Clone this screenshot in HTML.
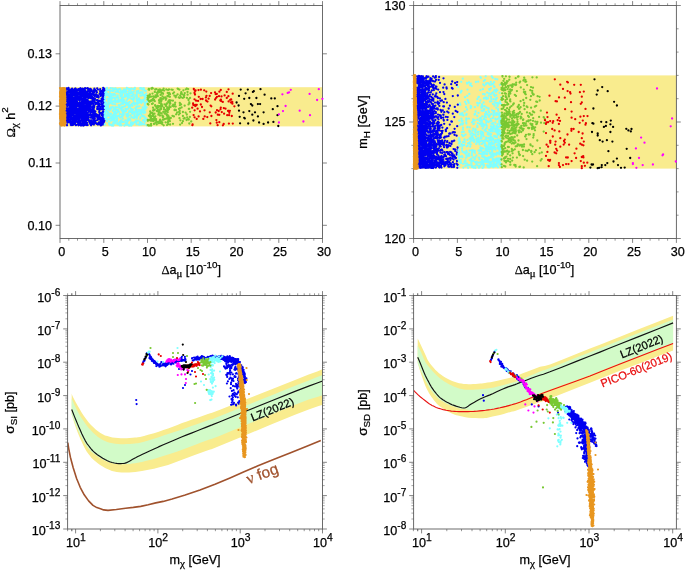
<!DOCTYPE html>
<html><head><meta charset="utf-8"><title>fig</title>
<style>html,body{margin:0;padding:0;background:#fff}svg{display:block;will-change:transform}text{font-family:"Liberation Sans", sans-serif}</style>
</head><body>
<svg width="685" height="570" viewBox="0 0 685 570">
<rect width="685" height="570" fill="#fff"/>
<rect x="60" y="87.2" width="262.5" height="39.2" fill="#F9EC8E"/>
<rect x="60" y="5.5" width="262.5" height="233" fill="none" stroke="#646464" stroke-width="0.95"/>
<path d="M68.8 238.5v2.2M68.8 5.5v-2.2M77.5 238.5v2.2M77.5 5.5v-2.2M86.2 238.5v2.2M86.2 5.5v-2.2M95 238.5v2.2M95 5.5v-2.2M112.5 238.5v2.2M112.5 5.5v-2.2M121.2 238.5v2.2M121.2 5.5v-2.2M130 238.5v2.2M130 5.5v-2.2M138.8 238.5v2.2M138.8 5.5v-2.2M156.2 238.5v2.2M156.2 5.5v-2.2M165 238.5v2.2M165 5.5v-2.2M173.8 238.5v2.2M173.8 5.5v-2.2M182.5 238.5v2.2M182.5 5.5v-2.2M200 238.5v2.2M200 5.5v-2.2M208.8 238.5v2.2M208.8 5.5v-2.2M217.5 238.5v2.2M217.5 5.5v-2.2M226.2 238.5v2.2M226.2 5.5v-2.2M243.8 238.5v2.2M243.8 5.5v-2.2M252.5 238.5v2.2M252.5 5.5v-2.2M261.2 238.5v2.2M261.2 5.5v-2.2M270 238.5v2.2M270 5.5v-2.2M287.5 238.5v2.2M287.5 5.5v-2.2M296.2 238.5v2.2M296.2 5.5v-2.2M305 238.5v2.2M305 5.5v-2.2M313.8 238.5v2.2M313.8 5.5v-2.2" stroke="#505050" stroke-width="0.6" fill="none"/>
<path d="M60 238.5v4.4M60 5.5v-4.4M103.8 238.5v4.4M103.8 5.5v-4.4M147.5 238.5v4.4M147.5 5.5v-4.4M191.2 238.5v4.4M191.2 5.5v-4.4M235 238.5v4.4M235 5.5v-4.4M278.8 238.5v4.4M278.8 5.5v-4.4M322.5 238.5v4.4M322.5 5.5v-4.4" stroke="#505050" stroke-width="0.7" fill="none"/>
<path d="M60 225.3h-4.4M322.5 225.3h4.4M60 163h-4.4M322.5 163h4.4M60 106.1h-4.4M322.5 106.1h4.4M60 53.8h-4.4M322.5 53.8h4.4" stroke="#505050" stroke-width="0.7" fill="none"/>
<text x="61.8" y="255.8" text-anchor="middle" font-size="12.6" fill="#000" stroke="#000" stroke-width="0.25">0</text>
<text x="105.2" y="255.8" text-anchor="middle" font-size="12.6" fill="#000" stroke="#000" stroke-width="0.25">5</text>
<text x="148.9" y="255.8" text-anchor="middle" font-size="12.6" fill="#000" stroke="#000" stroke-width="0.25">10</text>
<text x="192.7" y="255.8" text-anchor="middle" font-size="12.6" fill="#000" stroke="#000" stroke-width="0.25">15</text>
<text x="236.4" y="255.8" text-anchor="middle" font-size="12.6" fill="#000" stroke="#000" stroke-width="0.25">20</text>
<text x="280.1" y="255.8" text-anchor="middle" font-size="12.6" fill="#000" stroke="#000" stroke-width="0.25">25</text>
<text x="323.9" y="255.8" text-anchor="middle" font-size="12.6" fill="#000" stroke="#000" stroke-width="0.25">30</text>
<text x="51.9" y="229.6" text-anchor="end" font-size="12.6" fill="#000" stroke="#000" stroke-width="0.25">0.10</text>
<text x="51.9" y="167.3" text-anchor="end" font-size="12.6" fill="#000" stroke="#000" stroke-width="0.25">0.11</text>
<text x="51.9" y="110.4" text-anchor="end" font-size="12.6" fill="#000" stroke="#000" stroke-width="0.25">0.12</text>
<text x="51.9" y="58" text-anchor="end" font-size="12.6" fill="#000" stroke="#000" stroke-width="0.25">0.13</text>
<text x="191.2" y="274.3" text-anchor="middle" font-size="12.6" fill="#000" stroke="#000" stroke-width="0.25"><tspan font-family='"Liberation Serif", serif'>Δ</tspan>a<tspan font-family='"Liberation Serif", serif' font-size="10.8" dy="3">μ</tspan><tspan dy="-3"> [10</tspan><tspan font-size="9.8" dy="-6.8">-10</tspan><tspan dy="6.8">]</tspan></text>
<text x="0" y="0" text-anchor="middle" font-size="12.6" fill="#000" stroke="#000" stroke-width="0.25" transform="translate(15 122.4) rotate(-90)"><tspan font-family='"Liberation Serif", serif'>Ω</tspan><tspan font-family='"Liberation Serif", serif' font-size="11.3" dy="3">χ</tspan><tspan dy="-3"> h</tspan><tspan font-size="9.8" dy="-7">2</tspan></text>
<path d="M67 112.4h0M84.8 93.3h0M76.7 121.8h0M70.9 95.9h0M79.8 117.9h0M84.2 112.5h0M66.8 118.9h0M71.4 109.2h0M79.9 124.8h0M76.6 93.4h0M75.8 108.9h0M80.5 95.2h0M76.6 89.9h0M85.1 88.9h0M76.4 94.6h0M71.2 103.1h0M70.7 97.8h0M71.8 106.8h0M84.5 95.9h0M69.2 89.6h0M83.7 117.4h0M82.1 93.6h0M74.4 113.2h0M76.2 115.5h0M69.6 121.9h0M77.4 111h0M77.3 104.7h0M66 94.2h0M75.2 91.1h0M77.4 95.1h0M79.2 103.2h0M78.7 97.9h0M68.2 113h0M82 95.9h0M66.5 120.7h0M80.5 116.8h0M81.3 103.7h0M84.4 118.4h0M80.6 123.4h0M83.6 109.2h0M66.9 110.2h0M75.5 88.6h0M71.9 118.8h0M78 123h0M80.6 95h0M79.8 89.8h0M82.8 99.1h0M84.8 89.8h0M80.3 91.8h0M82.7 118.7h0M75.8 109.2h0M70.1 101.7h0M68.7 102.8h0M68.5 111.8h0M75.4 101.4h0M72.6 123.8h0M84.4 124.8h0M72.9 91.1h0M69 120.4h0M72.7 93.5h0M84.5 96.4h0M76.8 103.5h0M68.5 102h0M81.2 108.4h0M82.6 88.6h0M67.9 104.2h0M78.4 103.5h0M71.2 118.6h0M82.5 112.4h0M68.4 115.9h0M77.7 115.6h0M80.2 109.2h0M73.3 119.5h0M83.9 123.8h0M71.7 96h0M69.5 113.6h0M84.7 97h0M74.6 108.5h0M73.9 108.6h0M73 110.1h0M84.9 116.7h0M84.6 103.8h0M68.7 95.6h0M70.3 116.9h0M70.1 109.1h0M83.9 103.8h0M70.4 121.4h0M85 90.6h0M81.9 124.6h0M71.6 101.5h0M69.5 96.2h0M80.9 104.6h0M71.8 101.7h0M83.6 125.5h0M72 98.1h0M71.1 117.5h0M83.6 95.2h0M67.8 100.5h0M82 119.9h0M84.4 103.8h0M66.6 89.7h0M81.6 102.1h0M69.1 98.6h0M67.7 122.5h0M74.2 107h0M69.7 107.7h0M70.7 123.3h0M82.7 115h0M76.8 115.5h0M67.4 101.6h0M83 117.7h0M72 102.4h0M68.5 88h0M84.4 94.9h0M81.5 94.7h0M74.7 108.5h0M69.4 98.6h0M68.5 88.1h0M73 119.6h0M70.1 104.3h0M73.5 107.4h0M70 89.8h0M72.2 124.8h0M77.1 105h0M71.5 115h0M68.7 111.1h0M75.6 90.6h0M75.6 100.7h0M66 104.9h0M69.8 92h0M79.2 108.8h0M73.4 114.5h0M83 101.7h0M76.1 121.5h0M71 105h0M75.3 101.6h0M76.8 117.6h0M82.9 103.5h0M71.3 116.9h0M79.6 98.3h0M74.5 97.3h0M76 95.8h0M67.2 98h0M67.5 99.3h0M72.2 99.7h0M84 116.7h0M70.9 122h0M75.2 88.6h0M75 91.2h0M71.2 124.1h0M76.2 125h0M74.4 100.5h0M70.3 97.3h0M80.9 110.2h0M82.6 106h0M82.8 121.9h0M67.2 113.1h0M67.2 101.3h0M68.3 111.8h0M68.2 91.3h0M80.2 113.5h0M82.4 122.2h0M79.7 119.2h0M71.4 105.2h0M76.5 103h0M74.8 106.1h0M75.9 89.5h0M68.7 117h0M82.7 95.8h0M68 96.8h0M83 104.7h0M85 106.7h0M68.1 116.8h0M68.1 114.2h0M85.3 116h0M81.7 104h0M67 96.5h0M82.6 117.7h0M77 95.6h0M75.1 118.8h0M67.9 122h0M67.3 115.1h0M66.1 120.1h0M71.9 108.7h0M66.6 113.1h0M85.3 99.4h0M82.2 93.7h0M66.5 113.1h0M71.1 114.9h0M67.1 93h0M72 107.5h0M70.5 92.8h0M68 101.8h0M67 108.4h0M66.4 107.6h0M72 89.5h0M66.2 109.9h0M79.7 94.8h0M77 91.2h0M74.9 118.7h0M69.5 105.5h0M83.5 98.1h0M81.1 90.9h0M71.1 117.2h0M82.8 98.9h0M73.8 100.5h0M69.5 100.4h0M82.2 109.6h0M82.3 109.5h0M79 108.9h0M69.9 106.4h0M72.5 96.6h0M72 122.6h0M84.6 124.4h0M76.5 98.4h0M72.9 99.2h0M84.6 120.5h0M81.2 107.6h0M75.3 115.7h0M83.2 114.9h0M84.3 110.7h0M82.2 110.8h0M76.5 118.9h0M74.5 119.7h0M70.8 124.7h0M80.1 95.3h0M79.2 98.9h0M67.7 93h0M74.3 123.7h0M70.4 108.4h0M74.4 94.4h0M79.4 99.4h0M66.7 119.9h0M80.7 89.8h0M74.6 100h0M78.6 99.8h0M79.5 89.7h0M83.6 112.3h0M73.6 118.8h0M80.3 99.8h0M67.5 112h0M74.1 120.6h0M68.7 119.2h0M82.3 95.7h0M70.8 111.1h0M71.4 106.3h0M76.2 102.8h0M68.2 98.7h0M81.7 118.1h0M67.8 114.1h0M83 111h0M84.6 110.2h0M75 103.1h0M77.2 112.9h0M85.2 93.6h0M72.2 121.6h0M79.2 99.6h0M76.8 90.4h0M68.7 89.5h0M82.4 93.1h0M73.1 100.4h0M79.4 90.8h0M66 94.5h0M76.9 101.3h0M67.3 98.8h0M71 115.3h0M79.8 88.8h0M82.1 92h0M73.6 103.9h0M66.4 92.1h0M80.3 113.9h0M81.2 124.4h0M83.2 99.3h0M78.7 112.8h0M70.2 116.6h0M83.6 110.2h0M81.1 98.6h0M82.3 100.4h0M71.7 109.2h0M77.8 105.5h0M82.1 116.4h0M76.1 121.2h0M73.6 102.6h0M85 99.8h0M68.4 120.1h0M79.3 100.1h0M81.6 113.5h0M74.6 107.9h0M84.4 108.3h0M67.8 104.5h0M71.7 124.1h0M74.3 103h0M80.8 116.8h0M67.3 113.6h0M84.1 109.8h0M71.2 123.1h0M67 106.4h0M69.7 108.9h0M73.6 121.1h0M67.2 105.5h0M71.4 92.1h0M82.3 112.4h0M72.7 108h0M74.5 90.2h0M72.2 89.3h0M67.7 119.9h0M81.1 99.1h0M66.1 121.1h0M67.1 97.2h0M82.4 109.6h0M74.4 117.4h0M83.8 109.7h0M83.8 90.6h0M76 113.8h0M82.4 105.9h0M78.1 98.9h0M80.1 109.8h0M85.2 107.9h0M69.5 117.8h0M74.6 92.9h0M84.6 106.6h0M69.1 95.6h0M70.8 122.9h0M81.7 89.3h0M79.5 100.3h0M74.4 115.9h0M71.5 99h0M84 117.6h0M82.1 115.9h0M84.6 116.4h0M80.4 98.9h0M79.6 123.2h0M77 115h0M69.2 105.5h0M76.2 115.4h0M75.9 96.9h0M85.1 106.2h0M68.1 119.6h0M72.9 123.8h0M66.4 116.6h0M79.1 114.9h0M66.5 107h0M75.7 99.3h0M67.5 111.1h0M72.9 125.1h0M70.4 102.7h0M78.7 93h0M68.7 91.3h0M82.4 117.5h0M68.1 98.6h0M78.8 90.2h0M67 95.1h0M81 97.3h0M80.4 94.1h0M78.2 113.4h0M78.3 94.6h0M74.9 97.5h0M72.1 100.5h0M83.6 95h0M73.5 117.4h0M67.3 117.2h0M83.5 111.3h0M83.9 105.1h0M81 125.5h0M75.5 105h0M84.4 114.2h0M75.7 102.9h0M79.8 124.6h0M75.6 105.4h0M75.7 89.5h0M81.9 115.2h0M78.1 114.2h0M81.6 104.3h0M77 97.1h0M76.7 112.5h0M76.8 95.3h0M71.2 89.5h0M74 109.7h0M72.7 113.2h0M73.3 105.7h0M69.7 108h0M70 96.3h0M74.2 112h0M75.9 96.6h0M77 114.4h0M69.9 92.5h0M82.8 100.9h0M76.8 106.4h0M75.8 99.8h0M68.7 114.3h0M79.1 123.2h0M75.5 120h0M75.6 125.1h0M69 99.3h0M80.9 103.9h0M76.8 121.3h0M70 90.5h0M66.1 111.3h0M84.3 97h0M75.7 104.1h0M75.4 119h0M83.1 110h0M75 122.1h0M74.5 99.4h0M75.1 112.9h0M70.4 116h0M73.1 90.3h0M79.5 121.3h0M83.6 124.9h0M66.7 124.6h0M83.4 121.5h0M65.9 113.2h0M69.6 121.9h0M71.2 90.1h0M77.3 114h0M76.2 103.5h0M67.1 115.2h0M65.9 109.8h0M67.7 105.1h0M77.2 97.3h0M80.6 97.6h0M82.7 102.8h0M79.2 105h0M72 91.5h0M77.8 89.9h0M75 103.3h0M71.5 97.5h0M75.3 121.1h0M81.3 99.6h0M77.4 111.7h0M79.9 111.5h0M67 93.4h0M81.2 97.9h0M76.9 90h0M77.2 98.8h0M66.6 88.6h0M70.5 107.4h0M80.5 89.2h0M75.7 100.6h0M77.7 114.4h0M67.4 97.3h0M82.8 113h0M69 108.2h0M72.9 93.8h0M73.7 107.9h0M78.7 121.2h0M71.1 125.2h0M73 112.3h0M73.5 104.9h0M79.2 115.9h0M67.1 88.9h0M72.6 99.9h0M74.5 123.5h0M71.7 96.5h0M74.2 100.5h0M73.8 107.8h0M68 116.4h0M78.2 116.3h0M74.4 94.6h0M80.3 120.8h0M83.3 115.2h0M68.2 99h0M79.3 89.5h0M71.3 102.5h0M81.4 89h0M71.1 112h0M65.9 99.6h0M80.2 105.5h0M80.3 97.2h0M79.8 93.9h0M78.1 117.7h0M67 98.6h0M72.3 121.2h0M67.1 103.5h0M85.3 91.5h0M84.5 90.7h0M76.4 104.9h0M79.2 98.7h0M75 120.6h0M69 121.7h0M67.6 94.6h0M70.2 108.2h0M71.9 105.7h0M66.9 99.3h0M65.9 92.6h0M78.7 109h0M74.8 89h0M80.6 91.7h0M79.5 103.3h0M82.9 91.7h0M72.7 89.6h0M84.1 111.1h0M72.4 94.1h0M83.2 101.4h0M68.2 105.6h0M72.9 118.8h0M67 116.8h0M83.2 90.3h0M79.1 115.3h0M80.6 120.6h0M74.9 112.3h0M77.3 104.6h0M68.4 108.4h0M76.1 101h0M80.1 121.4h0M75.8 102.2h0M75.8 115.7h0M71.7 119h0M78.7 114.4h0M77.4 90.5h0M78.5 120.6h0M78.9 119.7h0M68.6 105.1h0M79.8 123.6h0M67.4 95.7h0M70.5 97.6h0M78.5 103.4h0M83.9 113.4h0M79.4 122.1h0M82.6 89.1h0M74.1 112.4h0M80 122h0M69.8 106.6h0M83.4 95h0M66.6 104h0M69.2 89.3h0M73.5 111.9h0M78.4 120.2h0M71.3 98.4h0M83.5 90.1h0M77.4 93.1h0M80.6 92.4h0M82.2 99h0M84 111.7h0M80.9 95.6h0M78.9 112.7h0M73.6 108.9h0M76.3 119.6h0M85.3 118.8h0M75.5 91.8h0M78.2 124.6h0M70 93.1h0M69.5 91.4h0M75.8 95.6h0M83.1 121.5h0M82.8 108h0M74.6 113.1h0M73.7 109.2h0M67 108.7h0M76.8 96.2h0M69.3 104.4h0M83.4 125.3h0M79.7 100.4h0M72.2 122.8h0M71 110.5h0M79.9 98.6h0M83.9 97.4h0M85.2 114.5h0M76.1 109.7h0M83.3 120.2h0M66.6 100h0M66 103.9h0M79.6 102.6h0M76.8 94.1h0M69.8 100.5h0M70.8 114.8h0M81.1 99.6h0M82.2 101.2h0M82.1 114.4h0M75.6 116.9h0M81.2 96.3h0M83.4 100.9h0M67 125.3h0M85.2 112.9h0M66.6 88.5h0M81.1 114h0M82.3 124.1h0M78.1 118.6h0M72.9 103.3h0M77.9 99.6h0M78.6 121.2h0M74.5 121.5h0M80.7 97.8h0M67.1 99.9h0M77.5 109.9h0M69 113.8h0M72 102.4h0M68 114.7h0M70.7 95.6h0M83.3 100.5h0M81.6 90.2h0M75.7 112.3h0M79.6 105.5h0M69.2 108.4h0M83.1 99.1h0M73.7 113h0M72.7 112.4h0M74 94.2h0M75.1 90.3h0M67.3 104.2h0M72.5 118.2h0M66.8 101h0M77.6 109.4h0M77.9 109.7h0M84.7 96.4h0M75.7 90.8h0M80.7 108.6h0M84.7 92.3h0M76.3 98.1h0M74 122.9h0M70.3 93h0M73.7 98.2h0M80.9 114.8h0M70.9 119.5h0M70.4 90.4h0M69.1 109.7h0M80.9 115h0M68.9 102.8h0M81.8 111.8h0M80.8 93.7h0M81.5 94.4h0M66.4 106h0M78.4 111.8h0M75.3 94.9h0M76.9 105.8h0M65.8 97.9h0M73.3 115.5h0M84.8 124.8h0M76.9 101.3h0M82.6 118.1h0M84.6 97.6h0M85.3 110.3h0M78.4 96.8h0M83.9 93.4h0M79.3 122.8h0M81.5 96h0M85 119.6h0M85.3 118.1h0M84.4 96.2h0M69.9 97h0M75.1 94.8h0M83.5 119.3h0M72.5 97.6h0M68.4 95.8h0M71.1 99.8h0M79.6 90.3h0M76.7 118.4h0M70.5 111.8h0M70.9 121.6h0M75.6 101.8h0M83.9 107.3h0M73.3 95h0M67.9 99.8h0M66.2 120.6h0M83.4 119.6h0M75.2 101.3h0M71.4 93.2h0M71.4 99.6h0M75.6 95.1h0M76.1 106.7h0M68.5 109.7h0M83.5 116.4h0M76.4 97.3h0M79.8 97h0M82.4 98.4h0M69.6 117.3h0M69.9 98.5h0M79.4 102.4h0M73.5 122.4h0M82.8 125.3h0M76.7 102.2h0M77.3 103.4h0M84.7 97.9h0M82 117.6h0M71.2 117.3h0M79.4 118h0M75.9 93.4h0M75.2 123.9h0M83.6 100h0M78.5 89.1h0M79.9 109.9h0M73.4 98.2h0M67.4 97h0M74.2 104h0M68.8 114.1h0M66 94.7h0M71.3 94.6h0M81.7 123.8h0M75 100.6h0M82.3 116.5h0M78.5 122.7h0M67.2 110.3h0M71 124.4h0M67 121.3h0M83.7 90.2h0M83.1 107h0M83.4 105.6h0M85 99.9h0M69.6 111.8h0M84.9 97.6h0M79.2 98h0M73.1 111.1h0M80.9 106.6h0M84 112.6h0M66.5 111.1h0M66.5 97.1h0M76.3 103.4h0M79.2 103.3h0M81.6 108.8h0M77.4 111.1h0M75.6 108h0M65.9 93.6h0M71.9 96.6h0M69.5 114h0M74.4 94.1h0M78.6 94.6h0M71.6 95.5h0M79.1 107h0M66 114.5h0M69.3 97.8h0M67.8 110.4h0M76.7 97.4h0M85.3 103h0M68.4 118.1h0M75.8 105.5h0M77.6 105.8h0M74.3 89.6h0M81.4 108.7h0M79.8 90.2h0M75 100.9h0M76.1 114.1h0M70.8 115.6h0M79.4 90.7h0M82.6 111.5h0M71 121.6h0M66.6 109.6h0M82.5 115.3h0M83.7 106.3h0M83.7 89.7h0M82 95.2h0M78.5 125.3h0M75.6 119.8h0M79.1 119.8h0M65.9 106.3h0M78.5 115.3h0M84.2 94.8h0M76 111.4h0M73.6 122.5h0M75.7 90.8h0M78.3 116h0M79.5 106.4h0M74.9 120.1h0M79.5 114.5h0M81.8 91.9h0M79.5 120.2h0M80.1 123.5h0M73.5 116.4h0M80.8 116.1h0M75.9 106.1h0M83.8 96.2h0M72 94.3h0M82.3 119.4h0M72.8 103h0M81.2 112.1h0M74.2 123.8h0M76.2 91.5h0M73 101.3h0M68.7 111.5h0M76.6 114.4h0M83.6 96h0M71.2 112h0M80.2 113.9h0M66.8 117.7h0M70.5 90.7h0M84.7 92.3h0M84.3 96h0M69.8 122.4h0M80.1 124h0M66.5 113.7h0M74.3 98.4h0M74.1 118.2h0M74.9 123h0M84.1 110.7h0M68.1 93h0M76.3 119.1h0M85.4 115h0M65.8 122.1h0M77.4 92.8h0M79.5 123.3h0M71.1 109.6h0M78.1 110.7h0M72.4 108.7h0M83.8 108.7h0M69.1 109.5h0M80.4 90.9h0M82.7 105.9h0M70 96.4h0M67.3 120h0M81.8 103.6h0M85.1 96.4h0M65.8 119.2h0M80.7 94.8h0M72 91h0M76.7 108h0M78.2 119.7h0M82.4 100.9h0M74 93.7h0M77.2 102.6h0M79.4 99.4h0M72.8 112.5h0M68.7 96.9h0M76.7 113h0M68.2 103.4h0M74.7 103.3h0M67.1 113.8h0M79.5 97.3h0M76.3 119.1h0M80.3 88.4h0M72 96.3h0M82.8 114.3h0M80.5 88.5h0M80.4 93.3h0M69.4 105.5h0M77.7 97.6h0M82.7 115.5h0M84.7 93.4h0M75 101.8h0M73.5 91.8h0M83.5 92.7h0M66.8 88.6h0M81.3 120.7h0M72.1 95.2h0M71.3 104.2h0M77.8 98h0M80.3 115.6h0M84 123.3h0M80.4 123.4h0M81.1 102.5h0M66.3 96.1h0M84.3 112.9h0M81.8 90.1h0M81.2 98.5h0M71.6 104.4h0M82.1 114.6h0M85.1 88.2h0M74.3 111.3h0M74.6 102.6h0M83.4 107.1h0M68.8 102.6h0M73.5 98.7h0M67.7 119.5h0M79.5 124.6h0M79.3 106.8h0M83.8 111.1h0M83.1 121.4h0M75.3 96h0M72.5 121.2h0M74 102.8h0M70.1 117h0M65.8 120.6h0M68.9 96h0M71.2 104h0M77.2 116.2h0M75.2 113.4h0M66.6 111.2h0M77.2 90.8h0M84.8 110.5h0M75.2 95.9h0M76 119.9h0M79.4 91.2h0M71.9 122.6h0M67.9 111.6h0M82.8 113.6h0M78.2 89.4h0M71.3 96.9h0M70.9 112.9h0M72.1 88.6h0M66.8 103.5h0M74.2 108.9h0M72 118.1h0M84 121.8h0M84.2 102.2h0M74.6 120.9h0M69.1 121.8h0M81.8 99.5h0M65.8 107.9h0M69.6 95h0M73.3 103.3h0M80.4 114.2h0M81.6 117.3h0M73.6 101.1h0M73.2 107.7h0M75.2 109.4h0M83.7 101.4h0M76.8 95.2h0M76.9 109.9h0M79 104.9h0M68.5 101.2h0M71.2 95h0M83.9 114.4h0M94.3 123.4h0M86.7 99.4h0M89.3 103.3h0M88.4 91.2h0M94.1 120.3h0M90.3 102.2h0M90.4 108.3h0M87.9 115.4h0M86.5 101.7h0M93.1 115h0M85.9 100.6h0M89.5 94h0M92 111.3h0M87.8 100.4h0M85.8 95.3h0M90.1 108.4h0M93.2 118.1h0M91.9 109.8h0M86.3 104.6h0M93.8 117.4h0M92.1 121.3h0M93.1 97.6h0M93.9 124.6h0M90.3 109.7h0M93.1 118.3h0M93.9 105.6h0M93.5 104.6h0M88.7 106.6h0M90.4 89h0M86.2 119.9h0M84 121.4h0M94.2 105.6h0M93.7 122h0M88 117.2h0M86 102.9h0M85.6 99.6h0M94.7 112h0M87.3 91.6h0M93.3 123.1h0M94.9 89.9h0M92.6 99.5h0M85.9 106.5h0M87.1 123h0M85.4 101.7h0M85.5 115h0M89.2 106.3h0M93.9 110.2h0M89.4 120.4h0M90.3 121.8h0M91 115.2h0M89.6 92.3h0M90.3 121h0M92.2 124h0M86.5 120.4h0M85.5 88.5h0M84.1 95.8h0M86.2 117.5h0M89.4 120.9h0M87.7 93.6h0M86.9 95.2h0M92.4 123.3h0M89.8 108.8h0M90 114.2h0M93.1 119h0M88.7 106.9h0M88.9 94.1h0M84.5 118.9h0M88.6 94.5h0M84.1 88.9h0M88.5 109.5h0M94.1 116.5h0M88.2 110h0M83.9 94.1h0M88.6 110.2h0M91.3 122.6h0M87.7 102.8h0M85.2 98.5h0M85.8 119h0M90.7 117.6h0M84.4 105.9h0M91.1 96.3h0M89.7 89.5h0M91 110.6h0M91 89.5h0M89.8 101.7h0M86.2 125.1h0M89.6 114.6h0M89.2 121.5h0M85.5 106.2h0M91.6 94.5h0M85.3 106.4h0M89.7 120.8h0M90.9 96.8h0M87.4 119.3h0M85.5 99.7h0M87.3 110.6h0M91.8 93.8h0M88.6 120.4h0M91.1 120.4h0M93.3 107.8h0M86.8 99.9h0M89.6 122h0M86.8 117.6h0M86.6 96.9h0M84.2 102.8h0M92.8 103.7h0M90.7 91.3h0M87.2 107.7h0M83.8 98.5h0M92.9 91.8h0M92.6 111.9h0M86.2 94.7h0M91.2 109.3h0M87.5 118.3h0M89.8 122.9h0M87.5 104.7h0M93.1 99.6h0M92.3 117.4h0M91.1 110.6h0M93.5 94.5h0M94.5 120.6h0M87.6 88.1h0M95 121.6h0M90.9 124.6h0M85.4 99.5h0M88.1 94.2h0M85.6 120.4h0M89.4 103.3h0M88.3 114.3h0M91.6 103h0M84.8 100.2h0M87 94.7h0M90.3 123.9h0M90.2 90h0M85.2 123.2h0M94.7 102.2h0M88.8 98.1h0M91.4 122.1h0M90.3 114.6h0M83.8 120.4h0M89.9 89.5h0M87.4 115.7h0M86 118.2h0M90.6 112.2h0M93.8 122.2h0M87.2 93.2h0M91.5 116.1h0M86.7 103.3h0M93.3 94.3h0M84.7 123.3h0M83.7 95.9h0M83.9 105h0M91.5 96.3h0M85.1 106.9h0M86.1 109.4h0M88.5 98h0M92.9 98h0M90 89.5h0M93.5 94.9h0M91.1 125.3h0M86.1 114.1h0M84.4 122.7h0M91.1 114.6h0M84.1 102.4h0M90.4 97.6h0M92.2 109.3h0M86 120.6h0M91 97.4h0M87.6 113.1h0M90.9 104.3h0M91.2 90.3h0M86.2 91.6h0M91.4 115.1h0M91.7 111.7h0M87.4 107h0M88.5 93.4h0M92.9 93h0M86.8 116h0M93.4 91.7h0M92.4 97.1h0M94 91.7h0M94.9 98.5h0M86.5 119.2h0M87.4 94.1h0M87.1 123.1h0M89.9 106.3h0M90 92.1h0M90.1 114.8h0M83.7 95h0M94.2 106.5h0M86.6 111h0M88.1 89.9h0M94.5 101h0M88.9 101.6h0M92.8 101.6h0M87.4 105h0M94.7 121.9h0M84.2 123h0M90.4 93.4h0M87.4 113.3h0M94.3 117.4h0M87.5 106.2h0M92.4 110.2h0M89.7 90.2h0M85.5 93h0M86.2 114.2h0M89.9 106h0M89.9 94.2h0M85.5 111.2h0M94.7 95.1h0M89.7 95.6h0M84.3 124.8h0M92.5 118.4h0M91.1 90.6h0M87.7 125.1h0M89.1 114.7h0M94.5 114.8h0M85.7 122.3h0M92 97h0M84.1 100.2h0M88.5 97.4h0M88 105.2h0M86.1 121.5h0M90.9 123.8h0M90.7 95.1h0M84.4 99h0M89.9 120.7h0M92.9 122.7h0M92.3 107.3h0M87.7 93.8h0M83.7 117.3h0M90.6 98h0M85 88.8h0M88.9 97.1h0M93.4 90.6h0M89.2 105.4h0M91.2 95.5h0M90.3 97.3h0M88.2 96.4h0M93 107.4h0M83.8 106.1h0M93.3 92h0M93.2 113.2h0M92.1 115.8h0M84 103.5h0M93.1 114.3h0M92.2 111.2h0M88 119.4h0M85.2 120.1h0M93.1 106.2h0M90.4 114.9h0M83.9 94h0M92.8 98.8h0M88.3 117h0M91.4 90.1h0M88.1 96.5h0M88.7 102.7h0M87.8 117.3h0M89 111.7h0M86 99.6h0M88.9 110.7h0M88.5 117.3h0M87.8 96.9h0M87.1 105.9h0M93.3 115.9h0M86.1 124.2h0M93.7 112.1h0M89.5 120.7h0M91.3 110.9h0M84.1 107.7h0M93.2 103.8h0M94.3 102h0M88.4 118.1h0M88.6 95.4h0M90.7 91.4h0M84.8 111.4h0M89.7 92.5h0M88.3 88.6h0M93.4 120h0M84.6 101.4h0M86.4 112.5h0M89.5 109h0M93.4 109.6h0M90.1 115.4h0M86.3 115.9h0M94.2 111.1h0M94 99.9h0M87.2 109.4h0M84.3 107.7h0M84.8 110.2h0M94.4 88.7h0M87.5 88.6h0M87.5 100.8h0M83.7 93.4h0M90.7 106.2h0M91.4 101.4h0M91.7 112.1h0M92.4 99.3h0M89.2 90.7h0M87.3 106.9h0M102.4 122.9h0M101.6 98.6h0M98.2 116.3h0M103.1 123.2h0M97.9 100.5h0M101.6 106.8h0M102.6 104.4h0M95.6 102.6h0M99.6 114.9h0M97.9 124.5h0M95.6 102.8h0M96.2 94.2h0M102.8 122.4h0M103.7 109h0M94.6 89.4h0M96.5 123.8h0M97.5 123.6h0M97.9 89.6h0M102 115.4h0M100 108.7h0M101.2 94.5h0M97.6 102.8h0M95.4 111.5h0M99.7 93.7h0M102.8 91.1h0M97.9 95.5h0M101.8 94.9h0M94.8 118.7h0M97.8 116.1h0M101.3 120.7h0M97.6 118.2h0M99.4 118.9h0M96.9 92.2h0M100.6 122.5h0M97.2 109h0M100 91.1h0M100.3 117.5h0M97.2 88.4h0M97.5 103.6h0M100.2 94.7h0M94.6 121.5h0M99.7 104.1h0M102 91.3h0M101 119.5h0M98.1 103.1h0M103.4 93.9h0M100.5 106.7h0M99.2 112h0M100 113.2h0M96.6 116.5h0M98.6 97.5h0M95.7 116.3h0M103.4 120.9h0M102.1 124.2h0M103.9 108.2h0M101.4 91.1h0M94.4 92.1h0M100.4 123.7h0M98.9 122.4h0M96.1 114.2h0M100.6 93.1h0M97.2 115h0M99.4 114.4h0M99.2 119.1h0M100.1 109.6h0M102.5 120.2h0M100.6 125.3h0M100.5 120.8h0M99.5 118.7h0M97.7 103.9h0M101 122.3h0M102.7 121h0M100.6 122.4h0M104.1 93.9h0M97 100.2h0M98.9 119.1h0M103 111.7h0M94.8 102.6h0M101.1 120.6h0M95.6 120.6h0M102.2 118h0M100.7 125.4h0M101.5 104.5h0M104 107.5h0M103.9 109.3h0M101.9 114.4h0M94.4 92.6h0M103 90h0M98.5 108.5h0M102.8 96.2h0M97.5 119.9h0M98.5 115.9h0M95.5 114.7h0M99 124h0M98.4 102.3h0M97.2 95.6h0M100.5 93.9h0M97.3 106.9h0M102.7 96.1h0M95.7 122.7h0M101.3 102.2h0M94.9 99.9h0M96 90.8h0M97.4 102.6h0M101.5 124.4h0M96.8 96.9h0M96.3 94.7h0M101.4 109.2h0M95.8 104h0M98.1 106.2h0M101.7 119.6h0M102.4 106.8h0M101.7 125.1h0M103.7 107.5h0M102.7 93.5h0M99.1 105.9h0M98.8 109.6h0M103.5 100.6h0M98.2 119.2h0M99.3 108.5h0M103.2 88h0M98.6 118.1h0M99.4 100.9h0M95.2 113.6h0M100.3 92.9h0M94.1 107.8h0M99.7 116.9h0M100.2 89.2h0M101.2 100.3h0M101.2 112.9h0M102.2 98.5h0M98.5 103.8h0M98.8 100.9h0M94.8 96h0M98.3 96.7h0M99.8 101.3h0M100.6 95.9h0M99.9 109.8h0M103.6 116.5h0M103 107.9h0M103.6 89.3h0M103.5 104.8h0M102.6 104h0M103.5 105.9h0M104.6 91h0M103.6 99.7h0M103.2 104.4h0M104.4 120.8h0M102.8 99.1h0M103.8 114h0M103.8 97.9h0M103.9 106.1h0M103.5 122.5h0M103 120.1h0M103.9 113.8h0M103.2 99.7h0M103.9 109.3h0M102.6 93.1h0M104 88.9h0M103.5 92.2h0M103.9 99.2h0M103.8 101.7h0M104.2 89.4h0M104.6 114.5h0M102.4 90.9h0M103.5 121.6h0M103.2 88h0M104.2 94.1h0M103 117h0M103.7 121h0M104.2 88.8h0M103.8 117.5h0M103.7 117.3h0M104 107.8h0M104.3 113.9h0M103 109.4h0M104.4 112.3h0M104.4 91.6h0M102.9 101.2h0M103.7 95.7h0M102.6 115h0M103.5 95h0M104.6 88.8h0M103.9 121.9h0M104.1 105.6h0M103 112.7h0M102.8 123.7h0M103.6 102.7h0M103.4 124.3h0M102.7 115.2h0M102.8 97.7h0M103 113.3h0M103.8 98.6h0M103.6 118.8h0M102.6 104h0M103.2 116.7h0M104.3 118.8h0M103.3 121.6h0M104.1 108.2h0M104.4 90.7h0" stroke="#0000F0" stroke-width="2.3" stroke-linecap="round" fill="none"/>
<path d="M119.1 116h0M132.9 124h0M142.1 112.3h0M123 103.9h0M145.1 97.8h0M115.4 88.5h0M108.4 119.4h0M117.9 102.1h0M145.3 97.1h0M142.3 101.1h0M141 123.7h0M127.4 121.8h0M118.3 98.2h0M137.5 115.9h0M144.7 105.5h0M143.9 89.8h0M145.7 96h0M133.9 122.7h0M141.9 109.7h0M137.3 104.2h0M132.7 94.6h0M110.7 117.9h0M127.8 119.1h0M107.5 94.5h0M135.9 107.5h0M110.7 114.3h0M128 97.4h0M115.3 111.8h0M147.1 101.2h0M114.2 112.2h0M134.1 113.3h0M122.8 118.7h0M116.8 119.5h0M144.1 124.3h0M127.4 96.4h0M133.4 89.2h0M136.6 98.9h0M142.2 89.5h0M144.7 104.2h0M118.1 109.9h0M147.2 120.4h0M123.4 106.7h0M109.8 110h0M112.9 91.2h0M124.7 90.3h0M120.1 108.3h0M139.9 99.9h0M133.7 99.4h0M118.7 99.9h0M123 90.9h0M127.6 121.5h0M122.5 110.8h0M128.2 108.7h0M106.8 88.8h0M117.1 120.9h0M106 109.8h0M110.7 88.1h0M111 113.6h0M105.9 105.3h0M136.5 112.5h0M121.8 121.9h0M128.2 96.2h0M113 119.3h0M114.2 101h0M136.6 109.5h0M121.2 95.3h0M106.2 104h0M131.8 117.2h0M108.8 102.9h0M111 120.7h0M121.9 107.2h0M136.7 110.9h0M104.8 117.1h0M106.8 109.9h0M127.5 120.3h0M141.2 112.5h0M124 92.4h0M117.1 119.5h0M120.6 117.4h0M121.9 95.5h0M125.6 122.4h0M142.8 109.8h0M113.2 125.5h0M121.5 101h0M116.4 97.2h0M106.2 102.6h0M121.6 121.3h0M135.3 108.3h0M145.7 95.8h0M127.1 124.6h0M105.5 94.5h0M111 94.4h0M125.5 111.3h0M146.9 101.8h0M145.3 95.4h0M108.4 112.5h0M140.4 111.5h0M118.7 107.3h0M143.6 100h0M143.9 111.2h0M114.9 94.4h0M130.5 111.9h0M129.2 97.5h0M122.6 114.3h0M124 90.7h0M133 95.3h0M143.1 101.5h0M127.3 116.5h0M129.1 93.2h0M126.8 124.7h0M124.8 91.2h0M142.9 112.1h0M118.5 123.3h0M113.8 114.4h0M117.5 96h0M113.8 109.7h0M136.8 100.6h0M144.2 108.7h0M125.1 111.4h0M128 116.5h0M144 120.3h0M106.1 117.8h0M112.6 115.5h0M106.8 94.9h0M120.3 95.1h0M132.6 110.6h0M131 123.7h0M107.4 108.5h0M110 99h0M122.1 116.7h0M135.9 107.7h0M137.8 103.1h0M118.7 105h0M142.6 116.3h0M125.2 102.4h0M122.8 99.2h0M126.9 88.5h0M144.8 96.4h0M115.4 120.9h0M108.2 106.3h0M114.3 94.7h0M113.1 95.1h0M121.2 120.4h0M144.9 112.7h0M117.6 100.7h0M115.5 101.2h0M139.4 100.5h0M137.7 106.7h0M105.2 104.2h0M123.7 114h0M115.2 99.4h0M112.8 117.1h0M106.4 118.7h0M128.2 113.3h0M121.5 114.6h0M133.7 113h0M138.7 124.6h0M127.3 88.5h0M114.3 93.9h0M126.4 95.4h0M132.4 117.6h0M134.4 97.2h0M127.3 123.9h0M132.9 103.5h0M105.8 119.2h0M132.3 105.9h0M139.5 123.1h0M112.2 103.9h0M131.4 88.7h0M125.4 120.3h0M116.2 110h0M133.9 117.9h0M140.2 112.9h0M136.7 91.4h0M115 121.3h0M129.8 97.6h0M120.8 104.7h0M120.7 90.9h0M126.6 102.4h0M107.1 119.2h0M112.2 90.8h0M146.6 119.1h0M114.4 121h0M141.7 95.4h0M137.7 91.6h0M139.4 102h0M115.2 122.9h0M122.3 111.3h0M121.4 120.8h0M140.1 122h0M128.9 119.4h0M124.4 125.5h0M130.1 93.4h0M127.9 115.2h0M115.8 117.1h0M134.3 115.7h0M129.6 105.8h0M129.5 105.5h0M128.2 105h0M114.9 100.9h0M128 96.1h0M129.1 89.5h0M113.5 97.7h0M106.4 89.1h0M125.3 110.8h0M132.3 122.6h0M121.6 110.2h0M110 97.9h0M107.1 121.4h0M137.2 114.7h0M143.6 116h0M145.7 118.2h0M110.9 102.2h0M121.5 108.3h0M137.6 112.9h0M122.9 113.8h0M145.2 90.9h0M110.3 99.8h0M112.1 118.3h0M140.3 95.6h0M107.3 104.8h0M112.8 110.8h0M145.3 105.5h0M129.1 111.8h0M109.4 124.7h0M110.4 100.2h0M130 107h0M105.3 99.1h0M133.3 100.5h0M106.9 115.7h0M108.5 95.7h0M112 125.5h0M129.4 105.5h0M135.9 110.4h0M144.2 95.9h0M116.8 107.4h0M115.7 112.9h0M120.4 89.6h0M125.7 92.6h0M136.5 115.1h0M135.8 95.3h0M124.8 94.9h0M134.9 88h0M139.2 124.8h0M139.8 114.2h0M130.7 105.1h0M128.8 107h0M120.3 108.4h0M110.2 90.7h0M117.4 124.2h0M131 122.6h0M135.4 117h0M126.2 111h0M105.9 91.7h0M105.3 104.4h0M106.3 94.1h0M109 123.3h0M117.4 96.7h0M139.4 110.7h0M118.5 97.9h0M143 94.4h0M106.5 103.5h0M134.5 113.9h0M108.6 104.3h0M128.6 115.2h0M134.6 104.7h0M136.9 106.7h0M109.7 93.4h0M110 113.8h0M105.3 96.5h0M147.1 119.8h0M126.2 91.3h0M120.7 96h0M115.6 107.1h0M142.3 92.7h0M131.9 93h0M111 107.4h0M139.1 98.3h0M131.4 122.3h0M129.4 101.9h0M117.6 116.1h0M133.5 112.8h0M132.9 111.9h0M125.8 124.5h0M109.2 90h0M125.8 122.5h0M123.2 122.1h0M122.8 107.6h0M136.3 123h0M126.2 104h0M145.2 103.2h0M131.1 108.9h0M130.1 90.2h0M132.4 111.5h0M143 120.5h0M132.8 109.4h0M136.5 95.8h0M105.4 113.8h0M121.5 103.3h0M111.2 95.4h0M128.6 103.4h0M145.5 108.9h0M117.8 100.7h0M105.5 118.1h0M104.7 116.1h0M107.4 93.3h0M115.5 98.8h0M110 103.2h0M107.3 90.4h0M108.5 99.2h0M107.7 112h0M128 119.7h0M106.2 111.8h0M110.4 124.8h0M111.6 96.9h0M145.1 121.3h0M140.2 88.5h0M106.3 88.8h0M127 123.1h0M111 99.9h0M125.5 109h0M144.8 98.7h0M119.7 114h0M120.7 99.9h0M128.2 95.5h0M119.4 125h0M108.7 95.7h0M131.4 98.8h0M126.3 114.1h0M111.3 94.4h0M114.2 115h0M130.8 125.4h0M119.3 106.7h0M112.4 124.3h0M134.6 112.4h0M112.7 118.4h0M140.5 93h0M110.4 120.6h0M127.6 116.5h0M144.8 117.2h0M111.4 94.5h0M135 111.7h0M141.9 115.3h0M118 111h0M130.9 124h0M146.6 107.3h0M124 112.7h0M126.5 104.7h0M112.7 94.4h0M127.8 103.5h0M126.7 115.7h0M111.8 98h0M138.3 99.5h0M119.8 121.9h0M105.3 101.8h0M112.1 124.9h0M144.7 122h0M126.5 109.4h0M130.6 115.4h0M138.5 120.6h0M130.6 90.6h0M135.2 103.7h0M126.7 116.4h0M143.9 113.1h0M131.4 125.5h0M105.3 115h0M108.9 108.9h0M115.6 101.7h0M140.4 100.2h0M143.3 111.6h0M143.3 111.7h0M130.8 108.8h0M143.9 88.4h0M109.4 96.2h0M142.9 124.2h0M112 98.8h0M124.8 96.6h0M113.7 94.9h0M139.2 93.2h0M130.3 120.2h0M114 104.1h0M105.3 92.4h0M123.2 111.2h0M113.4 122.5h0M129.2 125.5h0M125.7 110.1h0M133.5 112.1h0M129.5 111.1h0M115.7 115.4h0M136.7 110.7h0M119.5 101.5h0M116.5 89.5h0M128.1 120.8h0M128 124.9h0M129.4 89.3h0M130.6 88.9h0M119.7 125.3h0M141.4 102.7h0M112.8 90.6h0M110.6 96.4h0M141 100.9h0M141.8 123.1h0M147.2 99.9h0M137.4 113.4h0M111.2 117.4h0M131.4 92h0M122.6 99.1h0M125.3 96.6h0M112.7 88.4h0M132.7 99.1h0M117.8 111.9h0M135.6 103.5h0M146.2 93.7h0M114.6 117.6h0M122.3 93.6h0M138.4 91h0M142.1 100.3h0M137.2 102.5h0M127.7 99h0M140.8 101.7h0M109.4 123.1h0M138.5 99.9h0M123.1 103.6h0M112.2 117.8h0M137 117.9h0M112.3 101.8h0M133.7 91.7h0M137.1 100.8h0M104.7 100.9h0M143.7 101.6h0M118.3 92.2h0M121 91.6h0M105.1 112.2h0M138.8 102.9h0M144.9 106.8h0M125.2 106.2h0M142.7 107.3h0M122.1 99.1h0M126.2 110.4h0M123.5 121.9h0M105.9 104.6h0M108.5 101.8h0M141.1 124.5h0M119 111.7h0M114.4 89.7h0M105.7 110.8h0M129.2 118.9h0M136.7 95.4h0M107.6 116h0M114.9 118.1h0M128.3 118.9h0M112.1 101.4h0M142.8 92.3h0M126.3 104h0M144.8 95.1h0M132.6 94.1h0M124 101.5h0M112.4 115.9h0M123.4 115.3h0M142.2 92.5h0M144.4 124.2h0M124.1 89.3h0M115.7 91.9h0M111.9 98.4h0M128.5 91.6h0M145 105.6h0M115.5 88.8h0M129.8 118.3h0M141.3 111.3h0M128 88.7h0M121.5 125.2h0M112.2 119.1h0M132.1 113.4h0M125.1 103.1h0M138 115.2h0M126.8 88h0M123.4 97.5h0M108.1 107.4h0M121.3 125.3h0M117.2 120.5h0M111.1 108.5h0M119.9 89.1h0M108.8 109.4h0M141.8 89.1h0M112.9 118.7h0M132.2 113.8h0M127.7 97.2h0M125.9 89.7h0M141.4 88.3h0M106.4 108.2h0M108.2 100.4h0M137.1 103.8h0M133.6 97.7h0M145.8 90.9h0M131.2 95.8h0M122.2 99.2h0M104.8 124.4h0M134.3 118.1h0M104.6 113.8h0M132.9 95.1h0M107.9 114h0M122.3 101.4h0M144 120.3h0M113.2 116.2h0M105.5 98.9h0M104.8 113.2h0M112.8 106.8h0M117.7 96.5h0M136.9 97h0M131.5 110.2h0M143.8 94.9h0M109.6 115.9h0M120.1 117.6h0M117.4 91.4h0M143.7 116.5h0M146.6 125.3h0M112.6 90.4h0M114.8 98h0M138.3 114.1h0M114.2 113.7h0M120.6 123.6h0M140.8 92.2h0M128.3 94.2h0M141.9 124.3h0M136.1 116.8h0M112.3 101.9h0M147.3 101.6h0M139.5 106.3h0M141.5 123.9h0M140.9 122.4h0M120.2 93h0M137.4 120.9h0M122.7 102.1h0M132.5 124.1h0M110 118.5h0M138.7 114.4h0M138.8 109.8h0M140.1 110.1h0M142.1 123.4h0M106.8 111.2h0M146.5 101.8h0M105.6 102.8h0M129.7 97.6h0M143.4 88.3h0M117.3 118.5h0M115.3 94.8h0M117.7 95.3h0M136.1 120.5h0M114.4 120.2h0M141.3 103h0M121.7 121.1h0M116.5 113.7h0M145.3 109.4h0M115.3 108.5h0M129.1 106.1h0M113.6 88.8h0M140.4 88.1h0M134 98.8h0M117.7 89.9h0M128.9 95.4h0M110.8 108.1h0M120.9 100.1h0M115.3 104.3h0M136.5 124.3h0M126.6 100.3h0M112.6 115.8h0M113.2 94.1h0M129.9 106.5h0M107 88h0M104.8 98.1h0M140.2 118.4h0M117.3 123.2h0M123.1 110.1h0M136.7 92.3h0M112.5 120h0M115.8 116h0M124 100.1h0M145.2 112.2h0M108.1 98.7h0M114.7 123.5h0M132 96.1h0M122.3 92.7h0M104.9 108h0M122 101.1h0M140.4 117.2h0M141.3 113.3h0M144.3 119.6h0M122.3 115.3h0M113.4 90.8h0M104.7 104.5h0M116.1 101.9h0M134.7 89.3h0M133.9 102.5h0M106.3 106.5h0M136.8 93.9h0M135.1 121.9h0M114.2 122.7h0M115.4 102.1h0M133.7 94.4h0M122.9 112.6h0M117.9 91.1h0M137.4 114.9h0M114 101.4h0M113.6 107.9h0M141.3 113h0M137.8 112h0M121.7 97.8h0M108.6 114.1h0M119.2 89.2h0M120 121.6h0M131.9 104h0M107 116.1h0M128.7 94h0M132.7 117.6h0M113.3 123.3h0M128.8 125.4h0M115.3 111.8h0M127 94h0M110.1 91.3h0M142.7 124.2h0" stroke="#80FFFF" stroke-width="2.3" stroke-linecap="round" fill="none"/>
<path d="M148.4 104.6h0M161.1 109h0M160.9 113.1h0M152.3 88.4h0M163.7 125.3h0M168 124.3h0M154 116.6h0M162.7 89.9h0M157.8 96.2h0M164.1 97.7h0M160.1 109.3h0M160.6 122.1h0M149.9 114.4h0M158.5 92.3h0M168.7 101.1h0M161.6 98.3h0M150.2 119.3h0M149.7 115.1h0M169.6 96.7h0M148.9 100.9h0M149.9 125.5h0M149.9 94.3h0M148.4 125.6h0M161.2 91h0M147.8 104h0M153.6 119.4h0M165.4 97.3h0M147.6 97.8h0M151 96.7h0M152.5 113.1h0M157.4 122h0M166 106h0M158.3 107h0M169.6 103.8h0M157.3 94h0M168 117.8h0M162.9 117.4h0M156.1 119.1h0M152.2 88h0M162.8 116.2h0M160.5 108.2h0M159.9 89.4h0M160.3 120.5h0M148 97.7h0M159.3 102.9h0M163.1 93.8h0M161.4 106.8h0M165.3 111.9h0M163.1 98.8h0M168.3 101.5h0M161.5 100.5h0M166.9 115.5h0M160.6 123h0M168.3 101.8h0M153.5 100.2h0M153.1 98.8h0M149.9 116.7h0M156 120.2h0M147.7 99.5h0M169.3 120.7h0M170.1 124.5h0M167.7 112.2h0M169.5 93.5h0M157.9 109.5h0M165.3 110h0M152 120.7h0M159 112.2h0M147.7 125.1h0M148.1 125.1h0M161.7 105.6h0M162.2 105.9h0M168.8 118.6h0M147.8 104.1h0M154.8 117.3h0M154.8 101.2h0M169 109h0M155.1 97h0M147.7 95.8h0M152.1 116h0M169.3 102.5h0M148.9 88.8h0M169.9 121.2h0M167.5 114.9h0M159 100.2h0M155.5 106.3h0M152 103.9h0M169 107.6h0M159.3 106.2h0M159 121.6h0M162.3 115.7h0M168.6 116.5h0M163.6 119.5h0M156.9 111h0M153.5 120.8h0M166.1 105.9h0M162.2 124h0M154.7 109.7h0M167.4 107.3h0M149.3 95.5h0M149.5 101.8h0M148.9 115.8h0M151.4 88.5h0M148.6 89.4h0M166.3 89.4h0M156 119.7h0M166.3 98.5h0M147.8 120h0M162.3 122.4h0M163.2 116.5h0M161.6 113.4h0M161.6 92.5h0M153.1 115.3h0M168.8 94h0M151.8 99.8h0M160.3 121.2h0M151.1 123.8h0M158.5 90h0M159.3 101.3h0M156.6 121.8h0M148.2 99.1h0M159.9 101.3h0M158.7 113.8h0M158 91.4h0M160.1 90.2h0M155.4 116.3h0M153.2 96.6h0M151.8 88.8h0M160.6 94.9h0M164.1 90.6h0M150.2 111.5h0M161.5 98.7h0M150.9 119.8h0M161.6 105.9h0M150.6 100.6h0M161.5 93.5h0M160.2 120.5h0M156.7 108.2h0M156.9 92.6h0M159.9 91.1h0M167.8 122.9h0M168.4 120.8h0M153.1 110.7h0M164.5 104.3h0M163.3 111.8h0M149.1 89.8h0M168 122h0M163.9 107.7h0M165.6 122.3h0M164.6 113.6h0M148.6 97.5h0M155.1 105.2h0M154.1 118.1h0M170.1 102.8h0M165.8 99.8h0M165.3 97.8h0M155.5 95.3h0M159.6 99.6h0M167.7 92.9h0M167.9 96.2h0M152.5 113.9h0M163 93.5h0M161.1 101.8h0M161.3 103.9h0M158.6 91.8h0M149.5 120h0M150.7 119.4h0M154.5 113.7h0M156.9 106.4h0M153.3 98.9h0M151 117.7h0M147.9 120.8h0M165.4 97.4h0M152.1 118.9h0M157.3 96.2h0M159.8 122.9h0M167.2 108.4h0M160 115.5h0M155.2 89.5h0M159.3 92.2h0M154 99.7h0M159.7 89.7h0M152.8 88.4h0M167 125.1h0M163.6 88.7h0M150.3 116.5h0M158.3 114.7h0M155.5 122.7h0M154.3 110.2h0M160.4 98.1h0M154 124h0M168.5 120.1h0M164 109.4h0M154.8 91.9h0M168.8 117.2h0M153.4 121.2h0M160.7 91.5h0M154.8 96.9h0M164.9 119h0M161.8 104.4h0M166.9 103.3h0M150.8 112.5h0M168.1 121.5h0M166.3 104.4h0M158.5 112h0M159.7 122.6h0M162.9 119.8h0M161.4 90.4h0M149.3 97.2h0M161 121.3h0M167.8 110.4h0M153.6 110.2h0M153 107.6h0M158.7 123.2h0M168.1 89.9h0M166.1 110.6h0M161.1 104.8h0M167.7 117.2h0M150.8 101h0M153.2 96.3h0M152.2 113.2h0M155.9 97.3h0M155 119.8h0M150.8 120.7h0M161.2 106h0M151.2 125.5h0M166.3 111.3h0M159.6 111h0M156.4 89.1h0M151.8 100.7h0M149.8 116.5h0M160.1 119.6h0M167.6 110h0M162.5 96.3h0M149.9 115.6h0M167.4 96.1h0M166.8 103.8h0M160.8 121.2h0M168 118.6h0M166.3 114.2h0M166.4 118.6h0M153.5 109.7h0M148.7 95.6h0M168.8 94.7h0M156.7 95.7h0M152.8 103.5h0M149.6 115.9h0M152.5 93.6h0M157.9 105.8h0M156.7 124.4h0M169 120h0M181.5 92.9h0M184.1 97.2h0M181 93.6h0M184 96.1h0M189.9 116.9h0M181.3 92.2h0M173.2 104.6h0M184.7 105.7h0M188.8 108.9h0M174.4 95.7h0M170 118.6h0M188.7 119.5h0M188.8 119.5h0M179.8 102.9h0M182 123.1h0M173 123.8h0M184.8 93.1h0M169.2 93.6h0M188.6 99.3h0M186.8 114.5h0M172.9 100.7h0M174.1 92.3h0M176.1 114.3h0M180 108.4h0M179.1 111.9h0M181.3 93.6h0M170.8 100.5h0M184.6 118h0M180.4 120.3h0M183.6 118.6h0M182.9 121.2h0M175.7 97.3h0M182.9 112h0M181 97.2h0M185.6 112.6h0M179 108.9h0M175.2 102.6h0M190.5 93.3h0M179.7 110.9h0M179.9 105.2h0M170.8 118h0M170 101.6h0M177.6 94.4h0M188.7 119.1h0M169 89.4h0M169.9 96.8h0M172.5 105.8h0M171.4 89.6h0M191.2 121.4h0M170.2 100.9h0M173.1 93.4h0M181.1 104.4h0M175.7 106.6h0M179.4 89.6h0M170.3 103.7h0M184.6 118.4h0M177.6 88.6h0M188.2 89.1h0M174.6 110.2h0M179.5 97.9h0M182.4 94.3h0M185.8 89.3h0M169.3 100.1h0M186.6 120h0M189.4 103.4h0M189.3 102.3h0M180.2 95.4h0M182.8 97.9h0M188.5 100.1h0M189.3 108.8h0M177.1 112.5h0M173.8 106.4h0M178.7 97.3h0M169.2 93h0M186.7 88.7h0M176.1 95.8h0M170.6 107.1h0M188.5 104.4h0M190.1 97.9h0M186.8 88.7h0M172.5 115.8h0M169.5 106.1h0M179.5 118.2h0M182.9 116h0M170 94.2h0M181.6 107.4h0M189.3 123.5h0M187.2 117.5h0M174.6 109.8h0M180 113.3h0M174.9 104.4h0M173.9 116.4h0M169 119h0M187.5 92h0M187.6 94.7h0M183.4 90.3h0M174.9 109.6h0M190.1 111.8h0M172.7 89.8h0M186.9 97.8h0M178.8 114.6h0M184.3 95.2h0M180.1 124.6h0M176 110.1h0M178.1 89h0" stroke="#78C832" stroke-width="2.3" stroke-linecap="round" fill="none"/>
<path d="M232.3 102h0M234.4 106.3h0M215.1 99.5h0M194.6 117.3h0M203.3 118.9h0M219.3 122.2h0M206.7 101.1h0M220.8 107.6h0M232.4 103.7h0M226.8 97.9h0M204.5 110.3h0M216.2 97.8h0M194.7 90.8h0M207.5 101.6h0M210.6 105.6h0M206.5 95.8h0M202 107h0M232.8 123.6h0M231.2 99.5h0M205.9 97.4h0M229.1 115.2h0M232.7 93.7h0M193.1 103.3h0M195.5 106.1h0M217.6 125.2h0M211.4 116h0M224.1 113.7h0M215.7 112.5h0M228.4 96.2h0M193.6 115.1h0M198.6 116.4h0M210.3 123.4h0M220.3 100.4h0M198.5 90.1h0M195.6 104.8h0M222.9 125.3h0M223.8 108.1h0M217 110.2h0M194.6 110.3h0M195 94.5h0M230.2 99.8h0M220.7 100.4h0M200.8 104.5h0M216.8 122.7h0M216.8 93.9h0M192.2 107.7h0M196.1 100.7h0M195.6 90.5h0M225.5 108.7h0M209.8 112.3h0M228.5 89.3h0M231.8 116h0M218.7 111h0M228 110.9h0M228.6 101.4h0M200 111.4h0M223.7 124h0M228.7 111h0M227.2 115.2h0M217.8 114.7h0M198.1 100.9h0M217 96.8h0M204.2 90.3h0M192.4 125.2h0M194.5 93h0M220.5 109.3h0M197.6 108.7h0M219.4 91.7h0M224.6 95.4h0M196.7 118.9h0M211.1 93.1h0M221.5 96.4h0M215 92.3h0M221.8 112.1h0M206.3 91.6h0M220.9 99.6h0M228.9 123.6h0M195.2 90.9h0M193.8 89h0M192.6 124.4h0M204.7 116.4h0M219.3 114.8h0M206 100.4h0M200.9 89.7h0M215.6 94h0M219 96.2h0M200.6 99h0M196.8 104.8h0M226.8 91.9h0M220.8 89.9h0M202.6 99h0M207.3 117.1h0M193.2 104.8h0M208.6 98.7h0M198.8 96.8h0M216.4 120.1h0M230.9 102.4h0M194.5 99.3h0M222.8 101.9h0M209.7 95.9h0M229.3 112.8h0M211.3 106.3h0M194.6 105.5h0M229.9 110.8h0M221.1 101.1h0" stroke="#E60000" stroke-width="2.3" stroke-linecap="round" fill="none"/>
<path d="M240.7 89.6h0M247.8 89.6h0M252.9 91.9h0M260.5 89.2h0M245.6 93.3h0M264.6 94.7h0M239 95.9h0M244.2 98.8h0M249.3 98h0M256.4 98h0M271.3 98.4h0M274.8 98.4h0M236.6 102.5h0M238.6 105.5h0M250.9 104.1h0M252.3 105.5h0M257.9 104.1h0M260.1 104.1h0M277.5 106.2h0M239 110.7h0M243.5 112.3h0M249.3 111.1h0M255 112.3h0M263.6 112.3h0M272.8 109.2h0M252.3 114.7h0M257.9 116.4h0M277.5 115.2h0M239.7 116.8h0M244.2 117.8h0M253.4 120.5h0M259.1 122.5h0M240.1 123.3h0M248.2 123.5h0M263.6 123.9h0M268.1 122.5h0M273.4 121.9h0M278.3 126h0M253.8 91.2h0M244.8 118.4h0" stroke="#000000" stroke-width="2.3" stroke-linecap="round" fill="none"/>
<path d="M282.4 94.3h0M287.7 92.9h0M289.1 92.3h0M290.8 89.8h0M309.6 93.9h0M318.8 89.2h0M322.4 98.8h0M317.1 100h0M285.6 106h0M283 111.1h0M278.9 114.3h0M299.7 110.7h0M310 115.2h0M303.4 121.5h0M278.9 122.5h0" stroke="#FF00FF" stroke-width="2.3" stroke-linecap="round" fill="none"/>
<path d="M62.3 88.4h0M64.5 99.2h0M62 95.3h0M63.1 94.1h0M60.7 104.3h0M63 94.6h0M63 101.3h0M65.2 91.4h0M65.3 103.5h0M62.7 93.6h0M63.9 95.1h0M61.9 88.9h0M61.8 124.4h0M65.3 116h0M60 123.4h0M64.7 117h0M61 91.7h0M62.2 121.3h0M63.1 115.7h0M61.3 107.7h0M63.8 119h0M64.4 96.7h0M64.7 96.1h0M64.4 108.9h0M61 110.1h0M62.8 124h0M60.2 94.2h0M65.3 119.3h0M60.8 96.6h0M62.9 93.9h0M61.8 89.9h0M63.9 91h0M65.4 122.6h0M64.3 117h0M62 113.5h0M64.1 106.1h0M60.3 111.5h0M61.8 110.9h0M62.3 123.8h0M61.1 116.9h0M63.8 108.9h0M60.4 94.2h0M65.2 96.7h0M60.9 98.8h0M62.9 107.5h0M60 88.1h0M62.7 95h0M63.3 118h0M60.5 107h0M62.2 117.7h0M65.2 103.7h0M61.3 121h0M60.1 100.4h0M62.1 94.7h0M63.7 107.5h0M61.4 103.5h0M63.8 100.2h0M60.4 105.3h0M61.1 111.4h0M61.1 93.1h0M64.8 100.4h0M61.6 108.2h0M63.8 113.2h0M64.3 97.8h0M62.3 101.7h0M62.8 109.6h0M63.4 90.6h0M62 114.6h0M60.2 116.1h0M63.7 103.1h0M62.4 97.9h0M64 106.1h0M61.4 89.1h0M61.9 122.6h0M63.7 111.5h0M65.1 89.2h0M63.3 95.1h0M62.2 94.8h0M61.9 121.9h0M63.9 119.8h0M60.4 99.3h0M64.3 89.5h0M61 91.1h0M64.4 96.7h0M62.3 88.5h0M60.6 107.3h0M64.3 100.8h0M61.7 89.5h0M60.5 93.6h0M61.1 109.4h0M61.9 124.8h0M61.5 120.2h0M60.5 107.8h0M63 112.7h0M62.2 107.7h0M64.2 93.7h0M62.9 110.1h0M64.2 94.2h0M62.2 88.9h0M63.6 120.6h0M61.9 118.7h0M63.6 88.6h0M62.6 89.7h0M61.7 118.1h0M60.7 109.3h0M60.3 92.1h0M65.2 91.6h0M60.9 123.3h0M61.7 96.1h0M60.5 106.8h0M60.3 96.3h0M61.2 116h0M60.9 110.1h0M61.3 125.4h0M65.4 122.7h0M64.9 108.8h0M65 112.1h0M60.9 115.5h0M64.6 88.5h0M61.1 117.5h0M64.2 109.1h0M60.7 98h0M61.3 124.9h0M61.2 101.9h0M63.7 112.9h0M63 112.5h0M64.7 122.4h0M60.6 89.1h0M65 122.2h0M62 103h0M63.7 103.8h0M60.6 97.4h0M61.6 109.3h0M60.9 115.4h0M65.3 102.5h0M63.1 111.9h0M64.3 111.7h0M62.8 115.1h0M60.1 123.3h0M64.9 114.1h0M61.1 111.5h0M60.2 103h0M61.2 109.1h0M61.4 91.5h0M64.3 97.4h0M63 88.6h0M63.1 117.7h0M64.3 100.3h0M60.7 110.9h0M61.7 98.7h0M61.1 102.8h0M63.7 103.1h0M63.5 115.4h0M64.4 109.5h0M65.4 106.9h0M62.9 112.8h0M65.3 114.4h0M65 94h0M62.3 114.5h0M64 119.2h0M61.4 99.8h0M62.2 102.8h0M60.5 102.7h0M63.5 115.8h0M61.2 111.3h0M64.1 93.8h0M60.1 94h0M63.7 122.3h0M62.1 99.7h0M63.4 99.9h0M60.2 97.2h0M63.3 105.2h0M61.9 102.7h0M60.7 116.9h0M62 113.9h0M63.1 121.8h0M64.3 93h0M62.4 88.4h0M64.1 96.7h0M65.3 96.5h0M62.8 106.5h0M64.5 110.4h0M64.8 100h0M60.5 95h0M60.3 114.6h0M63.7 116.4h0M64.2 92.7h0M60.3 112.8h0M60 100.7h0M63.2 112.5h0M63.3 123.7h0M65.3 99.7h0M61.7 88.8h0M60.7 104.5h0M63.5 96.9h0M60.5 113.8h0M63.6 106.8h0M60.8 95.4h0M61.5 120.1h0M65 89.8h0M65.1 122.3h0M64.3 96.8h0M65.2 118.4h0M60.8 89.3h0M62.1 109.8h0M60.1 123.9h0M63.6 107.4h0M62.7 91.9h0M64.1 115.9h0M60.1 118.3h0M61.9 123.1h0M61.9 96h0M61.1 100.5h0M60.4 94.1h0M62.6 108.8h0M63 93h0M60.1 93.5h0M64.9 93.1h0M63.7 108.9h0M63.3 123.2h0M61.4 114.4h0M62.8 101.9h0M62.2 95.6h0M60.5 122.6h0M63.5 94.4h0M64.4 94.9h0M63.6 110.1h0M64.3 103.5h0M65.2 115h0M62.4 92.6h0M61.4 93h0M62.8 118.3h0M64 112h0M62.3 98.5h0M64.4 113.2h0M63.6 109h0M64.3 110.1h0M61.4 102h0M61.7 99h0M64.9 114.8h0M63.3 105h0M62.6 92h0M62.6 110.1h0M61.9 107.1h0M65.4 122.3h0M60.4 123.6h0M64.3 118.5h0M64.4 95.8h0M60.7 112.1h0M64.5 91.8h0M60.1 123.6h0M64.9 97.8h0M64.5 99.2h0M64.6 88.5h0M63.3 96.5h0M63.4 88.9h0M63.5 91.8h0M62.4 90.6h0M62.1 93.9h0M61.8 105.7h0M63.6 111.8h0M62.8 120.1h0M62.2 93.4h0M63.7 101.4h0M65.1 102.7h0M60.1 100.9h0M65.2 106h0M64.5 101.8h0M63.3 90.9h0M61.1 91.9h0M62.2 100.2h0M63 112.4h0M61.3 98.1h0M60.1 92.6h0M62.1 121.8h0M61 103.3h0M60.1 110.1h0M62.3 100.5h0M62.1 98.3h0M62.2 94.9h0M63.9 123.1h0M64.9 101.8h0M60.1 116.9h0M62.5 108.5h0M63.6 118.5h0M62.8 104.3h0M60.7 89.6h0M60.9 93.8h0M65.1 109.3h0M60.1 100h0M62.2 119.4h0M62.2 108.6h0M61.4 100.2h0M60.4 117.4h0M62.7 115.5h0M63.1 91.3h0M61.5 100h0M64.2 101h0M65.2 118h0M63.7 108h0M63.8 100.7h0M60.6 120.3h0M62.5 124h0M64 109.6h0M62.3 113.8h0M61.3 101.3h0M61.7 118.8h0M65.2 91.7h0M60.1 101.3h0M63.7 104.5h0M64.1 124.4h0M63.6 113h0M60.8 110h0M63.4 95.3h0M60.1 113.5h0M65.4 112.3h0M61.1 120.7h0M61.7 100.8h0M64.4 117.9h0M65.1 121.3h0M60 96.6h0M63.2 96.7h0M64.6 115.7h0M64.1 123.5h0M63.8 124.2h0M62.5 93.1h0M62.8 123.7h0M63.3 100.1h0M60.5 93h0M60.7 114.7h0M61.8 104.3h0M65.3 100.5h0M63.5 101.1h0M62.1 104h0M62.4 92.4h0M63.5 108.9h0M60.6 124.6h0M65.4 98.3h0M61.8 117.4h0M62.7 109.3h0M64.1 116.3h0M61.4 106.3h0M64.4 121.2h0M64.7 118.1h0M63.6 89h0M62 114.7h0M61.3 90.4h0M63.2 116.9h0M65.4 115.4h0M62.4 89.2h0M63.7 121.6h0M62.8 109.2h0M60.5 100.1h0M63.2 118.2h0M61.8 119.3h0M63.2 108.9h0M61.1 114.1h0M60.7 103.8h0M64.8 120.6h0M65.1 95.3h0M64.9 105.6h0M60.9 121.7h0M65.2 124.6h0M61.9 96.5h0M65 114.8h0M65 115.4h0M65.3 115.4h0M64.4 122.7h0M62.3 122.6h0M62.2 124.1h0M62.9 112.1h0M60.1 100.8h0M61.5 88.5h0M61.7 97.7h0M60.6 97.6h0M64.7 96.1h0M63.8 125.3h0M60 114.7h0M60.7 94.9h0M61.7 122.5h0M64.8 91.5h0M64.3 91.2h0M61.9 125.6h0M64.8 92.1h0M63.1 103.8h0M63.7 120.3h0M63 123h0M64.9 94.1h0M60.3 95.4h0M62.8 114.1h0M64.6 115.5h0M63.5 110.6h0M63.5 103h0M63.6 119.4h0M64.6 115h0M63.7 90.7h0M61.8 105.1h0M61.7 95.5h0M62 119.3h0M61.4 123.2h0M60 103.9h0M63.9 116.4h0M60.1 92.3h0M60.4 109.2h0M60.5 102.9h0M61.5 91.9h0M62 104.4h0M63.1 101h0M60.4 100.4h0M63.8 88.1h0M62.8 88.7h0M64.7 95.4h0M62.9 91.4h0M63 117.8h0M65 117.7h0M64.8 88.3h0M64.4 89.8h0M64.7 125.5h0M63.9 110.8h0M64 91.3h0M64.7 91.3h0M61.3 98.2h0M63.7 102.8h0M62.1 106.9h0M64.1 119.6h0M64.6 98.7h0M60.3 91.5h0M60.6 116h0M60.5 116.4h0M60 113.8h0M61.3 112.2h0M64.1 112.6h0M60.4 88.8h0M62.1 122.1h0M62.5 97.9h0M62.6 118.8h0M61.1 92.6h0M65 103.9h0M62.4 99.7h0M61.3 120.4h0M64.4 97.6h0M63.9 122.6h0M62.3 124.9h0M60.5 119.5h0M64.6 97.5h0M61.5 98.2h0M60.7 118.5h0M63.8 117.6h0M63.5 97.8h0M60.5 97.7h0M64.3 88.7h0M62.9 100.1h0M61.6 100.6h0M63.2 94.4h0M60.9 119.9h0M64.1 101.5h0M61.3 110h0M65.1 117.6h0M62.4 111.9h0M61.9 114.7h0M62.8 89h0M63.7 120.8h0M62.6 94h0M61.6 95.2h0M64.6 115.7h0M61.6 99.4h0M60.7 104.6h0M65.3 116.5h0M65.1 90.8h0M65 122.3h0M64.4 92.8h0M64.7 124.8h0M64 107.3h0M61.9 121h0M63.2 100.1h0M60.4 88.7h0M63.8 99.1h0M60.7 99.5h0M62.5 119.8h0M62.6 92.8h0M64.5 113.4h0M63 121.8h0M62.2 102.6h0M60.3 114.2h0M63.4 123.6h0M60 103.5h0M62.4 103.6h0M60.2 118.6h0M60.2 112.1h0M61.7 104h0M64.5 95.7h0M62.8 98h0M63.3 108.5h0M63.6 91.6h0M63.4 112.9h0M60.4 124.4h0M64.6 117.8h0M64.3 106.8h0M65 93.8h0M64 124.7h0" stroke="#E8961F" stroke-width="2.3" stroke-linecap="round" fill="none"/>
<rect x="413.6" y="75.4" width="262.8" height="93.2" fill="#F9EC8E"/>
<rect x="413.6" y="5.5" width="262.8" height="233" fill="none" stroke="#646464" stroke-width="0.95"/>
<path d="M422.4 238.5v2.2M422.4 5.5v-2.2M431.1 238.5v2.2M431.1 5.5v-2.2M439.9 238.5v2.2M439.9 5.5v-2.2M448.6 238.5v2.2M448.6 5.5v-2.2M466.2 238.5v2.2M466.2 5.5v-2.2M474.9 238.5v2.2M474.9 5.5v-2.2M483.7 238.5v2.2M483.7 5.5v-2.2M492.4 238.5v2.2M492.4 5.5v-2.2M510 238.5v2.2M510 5.5v-2.2M518.7 238.5v2.2M518.7 5.5v-2.2M527.5 238.5v2.2M527.5 5.5v-2.2M536.2 238.5v2.2M536.2 5.5v-2.2M553.8 238.5v2.2M553.8 5.5v-2.2M562.5 238.5v2.2M562.5 5.5v-2.2M571.3 238.5v2.2M571.3 5.5v-2.2M580 238.5v2.2M580 5.5v-2.2M597.6 238.5v2.2M597.6 5.5v-2.2M606.3 238.5v2.2M606.3 5.5v-2.2M615.1 238.5v2.2M615.1 5.5v-2.2M623.8 238.5v2.2M623.8 5.5v-2.2M641.4 238.5v2.2M641.4 5.5v-2.2M650.1 238.5v2.2M650.1 5.5v-2.2M658.9 238.5v2.2M658.9 5.5v-2.2M667.6 238.5v2.2M667.6 5.5v-2.2" stroke="#505050" stroke-width="0.6" fill="none"/>
<path d="M413.6 238.5v4.4M413.6 5.5v-4.4M457.4 238.5v4.4M457.4 5.5v-4.4M501.2 238.5v4.4M501.2 5.5v-4.4M545 238.5v4.4M545 5.5v-4.4M588.8 238.5v4.4M588.8 5.5v-4.4M632.6 238.5v4.4M632.6 5.5v-4.4M676.4 238.5v4.4M676.4 5.5v-4.4" stroke="#505050" stroke-width="0.7" fill="none"/>
<path d="M413.6 215.2h-2.2M676.4 215.2h2.2M413.6 191.9h-2.2M676.4 191.9h2.2M413.6 168.6h-2.2M676.4 168.6h2.2M413.6 145.3h-2.2M676.4 145.3h2.2M413.6 98.7h-2.2M676.4 98.7h2.2M413.6 75.4h-2.2M676.4 75.4h2.2M413.6 52.1h-2.2M676.4 52.1h2.2M413.6 28.8h-2.2M676.4 28.8h2.2" stroke="#505050" stroke-width="0.6" fill="none"/>
<path d="M413.6 238.5h-4.4M676.4 238.5h4.4M413.6 122h-4.4M676.4 122h4.4M413.6 5.5h-4.4M676.4 5.5h4.4" stroke="#505050" stroke-width="0.7" fill="none"/>
<text x="415.4" y="255.8" text-anchor="middle" font-size="12.6" fill="#000" stroke="#000" stroke-width="0.25">0</text>
<text x="458.8" y="255.8" text-anchor="middle" font-size="12.6" fill="#000" stroke="#000" stroke-width="0.25">5</text>
<text x="502.6" y="255.8" text-anchor="middle" font-size="12.6" fill="#000" stroke="#000" stroke-width="0.25">10</text>
<text x="546.4" y="255.8" text-anchor="middle" font-size="12.6" fill="#000" stroke="#000" stroke-width="0.25">15</text>
<text x="590.2" y="255.8" text-anchor="middle" font-size="12.6" fill="#000" stroke="#000" stroke-width="0.25">20</text>
<text x="634" y="255.8" text-anchor="middle" font-size="12.6" fill="#000" stroke="#000" stroke-width="0.25">25</text>
<text x="677.8" y="255.8" text-anchor="middle" font-size="12.6" fill="#000" stroke="#000" stroke-width="0.25">30</text>
<text x="405.6" y="242.7" text-anchor="end" font-size="12.6" fill="#000" stroke="#000" stroke-width="0.25">120</text>
<text x="405.6" y="126.2" text-anchor="end" font-size="12.6" fill="#000" stroke="#000" stroke-width="0.25">125</text>
<text x="405.6" y="9.7" text-anchor="end" font-size="12.6" fill="#000" stroke="#000" stroke-width="0.25">130</text>
<text x="544.5" y="274.3" text-anchor="middle" font-size="12.6" fill="#000" stroke="#000" stroke-width="0.25"><tspan font-family='"Liberation Serif", serif'>Δ</tspan>a<tspan font-family='"Liberation Serif", serif' font-size="10.8" dy="3">μ</tspan><tspan dy="-3"> [10</tspan><tspan font-size="9.8" dy="-6.8">-10</tspan><tspan dy="6.8">]</tspan></text>
<text x="0" y="0" text-anchor="middle" font-size="12.6" fill="#000" stroke="#000" stroke-width="0.25" transform="translate(366.8 122) rotate(-90)">m<tspan font-size="9.8" dy="3">H</tspan><tspan dy="-3"> [GeV]</tspan></text>
<path d="M428.6 126.1h0M417.9 116.1h0M443.6 119.8h0M438.3 127.6h0M427.4 164.9h0M430 151.5h0M422.9 122.1h0M420.8 113.2h0M418.7 96.7h0M426.2 153h0M416.9 102.9h0M428.6 146.9h0M418.7 82.9h0M437.1 162.3h0M427.8 150.1h0M447.1 152.3h0M443.5 78.3h0M443.5 114.8h0M421.8 145.1h0M426.3 164.3h0M417 132.2h0M423 89.9h0M420.6 141h0M443.3 114.7h0M419.8 120.4h0M436.4 86.7h0M450.3 145.9h0M437.9 98h0M426.3 108.2h0M423.6 105.2h0M421 133.3h0M430.2 115.7h0M420 90h0M418.1 141h0M420.1 167.5h0M436.9 132h0M418.3 81.5h0M424.2 129.6h0M434.5 117.4h0M425.1 93.1h0M426.2 146.1h0M425.3 147.2h0M433.5 99.1h0M436 157.5h0M431.3 144.7h0M432.8 94.4h0M426.9 105.1h0M454.2 140.7h0M426.2 78.1h0M420.6 164.8h0M424.7 115.5h0M422.6 108.8h0M425.4 95.7h0M427.8 127.8h0M431.6 159.6h0M418.9 161.5h0M419.7 87.1h0M424.7 132.6h0M422.9 99h0M420.6 152.2h0M437.4 159.2h0M431 167.2h0M418.4 164.9h0M422 149.6h0M427 161.5h0M452 167.1h0M423.4 137.9h0M417 166.9h0M421.3 131.1h0M424.6 127h0M422.2 86.8h0M443.5 145.4h0M449.4 143h0M426.7 157.9h0M457.2 82.1h0M450.4 160h0M420.3 153.3h0M417.8 153.6h0M419.3 98.5h0M427.7 159.5h0M421.9 145.8h0M418.3 107.8h0M428.6 86h0M439 142.9h0M446.1 161.8h0M417.1 82.6h0M427.8 101.2h0M417.3 138.2h0M418 135.7h0M441.5 140.9h0M433.7 138.1h0M417.2 161.5h0M419.8 121.5h0M423.6 104.4h0M432.2 116.8h0M433.8 113.4h0M427.5 96.5h0M441.1 133.9h0M419.5 82.1h0M429 105.8h0M420.1 81.5h0M428.5 135.7h0M419.9 111.8h0M418.5 104.3h0M417.2 144.6h0M435.3 131.2h0M433 142.2h0M419 147.7h0M419.4 141.6h0M436.5 144.4h0M425.9 119.3h0M429 88.3h0M421.3 76.2h0M433.3 146h0M439 157.7h0M433 130.8h0M426 145.9h0M441.5 161.1h0M420.5 112.2h0M429.6 132.3h0M429.5 123.7h0M426.6 117.8h0M437.3 96.9h0M438 114.6h0M434 116.3h0M417.6 147.1h0M445.8 130.9h0M424.1 147.5h0M419.1 77.8h0M417.3 144.3h0M428.8 159.2h0M454.3 117.1h0M420.1 134.6h0M448.2 165h0M425.6 138.6h0M417.5 162.9h0M427.8 117.1h0M443.5 92.1h0M429.3 160.7h0M428.6 146.6h0M426.8 110.2h0M421.8 160.3h0M429.5 95.9h0M457 161h0M431.2 108h0M433.2 156.9h0M435.4 128.1h0M431.8 136.8h0M426 87.9h0M440.7 143.5h0M426 112.5h0M437.1 165.9h0M446.2 145.6h0M443.2 106.3h0M420.3 154.1h0M454 166.1h0M419.8 76.4h0M429.5 101.3h0M421.8 145.6h0M418.3 95.6h0M429.4 157h0M444.3 165.3h0M417.2 82.2h0M418.9 148h0M424.1 127.9h0M417.4 158.8h0M430.9 111.9h0M452.1 158.3h0M429.7 86.7h0M427.7 156.7h0M444.1 147.2h0M427.3 95.7h0M423.7 81.8h0M436.2 156.6h0M422.4 81.4h0M418.3 99.3h0M417.1 143.5h0M419.3 137.7h0M434.9 96.4h0M426.5 152h0M417.4 132.8h0M424.8 130.2h0M417.7 166.7h0M428.2 152.4h0M419.6 139h0M439.3 141.8h0M416.9 107.7h0M454 164.6h0M446.5 158.9h0M420.3 164h0M440.1 158.5h0M433.3 88.3h0M437.8 140.8h0M439.6 164.3h0M420.7 92.3h0M422.4 140.5h0M446.4 145.2h0M427.4 166.6h0M429.4 104.6h0M451.9 121.7h0M418.2 150.6h0M429.1 146.8h0M419.7 109.5h0M419.7 118.8h0M429.9 154.2h0M451.9 153.5h0M420.8 133.4h0M435.6 167.5h0M428 166.6h0M427.2 88.8h0M425.6 153.9h0M421.5 98.8h0M421.6 167.5h0M420.2 165h0M424.2 123.2h0M456.6 135.7h0M420.4 118.9h0M420.8 143.2h0M437.7 108.3h0M418.3 91.8h0M420.7 142.2h0M422.4 102.4h0M434.4 108.5h0M444 106.4h0M429.4 101h0M429.6 106.4h0M454.1 156.6h0M417.7 101.8h0M425.1 112.7h0M416.8 157h0M433.1 122.5h0M439.5 141h0M438.5 155.7h0M428.2 119.9h0M433.5 130h0M435.9 76.1h0M420.6 138.4h0M447.1 142h0M423.9 81.1h0M436.2 161.7h0M422.5 152.8h0M417.3 90.7h0M431.4 138.7h0M443.8 120.6h0M427.6 166.3h0M428.4 139.5h0M419.2 102.2h0M431 155.7h0M431.1 144.8h0M425.7 104.9h0M432.4 120h0M422.2 92.4h0M421.8 121.7h0M422.2 118.2h0M431.8 157.1h0M430.9 167.5h0M434.2 163.3h0M420.6 84.7h0M424.2 94.3h0M418.6 105.8h0M420.5 138.2h0M430.5 135.1h0M420.9 113.5h0M427 104.5h0M423.4 115.7h0M421.1 115.7h0M434.3 129.5h0M427.9 162.1h0M420.7 115h0M421.3 130.8h0M436.2 156.8h0M422.6 95.8h0M418.5 154.1h0M417 100.2h0M417.9 97.4h0M422.5 110.2h0M419.8 76.8h0M418.7 91.2h0M430.5 81.5h0M417.7 151h0M432.8 164.6h0M454 166.6h0M421.9 162.7h0M424.6 121h0M418.6 138.9h0M441.5 157.8h0M448.4 158.7h0M419.8 106h0M429.9 131.5h0M437.2 138.4h0M422.7 90.4h0M424.6 123.5h0M426.7 162.9h0M428.7 166.5h0M432.8 136h0M417.8 152.3h0M420.7 151.1h0M434.9 77.7h0M431.2 142.8h0M457.6 147.5h0M434.2 165.6h0M423.9 86.1h0M423.5 122.3h0M422.9 136.4h0M438.4 163.6h0M425.7 161h0M445.6 165h0M417.5 146.9h0M431 131.2h0M417.3 121.5h0M422.9 131.8h0M423.4 127.2h0M427.1 138.1h0M423.8 119.9h0M445.1 136.6h0M436 164.9h0M416.8 139.7h0M430 140.5h0M417.1 141.8h0M418 147.3h0M426.8 135.4h0M420.3 100.9h0M424.9 164.1h0M425.1 161h0M418.3 96.4h0M424.1 117.9h0M418.2 109.2h0M432 115.4h0M423.2 83.4h0M433.5 152.5h0M443.3 117.6h0M432.6 141.1h0M420.9 81.1h0M456.8 153.9h0M421.5 141.7h0M419.1 135.3h0M419.1 111.4h0M433.3 100.8h0M426.7 124h0M448.3 166.6h0M419.2 83.8h0M421.4 108.3h0M434.2 156h0M433.3 84.9h0M432.5 159.2h0M425.1 154.4h0M422.5 87.8h0M427.1 111.8h0M417.5 88.2h0M419.2 149.9h0M429.3 148.8h0M431.1 167.2h0M424 105.2h0M418.8 112.9h0M436.7 138.2h0M423.9 152.5h0M426.6 124h0M417 164.5h0M421.8 127h0M422.8 90.7h0M424.5 134h0M418.8 164.1h0M437.1 152.1h0M436 87.1h0M422.4 77.1h0M436.1 138.2h0M431.8 135.6h0M433.3 117.8h0M422.7 124.5h0M423.6 105h0M435.1 157.5h0M451.8 141.3h0M417.1 110.1h0M436.2 150.7h0M422.4 77.9h0M431.8 140.3h0M425.6 109.2h0M418.5 165.3h0M422.9 76.3h0M422.6 150.5h0M423.2 155.8h0M431.4 144.4h0M430.8 116.8h0M449.9 154.9h0M427.9 145.5h0M423.5 131.3h0M425.5 147.9h0M417.7 143.8h0M419.9 146.9h0M430.2 157.9h0M419.5 158.4h0M430.6 147.3h0M425.3 114.6h0M452.5 156h0M424.9 134.8h0M420 98.9h0M428 116.5h0M425.1 132.5h0M451.2 84.2h0M428.9 164.8h0M425 144.6h0M425.6 133.9h0M431.6 148.3h0M433.1 106h0M425.8 99.1h0M419.5 132.5h0M416.9 105.8h0M422.2 118.5h0M448.6 136.1h0M420.9 144.7h0M425.8 97.3h0M427.7 97.7h0M447.9 158.7h0M421.6 136.6h0M419.8 153.8h0M453.6 159.5h0M417.4 116.2h0M421.1 77.5h0M426 110.7h0M429.9 94.8h0M423.5 130.2h0M428.2 121.4h0M432.3 156.5h0M428.9 82.2h0M437.9 162.8h0M429.7 163.2h0M417.9 131.7h0M428 119.2h0M425.1 163.5h0M446.7 152.1h0M419.1 126h0M428.1 137.7h0M421.3 129.7h0M425.1 111.3h0M419.4 102.2h0M424.8 140.9h0M419.9 84.1h0M431.7 80.4h0M453.2 156.5h0M425.1 94.7h0M449.8 166.7h0M438.3 126.2h0M426.9 99.1h0M433.7 143.3h0M426.7 89.6h0M446.5 87.5h0M430.7 160.8h0M421.2 99.1h0M430 157.3h0M424.1 153.9h0M420.8 105.9h0M424.6 141.1h0M423.3 159.1h0M419 111.1h0M416.8 155.2h0M421.5 143.6h0M440.8 115.9h0M431 117.7h0M422.3 105.1h0M455 149.4h0M428.7 92.4h0M419.4 86.3h0M421 121.5h0M428.1 92.5h0M421.3 123.2h0M437.8 148.8h0M417.8 92.2h0M424.6 142h0M431.5 156.3h0M419.7 108.3h0M422.1 134.2h0M420.2 82.7h0M425.4 127.6h0M417.3 166h0M444.4 155.7h0M423.9 134.5h0M449.1 166.6h0M428 112.5h0M425.1 114.8h0M423.1 133.3h0M436.6 138.3h0M430.4 133h0M429.5 141.7h0M423.1 122.2h0M425.8 96.4h0M421.7 159.1h0M424.9 86.7h0M432.8 159.5h0M420.3 78h0M418.6 105h0M420.1 160.8h0M424.1 112h0M431.8 100h0M424.2 108.1h0M417.8 129.3h0M430.3 135h0M422.7 134.2h0M420.6 135.2h0M433.5 151.5h0M418.6 157.6h0M420.8 132h0M429 139.4h0M437.9 158.3h0M423.9 83.3h0M424.6 151.5h0M435.4 120h0M442.2 140.3h0M418.7 150.2h0M419.1 106h0M436.4 131.9h0M425.6 143.9h0M444.6 84.4h0M419.6 102.9h0M417.5 110h0M423.2 90.5h0M425.6 126.8h0M423 105.9h0M422.5 121.6h0M417.4 134.7h0M423.5 104h0M431.1 114.6h0M450.1 158.1h0M424.4 107.8h0M423.5 80.6h0M432.1 113.9h0M443.8 137.6h0M422 86h0M423.8 150.4h0M423 94.5h0M424.3 107.6h0M442 163.6h0M433.6 153.6h0M423.1 97.4h0M436.9 159.3h0M433 126.2h0M441.2 134.5h0M420.2 127.4h0M425.9 121.1h0M421.1 138.8h0M423.8 98.6h0M456 158h0M428.8 126.4h0M418.9 82.9h0M420 154.9h0M418.1 77.9h0M451.4 121.5h0M432.5 165.4h0M434 147.6h0M423.7 159.9h0M435.7 132.6h0M429 150.7h0M430.4 78.2h0M423.4 97.9h0M419.1 130.7h0M434.7 161h0M420.1 149.2h0M423.8 122.7h0M454.5 134.8h0M427.1 146.7h0M417.2 87.6h0M425.2 108.2h0M419.5 85.7h0M420.5 156.5h0M447.8 160.3h0M421.8 136.3h0M424.2 120h0M424.5 159.2h0M421.8 99h0M425.1 100.4h0M428.4 101.4h0M422.7 155.5h0M423 85h0M440 157.6h0M424.7 128.5h0M420.9 79.3h0M453.7 132.1h0M420.2 106.1h0M424.3 159.4h0M429.6 148.1h0M417.5 158.3h0M428.3 155.6h0M425.3 89.2h0M424.4 141.3h0M423.7 153.1h0M425.6 116.6h0M422.5 86.5h0M433.8 85h0M419 95.4h0M426.8 152.4h0M429.5 146.7h0M429.8 118.6h0M430.9 83.8h0M438 144.4h0M422.2 166.6h0M425.4 140.8h0M425.5 129.8h0M438.2 104.1h0M426 125h0M447.9 146.8h0M420.6 133.7h0M438.4 130.6h0M421.2 126h0M425.6 158.1h0M441.4 149.7h0M420 78.7h0M421.4 95.6h0M442.7 162h0M418.5 167.2h0M417.9 81.5h0M417.1 92.4h0M426 104.7h0M417.1 76.4h0M449.2 133.8h0M429.7 163.3h0M421.9 97.4h0M420.4 143.5h0M417.1 90.1h0M421.3 119.6h0M431.3 152h0M425.9 111h0M425.4 167.9h0M427.3 130.7h0M433.6 167h0M422.7 143h0M418.1 79h0M419.4 111.5h0M436.3 150.6h0M439.4 159.6h0M424.7 130.8h0M423.9 96h0M417.8 90.7h0M429.2 117.4h0M419 79.6h0M421.7 154.7h0M416.9 126.9h0M419.7 138.6h0M418.7 154.7h0M426 149.1h0M419.6 122h0M437 153h0M450.1 151.9h0M427.4 127.7h0M424.4 96.6h0M428.2 167.7h0M416.9 113.1h0M422.3 133.3h0M420.5 102.9h0M441.5 155.9h0M439.4 130.3h0M426.6 110.7h0M434.3 142.3h0M431.7 132.2h0M425.7 92.7h0M418.4 117.4h0M432.7 124.6h0M421.8 111.5h0M428.6 155.1h0M446.8 136.5h0M427.5 110.5h0M419 131.7h0M420.5 85.9h0M426.3 116.4h0M421.1 131.5h0M419.5 129.1h0M423 162.5h0M419.3 125.7h0M419.3 77.1h0M427.2 149.2h0M431.6 78.8h0M430.5 83.4h0M433.7 135.6h0M423 136.6h0M427.2 118.1h0M428.4 125h0M428.4 135.7h0M426.4 167.1h0M446.4 163.5h0M433.3 121.5h0M425.8 121.7h0M450 164.2h0M436.6 123.3h0M427.4 119.6h0M422.7 132.5h0M419.8 122.4h0M445.9 116.8h0M454.9 156.7h0M419.7 122.1h0M429.4 128.8h0M425.1 134.6h0M420.6 154.7h0M435.4 105.7h0M432.4 119.2h0M434.4 147.7h0M419.1 115.5h0M426.5 151h0M429.2 165.8h0M420.6 165.7h0M417.9 156.1h0M440.1 144.1h0M433.4 107h0M457.4 112h0M428 115.1h0M431.3 156.5h0M427.4 114.5h0M417 83.1h0M431.1 146h0M435.1 162.5h0M423.1 101.3h0M421.9 111.6h0M424.5 123.6h0M424.3 95.5h0M420.9 136h0M423.1 95.2h0M417.1 165.4h0M430.7 152.2h0M417.9 139.7h0M419.3 108.9h0M422.8 110.2h0M418.1 122h0M454.8 106.9h0M419.8 114.4h0M426.1 152.3h0M416.9 154.9h0M430 123h0M426.7 141h0M433.9 126.8h0M424.4 98.9h0M417.3 109h0M421.3 132.1h0M436 167.4h0M430.7 136.3h0M418.6 81.3h0M417.3 147.4h0M422.8 163.2h0M444.5 142.1h0M418.6 77.1h0M432.8 109h0M441.3 111.8h0M423.8 158h0M422.7 83.8h0M422.5 86.5h0M417.2 168h0M439.7 138.3h0M441.8 143.9h0M442.2 153.1h0M418 161.7h0M435 158.7h0M418.9 133.2h0M422 104.8h0M427.7 154.8h0M422.3 109.2h0M435.9 161h0M437.6 125.5h0M439.4 144.4h0M418.2 163.2h0M425.5 107.5h0M423.4 138.8h0M440.4 100.8h0M417.2 112.3h0M423.4 113.3h0M420.6 136.8h0M433.9 148.4h0M429.9 145.3h0M424.2 135h0M435.8 113.2h0M420 130.8h0M422.2 145.8h0M425.6 131.7h0M420.4 107.9h0M424.9 155.7h0M444.3 94.1h0M447.2 158.8h0M457.3 164.6h0M438.9 148.3h0M435.4 160.8h0M418.3 155.1h0M417 114.3h0M421.8 141.7h0M425.1 149.8h0M424.4 105.1h0M428.4 144.8h0M421.8 125.2h0M417.5 156.8h0M426.6 158.7h0M418 128.3h0M418.7 118.4h0M425.5 153.6h0M446.5 152.2h0M419.6 104.8h0M416.9 101.5h0M437.4 151h0M417.3 165.7h0M417.1 161.3h0M422.9 138.6h0M425.5 159.6h0M429.2 145h0M426.4 138.4h0M429.1 117.4h0M430.5 155.2h0M441.3 124.9h0M427.1 102.5h0M418.1 158.2h0M431.9 148.1h0M427.1 145.2h0M422.7 118.8h0M417.7 79h0M420.1 136.9h0M417.1 116.9h0M430.2 127.6h0M419.5 165.3h0M424.4 139h0M422.1 131.7h0M429.4 143.3h0M417 125.4h0M437.5 149.2h0M457.6 149.7h0M417 96.8h0M421.8 135.5h0M420.4 102.6h0M440.6 115.3h0M454.9 132.3h0M428.2 116.5h0M452.5 141.5h0M427.7 126.6h0M438.3 140.3h0M428.4 152.3h0M437.1 154.2h0M420.9 79.3h0M425.6 161.4h0M438.9 122.7h0M433 158.6h0M428.1 97.9h0M424.2 96.7h0M421 118h0M425 107.4h0M417.2 124h0M424 106.8h0M416.8 164.9h0M431.8 153.6h0M430.8 92.4h0M434.9 128.6h0M427.8 155.6h0M429.4 99.4h0M437.1 159.1h0M421.3 164.6h0M446.9 145.2h0M417.4 154.9h0M453.9 167.1h0M423.1 121.6h0M420 148.8h0M422.5 141.5h0M419 136h0M437.2 102.8h0M418.1 101.5h0M434.9 81.6h0M444.9 140.6h0M419.9 86.3h0M444.7 163.7h0M422.2 139.2h0M421.6 121.2h0M425.5 153.1h0M434.8 88.1h0M436.2 88.8h0M438.2 142.2h0M423.5 153.1h0M423.4 165h0M421.8 91.3h0M423 142.1h0M426.7 140.9h0M426.7 164.6h0M438.1 166h0M438.2 89.6h0M416.9 93.9h0M440.9 137.5h0M423.2 128.9h0M419.1 145.8h0M429.7 157.1h0M428 106.9h0M424.2 146.3h0M417.3 130h0M424.1 78.2h0M443.3 164.1h0M420.9 144.4h0M422.7 116h0M435.9 148.1h0M427.7 154.9h0M417.3 83.3h0M420 101.4h0M427.3 116.3h0M422.4 163.5h0M423.9 106.1h0M439.7 146.3h0M430.2 112.9h0M417.3 78.7h0M428.5 84.2h0M424.5 142.8h0M454.3 164.1h0M428.5 85.2h0M417 147.4h0M418.7 123.6h0M422.2 117h0M421.7 80.3h0M435.1 142.5h0M425.7 129.5h0M423.3 92.4h0M433.2 114.5h0M455.7 110.9h0M429.2 143h0M425.6 148.9h0M422.9 140.8h0M432 136h0M434.9 146.2h0M430 124.6h0M432.2 159.4h0M423.7 96h0M431.4 118.5h0M452.7 132.5h0M439.8 136h0M416.9 158.5h0M425.7 114.3h0M430.5 106.4h0M418.6 157h0M421.8 150.9h0M437 138.1h0M428 110.6h0M416.8 126.6h0M430 164.9h0M425.2 150h0M434.2 122h0M429.6 160.2h0M423.2 162.3h0M433.1 87.8h0M420.8 131.4h0M424.8 148.8h0M420.1 78.2h0M428.7 115.6h0M431.2 139.4h0M428.1 160.5h0M437.5 157.6h0M418.9 85.4h0M427.6 114.5h0M423 96.9h0M416.9 147.6h0M418.3 160.7h0M423 159.5h0M422.8 86.7h0M440.1 142.9h0M437.8 121.9h0M457.8 104.7h0M429.9 166.1h0M424.1 98.8h0M435.3 147.3h0M418 92.3h0M441.1 166h0M426.7 95.3h0M430.8 129h0M425 159.4h0M419.6 124.5h0M439.5 167.5h0M439.3 103.1h0M417.7 165.8h0M446.7 88.5h0M447 147.5h0M441.3 125.1h0M435.7 133.2h0M423.5 94.6h0M423.9 135.9h0M419.4 167.4h0M423.5 160.2h0M422.4 97.5h0M417.3 150.4h0M455.1 82.9h0M438.9 144.1h0M439.9 136.7h0M417.6 89.3h0M430.9 122.7h0M436.3 93.3h0M420.3 159.6h0M422.9 154.3h0M421.9 76.3h0M420 159.9h0M425.3 110.2h0M417.5 166.9h0M429.5 164.6h0M425.3 136.8h0M426 151h0M433.3 131.6h0M417.3 81.6h0M419.1 106h0M422.7 153.8h0M425.6 124.4h0M423.1 101.7h0M433.3 130.3h0M427.1 83.5h0M451.1 165.8h0M417.9 126.4h0M421.7 122h0M426.1 116h0M418.2 115.4h0M421.5 87.1h0M422.2 79.1h0M424.7 86h0M440.4 152.6h0M421.4 85.9h0M434.4 137.3h0M427.1 163.7h0M444.3 165.1h0M416.9 87.8h0M427.6 122.9h0M417.9 113.1h0M423.1 147h0M419.2 166.3h0M428.2 107h0M425.9 85.1h0M425.5 108.3h0M416.9 132.7h0M430.3 151.6h0M422 141.8h0M436.6 143.9h0M457.8 165.1h0M428.9 159.2h0M423.9 113h0M445.9 131.2h0M429.9 154.6h0M441.3 159.2h0M419.4 123.8h0M427.5 127.5h0M445.4 164.4h0M426.7 150.2h0M442.1 163.6h0M435.1 81.4h0M419.3 96.5h0M437.9 117.5h0M420 130.9h0M428.2 153.2h0M436.9 132.2h0M454.1 155.3h0M417.7 164.5h0M438.3 117.2h0M420 152.7h0M421.1 164.7h0M419.3 77.5h0M430.5 134.3h0M418.7 93h0M421.9 157h0M431.9 103.8h0M430.9 150.8h0M421.6 131.8h0M439.4 105.9h0M456.8 84.9h0M430.1 126.4h0M453.5 165.1h0M427.6 167.2h0M419.2 128.9h0M429.5 96.3h0M423.9 144.4h0M452 155.7h0M436.9 164h0M422.6 91.1h0M422.3 151.5h0M432.5 131.5h0M417.8 98.8h0M420.3 140.8h0M421.2 135.9h0M424 148.3h0M422.8 106.1h0M433 86.9h0M422.7 121.4h0M444.3 112.2h0M422.2 166.8h0M423.4 151.2h0M435.6 95.1h0M446.9 102.6h0M426.4 107.1h0M421.7 97.5h0M416.9 126.8h0M419 95.5h0M430.7 131h0M441.2 118.2h0M438.2 144.3h0M440 92.2h0M448.5 112.6h0M424.4 82.1h0M425.1 91h0M427.4 114.7h0M419.7 136.8h0M441.4 131.2h0M431.9 110h0M433.1 111.7h0M428.4 111.5h0M436.7 108.5h0M452.9 162.2h0M428.7 120h0M451.3 152.3h0M421.9 134.2h0M426.1 80.5h0M451.5 144h0M430.7 142.8h0M423.1 136.9h0M427.7 89.1h0M425.5 142.1h0M431.4 151.9h0M420.9 111.1h0M432.3 107.1h0M447.1 128.2h0M420.7 92.6h0M426.3 166.8h0M419 97.7h0M423.3 127.2h0M436.1 79.8h0M423.6 158.2h0M429.1 154.3h0M426.8 76.4h0M437.4 130.3h0M420.6 79.6h0M417.3 119.5h0M428.5 159.8h0M423.2 79.7h0M435.8 77.3h0M433.9 162.7h0M428.8 167.6h0M417.4 118.5h0M449.9 105.7h0M428.2 114.1h0M421.7 106.3h0M423.7 165.5h0M421.9 163.9h0M422.6 98.7h0M447.8 152.2h0M423.3 106.1h0M429.3 152.2h0M419.6 105.3h0M419 165.4h0M425.3 110.9h0M421.6 136.3h0M421.4 114.8h0M424.5 128.4h0M422 159h0M429.8 145.6h0M453.6 149.1h0M423.9 133.8h0M417.3 101.7h0M420.1 102.9h0M426.6 131.1h0M421.2 147.6h0M418.4 157.3h0M432.1 126.4h0M422.3 111.1h0M434 123.4h0M420.3 133.2h0M417.9 141.3h0M425.4 111.1h0M420.1 87.7h0M433.7 129.1h0M417.5 88.2h0M448.8 145.5h0M417.4 81h0M424.2 142.9h0M444.5 162.4h0M433.3 133.9h0M428.6 140.8h0M417.6 167.1h0M417.7 114.6h0M416.9 92.2h0M440.6 116.6h0M421.9 137.1h0M452.2 155.4h0M429.9 83.6h0M430.7 147.8h0M425.2 151.1h0M444.2 123.8h0M419.3 127.5h0M422.4 115.1h0M421.2 163.5h0M428.8 153.4h0M416.8 133.2h0M421.8 93.5h0M438 127.2h0M419.5 92.1h0M419.4 85.9h0M443.5 161.2h0M432 131.6h0M427.4 114.9h0M423.2 156.1h0M436.5 159.4h0M444.5 137.7h0M424.6 148.8h0M418.5 98.1h0M451.3 143.7h0M425.1 166.4h0M437.3 117.8h0M418.9 132.9h0M425.5 107.3h0M435 162.6h0M420.5 105.4h0M429.4 111h0M427.1 85.3h0M431.4 112.8h0M420 126.1h0M429.8 80.2h0M446 156.2h0M428.7 136.8h0M431.1 123.2h0M429.5 147.2h0M438.8 164.4h0M447.8 162.6h0M423.6 148.2h0M421.4 119.8h0M417.5 117.7h0M426.1 96.2h0M447.3 141.1h0M440.3 150.4h0M423 120.8h0M437.5 134.8h0M420.2 76.6h0M421.4 108.6h0M422.2 99.1h0M434.5 150h0M420.9 97.6h0M419.2 76.6h0M420.3 87.5h0M424.6 122.7h0M450.5 133.6h0M441.5 167.6h0M450.2 163.9h0M420 141.6h0M427.5 126.1h0M440 82.9h0M440.5 136.1h0M421.1 103.5h0M418.8 88.7h0M417.6 102.2h0M429.4 117h0M434.4 111.1h0M424.5 83.6h0M422.7 106.3h0M428.5 144.2h0M441.3 141h0M431.4 165.1h0M437.8 162.4h0M421.8 116.2h0M420.6 136.1h0M425.1 125.6h0M423.4 113.4h0M425.3 113.5h0M431.9 167.9h0M425.6 104.5h0M430.5 149.4h0M431.6 166.4h0M420.1 133.9h0M422.5 89.6h0M430.4 108.7h0M416.9 105.4h0M455.7 158.3h0M417.2 83.2h0M456.6 163.6h0M418.2 79.4h0M433.1 168h0M425.7 163.3h0M425.5 112.9h0M431.6 136.2h0M448.1 154h0M444.4 155.7h0M425.3 166.5h0M420.6 77.6h0M424 144.2h0M424.7 164.6h0M425.5 110.3h0M419.6 157.5h0M433.1 98.4h0M425.1 149.4h0M419.3 94.2h0M425.9 138h0M420.5 127.4h0M420.6 136.4h0M423 163.8h0M427.2 82.6h0M427.9 86.7h0M431.4 161.6h0M419.8 90.2h0M433.2 122.5h0M429.9 154.1h0M440.1 160.2h0M422.9 167.5h0M421.6 81.7h0M421.8 167.2h0M427.2 98.5h0M419.2 166.1h0M417.3 158.9h0M438.3 155.6h0M431.6 153.2h0M423.5 120h0M418.8 121.8h0M424.7 150.2h0M421.8 91.2h0M420 107.1h0M430.5 110.1h0M425.2 148.8h0M430.7 136.5h0M424.2 116.8h0M417.2 115.8h0M422.3 105.8h0M443.7 102.2h0M426.2 81.8h0M445.1 154.3h0M427.5 131.6h0M435 102.6h0M420.8 165.1h0M422.3 120.6h0M426.1 154.6h0M417.9 109.7h0M437.3 125.8h0M441.9 149.7h0M422.2 101.1h0M420.7 161.1h0M432.8 166.2h0M426.7 148.5h0M420.9 113.4h0M423.3 98.1h0M421.3 154.1h0M418.5 102.4h0M439.5 128.3h0M417.5 98.1h0M420 147.3h0M431.1 137.6h0M430.4 143.9h0M430.7 114.5h0M431.2 167.9h0M432.2 165.9h0M417.3 102.7h0M446.2 159h0M426.1 101.6h0M424.7 144.9h0M426.6 119.4h0M432.4 98.1h0M434.1 150.4h0M432.9 124.4h0M447.6 147.3h0M428.4 98h0M454.6 128.8h0M452.8 96.1h0M431.1 86.7h0M425.7 87.8h0M422 136.2h0M417 158.2h0M428.6 124.6h0M427 123.8h0M428.2 162.4h0M419.6 131.5h0M417.6 115.7h0M433.1 81.2h0M446.4 145h0M431.1 154h0M444.6 164.2h0M422.9 131.6h0M418.3 122.3h0M431.2 164h0M430.6 136.6h0M428.2 160.3h0M420.9 101.2h0M452.5 153.7h0M423.1 163.7h0M419.3 140.7h0M426.7 113.5h0M432.6 151.6h0M428.5 151.6h0M417.7 161.4h0M447.6 161.6h0M446.8 162.3h0M437.7 101.7h0M419.3 86.7h0M418.6 142.1h0M417.5 110.5h0M438.9 134.7h0M420.6 161.5h0M441.4 161.2h0M420.9 135.2h0M417.4 100.2h0M426.9 153.7h0M417.7 148.9h0M428.8 90.4h0M436.3 149.7h0M428.5 159.9h0M435 156.7h0M424 83.8h0M437.6 133h0M429 90.2h0M432.2 155.5h0M419.4 113.6h0M418 166.5h0M441 134.5h0M423.2 107.8h0M423.1 86.7h0M434.3 128.9h0M426.6 96h0M422.1 136.1h0M429 116.4h0M420.7 97h0M431.8 161.2h0M424.6 78.6h0M439.8 162.7h0M422.4 146h0M426.5 157.8h0M457.8 95.5h0M423.1 96.8h0M457.2 126.2h0M429.4 139.7h0M430.1 167.4h0M420.7 127.4h0M426.9 89.5h0M416.9 111.1h0M419.9 166.4h0M424 111.9h0M416.9 132.8h0M423.3 132h0M431.8 145.5h0M423.1 155h0M426.2 123.4h0M419.9 152.8h0M418.9 149.2h0M419.8 115.6h0M435.2 125.9h0M449.8 124.6h0M417 80.3h0M421.8 90.9h0M420.5 134h0M421.2 141.3h0M419.5 151.1h0M446.5 163.2h0M420.6 99.6h0M418.1 122.7h0M422.2 99.6h0M418.6 143h0M437.8 134.9h0M423.4 162.6h0M427.6 116h0M429.7 99.5h0M423.6 126.2h0M435.7 86.4h0M424.2 82.2h0M447.7 163.7h0M431.8 158.8h0M434.6 141.1h0M417 112.5h0M437.8 128.9h0M420.9 119.2h0M436.3 146.4h0M424.7 83.4h0M420.4 157.3h0M424.7 164h0M420.5 150.4h0M431.9 85.4h0M442.8 143.6h0M428.6 116.1h0M418.8 144.2h0M423.4 167.2h0M423 127.6h0M424.7 127.8h0M417.5 80.5h0M419 151.8h0M429.4 164.7h0M432.9 139.9h0M427.9 155.5h0M422.9 155.9h0M433 104.1h0M419.2 99.2h0M422.1 85.7h0M429 149.4h0M429 143.8h0M434 150.7h0M422.3 127.8h0M424.4 140.4h0M422.2 95.2h0M437.5 159.3h0M429.5 131.5h0M417.6 116.8h0M443.2 87.7h0M423.2 113.1h0M435.8 116.4h0M430.9 148.6h0M426.8 167.8h0M418.2 165.2h0M455.2 150.9h0M454.3 157h0M430.4 163.3h0M435.6 146.8h0M437 136.1h0M425 152.5h0M422 148.1h0M418.8 96.1h0M430.6 123.6h0M420.4 87h0M432.3 110h0M426.1 111.1h0M433.6 166.3h0M429.3 147.8h0M421.3 129.5h0M421.3 120.1h0M424.3 118.8h0M418.4 127.2h0M434.7 134.5h0M438.1 123.6h0M448.2 145.5h0M430 101.6h0M440 145.3h0M417.7 95.9h0M434 107.3h0M438 140.6h0M423.6 99.9h0M432.1 140.4h0M428 120.7h0M421.1 81.5h0M417.8 123.6h0M430.8 107.4h0M420.3 167.9h0M448.8 153.9h0M435.9 96.6h0M444.3 152.2h0M423.6 105.2h0M428 138.3h0M437.4 162.9h0M418.8 76h0M421.1 156.3h0M439.8 115.2h0M428.6 145.8h0M424 144.4h0M417.1 131.5h0M431.3 96.8h0M424.4 122.3h0M428.7 148.4h0M423.9 144.2h0M423.2 104.2h0M435.1 145.2h0M424.8 113.6h0M426.6 147h0M427 157.8h0M423.5 131.6h0M417.6 128.9h0M418.3 112.9h0M425.7 143.2h0M419.2 84.9h0M418.7 112.6h0M420.6 158.9h0M442.4 127.6h0M422.7 128.4h0M423.2 111.7h0M417.5 130.6h0M442.4 142.2h0M447.2 111.6h0M430 164.5h0M418.5 139.9h0M424.2 144.2h0M439.6 160.5h0M420 81.7h0M417.3 135.4h0M417.1 161.8h0M426.3 142.7h0M438.2 137.6h0M439.1 77h0M422.7 99.1h0M423.7 114.6h0M422.2 142.5h0M436.5 123.6h0M428.4 76.7h0M427.4 157.9h0M417 94.8h0M423 104.2h0M420.2 163.3h0M449.3 162h0M423.8 113.2h0M425.6 144.3h0M418.8 78.2h0M438 149.1h0M431 141.9h0M428 113.2h0M442.8 160.4h0M418.2 161h0M433.3 120.5h0M432.3 162.7h0M431.2 102.4h0M429.2 116h0M426.6 111h0M452.8 113.7h0M422.5 124.8h0M427.7 111.5h0M436.7 165.2h0M425.8 83.7h0M435.2 147.1h0M421.8 108.5h0M417.2 123.8h0M421.2 125h0M432.6 160.8h0M427.3 93.9h0M449.5 133.5h0M432.5 112.9h0M418 132.8h0M422.3 94.9h0M417.2 91.1h0M451.5 164.4h0M419.3 156.5h0M438.7 79.9h0M443.5 161.1h0M423.8 159h0M433.4 155.5h0M430.8 130.9h0M437.3 134.6h0M425.4 118.7h0M419.8 149.1h0M420.2 82.5h0M420.9 112h0M433.8 113.7h0M420.9 113h0M426.9 135.4h0M439.8 126.7h0M418.4 157h0M425.1 136.9h0M418.7 126.5h0M427.9 120.6h0M421.9 130.4h0M419.7 155.3h0M443.8 156.8h0M419.3 136.4h0M428.1 97.4h0M439.9 98.4h0M417.6 102.9h0M421.3 102.2h0M423.4 161.4h0M423.6 162.3h0M421.1 162.9h0M422.6 77.6h0M452.6 88.7h0M419.8 163.4h0M435.7 164.4h0M423.8 154.9h0M421.4 94.9h0M440.2 162.5h0M419.1 112.9h0M417.8 115.1h0M424.5 116h0M418.1 154.7h0M421.3 138.4h0M418.1 147.2h0M447.4 119.9h0M443.6 142.6h0M421.4 133.5h0M425.1 143.9h0M429.1 116.3h0M421.3 96.6h0M419.7 158.2h0M426 77.7h0M442.8 110.3h0M420.9 153.1h0M445.8 129.7h0M426.5 76.3h0M422.1 93.2h0M417 146.9h0M422.7 109.3h0M428.4 166.1h0M423.4 167.4h0M417.4 105.3h0M434.1 138.7h0M421.5 89.9h0M421.9 167.4h0M418.6 79.9h0M433.9 129.3h0M432.4 109.4h0M443.6 143h0M434.9 152.1h0M424.2 108.3h0M429.3 154.9h0M420.8 98.6h0M420.9 121h0M416.9 102.6h0M416.8 81.5h0M430.4 147.4h0M421.7 90.3h0M430 121.7h0M433.9 90.1h0M416.9 100.6h0M418.3 154h0M456.8 154.6h0M416.9 120h0M426.7 118.2h0M443.9 145.1h0M441.2 117.6h0M428.5 139.4h0M432.3 160.7h0M420.7 99.1h0M425.9 164.2h0M450.7 163.5h0M428.7 118.4h0M435.9 136.8h0M425.4 148.4h0M431.3 135h0M426.2 111.9h0M420.6 135.4h0M427.9 166.9h0M418.9 87.1h0M422.7 114h0M421.3 95.9h0M434.6 162.2h0M418 106.8h0M426.4 165h0M424.4 125.8h0M419.7 145.2h0M441.9 100.5h0M422.6 113.3h0M429.7 146.3h0M418.5 145.2h0M429.5 161.8h0M431.8 90.4h0M427 158.1h0M417.4 130.3h0M420.1 139.7h0M423.1 156.9h0M417.6 114.8h0M430.1 136.7h0M440.2 157.1h0M434.3 144h0M420 100.2h0M425.6 115h0M424.2 89.4h0M426.9 130.1h0M444.8 165.8h0M421.8 136.3h0M420.5 95.2h0M427.7 89.4h0M421.5 86.5h0M432.7 145.8h0M426.1 102.7h0M457.3 167.8h0M425.6 107.2h0M451.9 88h0M424.8 165h0M456.8 152.3h0M432.1 156h0M429.4 146.3h0M422.1 108.2h0M424.6 111.5h0M428.1 113.8h0M428.2 139.8h0M451.9 167.1h0M419.3 76.3h0M440.7 146.4h0M433.1 150.8h0M434.8 147.4h0M442.1 132.9h0M428.4 113.3h0M433.9 134.6h0M427.6 115.4h0M435.3 144.6h0M431.1 137.9h0M429.9 123.3h0M432.7 152.5h0M424.5 117.7h0M424.6 103.8h0M421.2 84.3h0M432.7 144.4h0M425.2 157.8h0M421.8 121h0M435.4 145.3h0M426.1 165.7h0M428.5 144.3h0M423.6 138.3h0M421.4 116h0M433.3 167.1h0M419.3 97h0M429.9 110.8h0M430.4 109.2h0M416.8 122.4h0M428.6 137.9h0M418.1 110.1h0M432.8 141.6h0M417.8 152.2h0M438.6 150.7h0M418 95.3h0M428.4 102.2h0M424.9 155.7h0M418.7 112.4h0M447.7 117.1h0M433.6 108.6h0M418.6 106.4h0M444.3 154.9h0M442.7 160.6h0M420.5 84.8h0M422.4 82.6h0M426.3 159h0M439.9 125.3h0M421.8 156.2h0M436.2 116.3h0M427.6 119.2h0M437.8 109.5h0M441.2 162.8h0M418.4 117h0M418.6 152h0M422.5 129.8h0M435.9 112.1h0M430.6 139h0M422.6 135.1h0M420.1 108.8h0M431.1 80h0M435.3 158.1h0M418.7 140.6h0M426.4 144.2h0M428.2 92.5h0M448.1 145.8h0M420.1 107.8h0M435 146.7h0M427 149.6h0M441.1 110.5h0M420.5 141h0M434 134h0M450.3 157.7h0M429.4 106.1h0M418.5 142.7h0M416.8 113.9h0M433.7 165.3h0M420.1 110.7h0M417.2 113.6h0M431.9 166.6h0M425.7 127h0M431 117.8h0M420.1 107h0M423.3 141.5h0M427.1 140.9h0M426.9 128.5h0M422.2 164.3h0M424.6 91.9h0M432.4 98.2h0M418.6 143.3h0M421.4 144.6h0M420.8 111.7h0M441.8 164h0M432 158.4h0M423.3 86h0M421.6 156.5h0M430.4 145.5h0M440.1 166.5h0M417.4 166.3h0M433.1 76.4h0M428.8 150.7h0M440.5 109.9h0M425.5 167h0M429 143.8h0M420.2 111.5h0M445.4 98.9h0M437.4 164.6h0M444.4 166.3h0M417.6 131.2h0M427.6 77.1h0M426.1 115h0M427.2 165.1h0M429.5 141h0M426.1 108h0M426.9 166.8h0M420.3 114.8h0M420.5 143h0M419.6 160.5h0M442.6 130.8h0M431.8 166.2h0M419.6 125.9h0M436.1 108.8h0M418.1 82.2h0M419.1 94h0M420.9 111.9h0M429.6 158.2h0M422.5 155.7h0M442.6 157.2h0M417.5 160.7h0M431.6 161.1h0M428.2 132.7h0M432.3 158.2h0M422.5 104.6h0M421.9 139.6h0M417.1 90.7h0M427.9 81.1h0M419.2 152.4h0M419.3 140.4h0M434 156.3h0M422.8 86.2h0M419 147.8h0M418.1 111.9h0M452.2 81.5h0M429.8 151.9h0M418.9 160.7h0M419 110.6h0M427.4 126.3h0M448.7 108.5h0M423.1 85h0M423.3 145.1h0M444 144h0M431.6 139.2h0M442.4 150.7h0M430.2 132.4h0M418.7 114.2h0M434.6 106h0M443.4 159.1h0M421.5 95.4h0M421.2 163.5h0M436.6 153.1h0M428.3 145.2h0M417.5 136.3h0M436.5 135.5h0M431 154.5h0M425.7 154.9h0M438.5 119.3h0M423.1 104.4h0M430.6 109.6h0M429.7 129.4h0M429.8 151.1h0M430.3 152.1h0M439 167h0M437.9 125.1h0M422.1 89.3h0M434.6 129.4h0M434.8 152.4h0M421.6 160.1h0M420.8 99.3h0M418 99.8h0M434.1 106.1h0M428.1 118.1h0M420.5 98.6h0M425.4 123.2h0M422.4 143.9h0M430.1 135.9h0M431.9 114.5h0M417.8 113.1h0M435.8 133.6h0M425.1 134.8h0" stroke="#0000F0" stroke-width="2.3" stroke-linecap="round" fill="none"/>
<path d="M483.7 162.2h0M483.4 142h0M487.2 147.8h0M497.2 131.7h0M483.2 132.9h0M475.2 165.8h0M500.4 151.2h0M493.7 94.5h0M480.7 131.3h0M460.7 91.7h0M467.1 109.5h0M485.4 139.6h0M483.5 152.9h0M486.1 161.6h0M482.7 154h0M479.2 153.4h0M478.2 134.4h0M491.5 148.4h0M500.7 154h0M461.9 132.2h0M475.9 82h0M492.6 166.7h0M468.8 102.8h0M487.7 134.2h0M493.4 91.9h0M490.1 152.6h0M500.3 140.6h0M492 110.3h0M472.9 166.5h0M501.1 148.9h0M480.8 117.9h0M475.2 162.3h0M499.9 154.2h0M488.4 138h0M495.2 131.3h0M486.1 146.6h0M483.5 162.6h0M477.5 165.6h0M486.7 113.4h0M493.3 83.7h0M488 146.5h0M485.6 150.7h0M466.2 122.4h0M461.4 114.5h0M481.2 137.2h0M471.8 86.1h0M487.5 159.4h0M460.8 160.1h0M462.9 129.5h0M492.8 126.6h0M490.6 133.7h0M492.9 138.4h0M499.7 113.9h0M480.7 133.7h0M495.1 159.4h0M469.3 155.8h0M497 163.2h0M496.3 128.2h0M471.9 155.4h0M495.1 147.7h0M494.1 82.1h0M497.9 113.7h0M475.4 167.9h0M464.2 145.2h0M476.4 155.5h0M496.8 152.7h0M486.1 97.5h0M486.4 148.5h0M481.2 124.1h0M497.3 79.3h0M465.1 163.4h0M479.7 162.5h0M492.8 158.4h0M487.4 114.5h0M489.4 121.3h0M481.3 136.3h0M491.3 162.1h0M499 141.2h0M464.7 142.4h0M498 167.2h0M488.7 144.6h0M480.3 100.4h0M493.1 154.6h0M499.4 115.5h0M499.9 84.8h0M500.5 126.4h0M490.9 126.4h0M486.4 159.4h0M492.8 159.6h0M498.8 145.8h0M492.9 131.4h0M488.7 122h0M496.4 140.9h0M482.7 152.7h0M491 96.9h0M471.8 166.9h0M497.9 130.7h0M472.6 140.5h0M491.3 140.3h0M466.6 118.7h0M478.9 142.6h0M482 107.5h0M487.1 141h0M487.1 92.7h0M490.1 162h0M499.5 146.2h0M477.2 116h0M499.8 126.2h0M495.1 136.8h0M491.1 142.7h0M458.9 143.4h0M459.3 152.3h0M500.9 146.3h0M477.3 142h0M462.4 113.2h0M496.8 158.3h0M460.3 104.7h0M496.2 155.1h0M488.5 110.9h0M480.4 162.1h0M462.8 145h0M478.7 157.6h0M478.1 103.3h0M472.6 135.7h0M491.7 155.5h0M491.8 93.1h0M463.1 142.1h0M491.4 99h0M477.5 141.5h0M490.9 129h0M490.4 166.2h0M500.4 130.7h0M495.4 164.4h0M481.4 150.8h0M494.6 148.7h0M497.7 106.1h0M486.2 124.3h0M467.3 95.8h0M494.4 111.1h0M466.2 114.9h0M466.9 83h0M498.3 158.5h0M460.1 104.8h0M473.7 150.6h0M491.2 134.2h0M475.5 156.8h0M483.7 141h0M466.4 150.9h0M484.6 143h0M480.5 118.1h0M465 97.2h0M492.3 128.2h0M487.7 83.1h0M498.2 142.5h0M497.1 161.5h0M482 161.2h0M485.2 113.8h0M489.1 151.4h0M499.5 149.6h0M472.6 130.7h0M470.2 146.6h0M498.1 132.1h0M469.2 130.6h0M478.8 141.3h0M481.8 122.4h0M496.3 132h0M460 114h0M494 161.2h0M462 156.1h0M470.9 83.7h0M466.8 163.4h0M462.6 151.8h0M499.5 148.2h0M479.6 144.4h0M464.1 135.6h0M498.6 129.8h0M494.3 125.7h0M500.1 134h0M459.5 139.5h0M491.6 128.5h0M475.1 114h0M490.1 115h0M486 131.3h0M496.3 160.9h0M489.7 84.7h0M484.5 94.2h0M493.7 111.2h0M471.9 133.2h0M488.6 108.5h0M495.3 79h0M488 148.1h0M461.3 113.7h0M480.4 77.1h0M481.4 107.7h0M475.6 111.4h0M501.2 145.6h0M461.9 114.6h0M500.5 152.6h0M470.7 107.9h0M491.6 131.2h0M459.1 156.7h0M493.1 159.9h0M479.6 120.9h0M479.9 118.4h0M476.7 161.7h0M486.2 117.4h0M489.9 137.9h0M484.6 130.3h0M461.2 81.8h0M492.7 155.1h0M486.7 161h0M477.3 119.6h0M468.1 167.8h0M465.6 134.6h0M496.1 161.6h0M486.2 149.8h0M473.3 128.6h0M483 134.7h0M498.1 139.6h0M493.3 124.3h0M495.8 119.4h0M482.6 156.3h0M471.4 163.2h0M493.5 115.5h0M493.9 166.4h0M474.6 114.3h0M475.3 162.1h0M485.2 158h0M463.1 123.4h0M494.6 141h0M458.3 155.3h0M481.5 137.9h0M498.1 109.2h0M470.6 105.9h0M498.2 140.1h0M497.6 148h0M481.2 150.4h0M494.2 147.4h0M489.8 167.2h0M496.3 95.2h0M479.3 157.9h0M490.9 88.2h0M483.4 163h0M470.5 141.5h0M459 155.8h0M488.9 157.3h0M484.2 141.6h0M466.9 152.5h0M496.1 164.9h0M489.6 164.1h0M480.4 147.3h0M484.9 160.1h0M468.9 165.2h0M500.7 134.3h0M486.7 128.2h0M484.5 116.9h0M493.2 139.7h0M492.1 142.4h0M478.8 97h0M475.3 129.7h0M488.5 134.7h0M494.1 161.6h0M471.7 165.1h0M485 79.9h0M496.1 119.6h0M489.5 142.9h0M462.2 146.1h0M466.2 155.1h0M484.8 141.9h0M481.5 106.1h0M498.2 147.2h0M474.7 114.7h0M475.8 130.5h0M494.5 86.9h0M463.4 115.2h0M489.1 167.3h0M500.1 144.8h0M486.8 140.7h0M484.9 115.5h0M500 101.3h0M496 140.1h0M497.7 161.8h0M496.3 154.4h0M486 84.2h0M479.3 165.8h0M499.6 116h0M482.5 164.3h0M499.3 122.6h0M489.3 140.4h0M469.7 150.6h0M464.6 140.2h0M488 98.4h0M496.8 113.1h0M483.8 81.1h0M486.2 139.8h0M490.9 165.9h0M492.1 129.2h0M460 156.6h0M500.2 159.1h0M493.5 127.1h0M478.1 142h0M473.3 157.3h0M493.4 153.9h0M498.3 110.8h0M461.5 91h0M500.2 120.1h0M476.6 141h0M461 156.7h0M483.7 110.8h0M496.4 131.5h0M494.2 143.7h0M467.3 127.3h0M482.7 153.6h0M458.6 153.9h0M462 150.3h0M496.4 126.8h0M482.2 125h0M482.3 116.3h0M492.4 127.6h0M463 136.2h0M484.1 109.2h0M480.5 141.4h0M468 143.5h0M458.8 160.4h0M486.1 137.4h0M491.4 84.5h0M459.2 120.6h0M481.6 135h0M481.9 131.8h0M494.3 146.2h0M460.1 161.9h0M492.2 149.1h0M484.3 124.6h0M483 141.5h0M490.2 165.2h0M479.3 150.9h0M498.7 127.2h0M485.7 76.3h0M472.5 151.5h0M497.9 118.8h0M492.2 152.1h0M459.1 152.3h0M459.8 146.2h0M464.7 111.3h0M488.8 162.1h0M481.8 160.3h0M489.2 134.4h0M496 99.9h0M471.4 137.5h0M486.3 114.1h0M478.2 81.7h0M484.5 152.3h0M470.7 137.3h0M487.8 162.3h0M488.8 142.8h0M493.7 115.8h0M481.5 148h0M494.6 165.3h0M489.4 149.2h0M482.9 164.8h0M492.4 149.8h0M489.3 158.2h0M496.7 166.1h0M483 156.3h0M458.6 140.5h0M466.3 120h0M486.4 99h0M482.9 89.2h0M495.8 119.5h0M481.1 148.4h0M481.4 119.9h0M482.8 106.1h0M496.4 137h0M476.5 163.9h0M464.4 139.3h0M495.4 141.3h0M488.6 115.6h0M466.1 103.9h0M494.3 104.3h0M482.2 123.8h0M481.2 153.9h0M494 128.2h0M484 119h0M500.1 102.9h0M490.3 138.8h0M498.6 113.9h0M498.2 145.8h0M477.6 138.6h0M464.5 161.6h0M472.3 150.2h0M500.4 158.6h0M497.9 102.9h0M497.3 160.9h0M482.6 167.9h0M467.5 127h0M494.9 129h0M477.8 105.4h0M469.3 93.9h0M471.2 106.7h0M496.8 159.2h0M499.3 164.2h0M489.7 89.9h0M489.1 93.3h0M493.1 167.2h0M489.2 89.1h0M471.8 136.2h0M486.4 159.4h0M501 103.8h0M496.3 107.8h0M489.1 116.8h0M491.4 113.9h0M478.4 131.9h0M467.5 99.8h0M486.4 145.8h0M481.9 120.5h0M489 111.9h0M478 134.4h0M498.9 134.1h0M496.5 90.7h0M494.5 154h0M486 140.3h0M487.2 121.4h0M500.8 132.7h0M490.4 130.9h0M488 132.4h0M461.7 121.6h0M484.3 85.6h0M471.7 150.4h0M496.1 91.8h0M469.7 160h0M487 165.5h0M475.1 131.4h0M494.6 153.7h0M460.9 162.1h0M491.4 164.5h0M462.4 124.6h0M483.7 151.9h0M483.7 102.5h0M493.2 164.5h0M494.6 90.2h0M491.7 76.5h0M482.6 110.8h0M465.3 160.3h0M491.2 156.3h0M481.9 140.6h0M472 122.3h0M489.3 147.6h0M487.4 149.6h0M468.5 102.3h0M498.7 149.4h0M492.8 77.8h0M490.8 81.8h0M487.9 167.1h0M483.9 98.5h0M484.4 153.9h0M497 126.1h0M493.3 164.3h0M479.6 150.2h0M481.6 133.3h0M496.2 98.4h0M464.1 152.1h0M496.3 159.5h0M493.7 156h0M461.3 144.2h0M497.2 131.9h0M497.7 135.1h0M458.1 87h0M473.3 138.3h0M492.9 103.8h0M465.1 101.9h0M467.5 89.6h0M467.6 145.8h0M469 82.5h0M498 132h0M468.9 118.6h0M493.4 159.3h0M478.4 137.7h0M462 134.9h0M495.1 166.3h0M488.7 132.8h0M490.3 144.3h0M462.1 148.3h0M490.6 118.8h0M494 163.4h0M474.8 120.4h0M481.2 151.1h0M496 160.3h0M484.6 125.2h0M494.1 94.2h0M500.7 125.2h0M477.3 125.9h0M492.4 144.1h0M460.1 141.8h0M485.3 129.7h0M461.4 118.6h0M474.1 140h0M475.5 129.4h0M496.2 154.5h0M501.1 159.5h0M466.7 146.3h0M491.4 101.2h0M500.4 165.8h0M480.7 138.4h0M487.4 165.3h0M495.5 149.7h0M493.6 126.4h0M499.5 148h0M463.2 163.8h0M488.9 158.1h0M496.2 142.1h0M490.4 162.8h0M484.7 94.5h0M496.9 144.9h0M476.4 139.1h0M487 147.9h0M478.5 150.7h0M465.4 161.2h0M501.1 97.3h0M500.5 118.6h0M499.5 124.2h0M473.5 161h0M494.8 142.8h0M495.4 166.2h0M496.2 102.9h0M465.7 152.6h0M500.4 163.8h0M491.6 130.6h0M481.4 154.1h0M476 136.4h0M460 125.1h0M492.3 130.4h0M483 148.6h0M499.2 121.2h0M491.5 83.9h0M482 159.8h0M477.4 127.2h0M492.9 123.1h0M484.6 106.1h0M471.8 154.2h0M468.7 155.8h0M470.8 139.3h0M489 143.5h0M494.5 105.7h0M497.4 124.1h0M459.2 166.2h0M470.1 144.2h0M470 85.1h0M483.5 126.7h0M500.8 165.1h0M463.3 167.6h0M485.8 120.1h0M495.3 122.5h0M492 155.4h0M498.3 132h0M482.6 128.6h0M493.7 114.9h0M465.3 166.1h0M466.3 118.3h0M487 154.3h0M499.1 160.9h0M478.7 139.7h0M485.8 153.7h0M459.8 103.5h0M491.2 143.2h0M500.5 139h0M485.2 158.4h0M462.6 120.8h0M490 101.6h0M494.6 101.8h0M494.5 143.1h0M463.9 131.8h0M466.6 114.1h0M477.6 119.6h0M483.1 157h0M493.3 148.3h0M499.7 131.2h0M487.5 161.5h0M498.3 147.6h0M492.6 130.3h0M490.9 148.9h0M476.3 143.9h0M479.5 159.3h0M480.9 77.8h0M496.8 125.8h0M485.6 144.7h0M468.1 100.7h0M485.4 148.9h0M475.7 132.8h0M459 138.1h0M467.1 83.5h0M461.6 124.1h0M481.5 126.1h0M491.5 155.6h0M474.9 107.1h0M458.5 149.9h0M477.8 123.1h0M482.5 160.9h0M496.6 164.8h0M477.4 138.7h0M486.8 125.9h0M486 111.8h0M497.1 166h0M483.3 84.4h0M460.8 92.6h0M499.2 130.5h0M499.3 145.5h0M466.4 123.6h0M489.1 147.1h0M491.1 147.9h0M482.1 163.3h0M466.4 157.4h0M480.4 90.2h0M492.2 151.3h0M473.3 124.1h0M478.4 97.2h0M497.1 159.2h0M481.6 110.6h0M499.5 154.3h0M499.8 158.3h0M474.8 151h0M464.5 153.1h0M465.9 157.8h0M492.4 128.8h0M484.4 98h0M497.4 133.3h0M477.9 131.9h0M479.4 167.4h0M485.9 161.9h0M463.3 115.6h0M469.5 150.6h0M497.3 127.6h0M478.9 167.7h0M491 146.5h0M469 153.7h0M494.1 135.9h0M466 107.2h0M483.9 118.9h0M472.9 121.3h0M495.8 130.3h0M465.5 153.3h0M498 153.6h0M499.3 117.4h0M461.8 120.3h0M473.3 134.2h0M493.6 162.3h0M486.3 122.2h0M492.7 154h0M485 157.3h0M492.6 144.2h0M501.1 146.9h0M479.7 103h0M499.7 112.9h0M492.4 161.1h0M480.3 165.9h0M491.1 126.5h0M493.5 164.5h0M470.4 134.3h0M491.2 144.2h0M499.5 144.5h0M488.8 95.7h0M482.1 156.5h0M486.3 138.2h0M500.6 143h0M486.4 107.5h0M491.3 120.9h0M481.4 164.2h0M486.1 158.2h0M472.3 160.9h0M460.5 124.3h0M496.5 89.5h0M489.2 129.8h0M497.5 129.3h0M492.4 150.2h0M478.5 162.6h0M483.8 136.3h0M478.5 112.8h0M486.1 158.4h0M474.7 152.2h0M469.7 165.1h0M482.8 148.3h0M469.6 138.5h0M488.2 160.1h0M489 112.4h0M472.9 138h0M472 152.7h0M496.7 126.2h0M492.6 147.1h0M494 86.1h0M471.4 158.7h0M477.2 102.9h0M486.3 128.4h0M483.6 166.7h0M460.9 163.1h0M494.8 96.1h0M496.2 115h0M479.8 124h0M469.2 142.9h0M500.4 121.8h0M492.8 118h0M491.4 154.4h0M499.6 92.8h0M488.8 83.6h0M494.4 136.1h0M498 147.3h0M493.4 139.3h0M470.7 144.4h0M499.3 152h0M484.3 161.3h0M475.3 134.9h0M494.6 128.8h0M481.3 162.7h0M490 161.6h0M497.4 148.2h0M490.8 94.3h0M484.2 165h0M498.4 143.3h0M495.3 118.7h0M496.7 162.1h0M487.1 151.2h0M469.8 127.3h0M480.5 148h0M493.8 99.2h0M483.8 157.3h0M471.4 160.9h0M469.5 131.9h0M467.5 155.5h0M461.5 113.8h0M467.3 163.9h0M498.6 103.7h0M470.1 131.5h0M460 141.4h0M483.1 124h0M490.6 136.3h0M497.1 137.3h0M467.5 139.8h0M489.4 158.2h0M490.4 144.8h0M500.3 136.2h0M462.8 78.7h0M489.1 166.7h0M484.2 156.6h0M474.2 141.9h0M471.4 162h0M481.3 122.3h0M473.5 167.6h0M487.2 153.4h0M483.9 142.8h0M459 158h0M488.1 108.3h0M488.6 141.2h0M497.4 90.3h0M482.1 104.4h0M473.2 119.5h0M491.8 157.3h0M498.3 162.1h0M493.9 143.7h0M477.4 99.1h0M491.6 129.4h0M487.9 98.4h0M487.3 157.9h0M497.4 105.1h0M494.2 160h0M486.2 83.4h0M482 143.9h0M463 127.6h0M485.3 144.2h0M494.7 113.2h0M495 135.8h0M493.5 112.5h0M490 157.1h0M489.9 153.5h0M500.3 162.6h0M496.9 98h0M499.8 159.6h0M490.2 166.1h0M491.8 137.3h0M499.1 130.2h0M491.9 151.1h0M488.9 166.2h0M474.9 152.9h0M474.8 158.9h0M474.2 123.6h0M483 94.1h0M490.6 134.6h0M498.1 114.7h0M484.8 145.5h0M500.3 143.8h0M491.6 140h0M467.3 165.6h0M500.2 153.6h0M462.5 157.3h0M459.9 114.4h0M491.4 123.7h0" stroke="#80FFFF" stroke-width="2.3" stroke-linecap="round" fill="none"/>
<path d="M526.2 98h0M502.3 149.1h0M525.2 92h0M528.4 120.5h0M537.1 166.2h0M518.3 116.6h0M521.2 132h0M513.6 117h0M504.1 127.3h0M515.7 78.2h0M537.3 140.5h0M505.9 76.3h0M504 131.3h0M513.3 120.7h0M502.5 121.8h0M527.1 160.7h0M516.8 117.5h0M511.1 139.3h0M519.4 108.7h0M502.9 124.5h0M505.5 124.4h0M501.5 159.5h0M526 134.8h0M509.3 79.7h0M514.8 94.8h0M520 166.7h0M512 85.2h0M518.6 124.2h0M519.6 155.2h0M511.8 149h0M509.6 76.8h0M503.9 158.4h0M535.2 127.3h0M530.3 90.2h0M514.8 149.3h0M536.3 124.2h0M515.9 131.8h0M518.1 106.5h0M507.1 99.1h0M506.2 121.1h0M532.6 146.3h0M514.4 122h0M520.8 87.4h0M523.9 92.1h0M517.4 119.7h0M544.7 118.8h0M511.4 129.2h0M501.5 116.5h0M506.8 113.7h0M517.2 146h0M534.2 112.3h0M509.3 132.3h0M540.7 160.5h0M511.8 128.1h0M502.9 125.3h0M519.9 154.9h0M507.7 89.1h0M506.5 118.5h0M515.5 142.5h0M508.1 136.2h0M501.5 84h0M516.9 157.6h0M511.8 143.6h0M533 120.8h0M516.2 124.3h0M508.7 122.4h0M513.8 103.5h0M515.4 133.4h0M501.6 122.7h0M505 125.4h0M503.8 88.5h0M504.2 78.8h0M507.1 108.2h0M514.8 140.7h0M505 161.2h0M530.3 99.8h0M518.4 130.7h0M512.6 153.3h0M511.4 137.2h0M518.5 140.5h0M503 138.1h0M511.8 133.6h0M527 112.4h0M503.4 105.2h0M506.7 123.3h0M503.9 120.2h0M504.7 125.1h0M518.3 114.1h0M505.2 85h0M511.8 151.2h0M536.2 105.8h0M506.3 161h0M502.2 129.6h0M501.9 112.7h0M508.4 87.1h0M504.6 144.5h0M507 126.3h0M514.5 125.8h0M514.4 132.4h0M506.5 97.5h0M506.3 137.7h0M509.6 125.7h0M510.2 85.4h0M505.5 100.1h0M505.9 121.8h0M513.5 122.4h0M514.4 126.4h0M533.6 135.5h0M511.4 125.3h0M509 109.6h0M507.7 81.3h0M501.8 83h0M513.7 126.5h0M529.7 113.2h0M509.9 113.7h0M512.1 124.1h0M510.3 122.4h0M501.6 123.8h0M505 151.5h0M502.4 119h0M533.7 134.1h0M514.8 115.1h0M524.1 79.8h0M511.2 90.7h0M515.9 85.1h0M504 146.1h0M514.9 130.5h0M510.5 116.6h0M515.9 130.1h0M507.8 123h0M539.7 100.5h0M501.5 89.3h0M519 113.2h0M520.2 81.6h0M541.7 159.1h0M505.4 87.4h0M513.1 84.5h0M511 141.1h0M509.9 92.5h0M509.5 111.6h0M509.6 122.3h0M511.5 106.1h0M506.2 110.7h0M501.7 126.9h0M502.2 90.1h0M510.2 134.1h0M510.2 159h0M530.6 145.2h0M514 110.8h0M523.7 167.4h0M510 107.5h0M522.2 144.8h0M503.9 145.8h0M505.3 136.6h0M539.5 153.3h0M502.7 131h0M526.7 121.3h0M512 128h0M517.2 124.7h0M521.4 117.6h0M532.9 111.5h0M512 118.4h0M519.6 145.7h0M525.1 136.3h0M531.8 127.6h0M519.4 166.9h0M502.1 132.3h0M531.2 152h0M510.4 140.2h0M507 115.2h0M501.7 120.5h0M510.5 138.1h0M507.3 133.3h0M514.6 117.7h0M543.7 131.6h0M505.8 126.7h0M508 86h0M508 147h0M528.2 128h0M508.4 124.9h0M512.6 137.5h0M507.7 154h0M508 158.8h0M514.2 112.8h0M533.1 126.7h0M533.2 118.2h0M501.4 121h0M506.9 81.1h0M540 148.1h0M509.1 139.9h0M513.4 122.9h0M504 133.4h0M504.8 93.4h0M519.1 154h0M504.4 104.8h0M501.6 87.8h0M523.4 80.5h0M523.3 100h0M512.9 157.6h0M525.4 136.5h0M513.4 124.9h0M521.7 128.2h0M502.2 132.7h0M522.9 130.4h0M506 113.6h0M508.2 125.8h0M519.6 82.5h0M503.8 127.6h0M504.6 125h0M518.5 76.5h0M510.4 101.4h0M505.3 157.9h0M502 147.9h0M504.5 144.7h0M504.1 128.4h0M502.4 76.1h0M505.4 90h0M541.8 152.4h0M505.8 162h0M503.1 135.7h0M508 124.6h0M505.9 93.8h0M524.7 159.7h0M513.8 130.9h0M524.2 77.7h0M534.1 128.3h0M517.7 107h0M502.1 155.5h0M517.9 113.7h0M517.2 135.5h0M501.8 167.2h0M502.7 127.3h0M508.4 126.2h0M501.7 116.2h0M506 162.4h0M503 108.6h0M516.4 115.8h0M503.1 124.1h0M512.7 115.2h0M529.1 128.2h0M536.2 101.6h0M539.1 116.9h0M503 88.1h0M534.6 152.2h0M520.3 128h0M527.3 151h0M508.2 113.1h0M501.7 145.1h0M505.8 84.1h0M508.4 114.6h0M501.6 140.9h0M533 94.6h0M509 96.5h0M533 87.7h0M507 124.5h0M510.4 164.7h0M531 96.2h0M515.5 165.2h0M506.3 137.6h0M522.9 150h0M513.4 116.3h0M503 124.2h0M505.1 122.3h0M512.9 133h0M502.2 153.5h0M504.6 124.2h0M502.2 93.3h0M527.1 85.1h0M514.7 136.9h0M523.9 105.5h0M519.6 130.3h0M501.9 152.7h0M524.1 144.3h0M503.7 130.6h0M519 108.8h0M525.4 79.9h0M502.4 137.9h0M514.8 130.9h0M510 142.2h0M503.4 117.4h0M502 105.2h0M503.5 127.4h0M507.2 150.6h0M512.7 142.5h0M511 115.2h0M510.2 162h0M510.1 89.5h0M522.2 129.2h0M510.2 99.3h0M512.6 122.3h0M512.7 111.8h0M531 87.1h0M501.7 108.9h0M509.2 119.7h0M520.9 145h0M506.5 111.6h0M510.2 155.4h0M521.7 113.9h0M526.4 125.4h0M526.7 106.4h0M533.7 94.5h0M537.4 122h0M501.8 97.8h0M512.1 87.1h0M502.1 135h0M505.2 148.2h0M540.8 110.7h0M503 99.2h0M504.2 118.2h0M523.3 119.4h0M518.7 144.6h0M505.9 97.1h0M539.6 96.8h0M517.5 121.9h0M532.3 154.2h0M541 122.7h0M523.6 125.5h0M520.6 107.2h0M523.8 89.6h0M513.7 125.6h0M502.5 76.1h0M510 130.8h0M518 124.6h0M532.2 90.9h0M502.8 146.2h0M513.1 139.9h0M504.5 123.2h0M508.9 147.1h0M503.2 133.8h0M523.6 128.8h0M506.1 151.5h0M504.7 143.2h0M508.2 161h0M508.5 133.3h0M503.5 138.7h0M514 143.5h0M501.6 164.4h0M508.7 127.5h0M505.2 105.2h0M502.8 85.6h0M510.3 115.8h0M514.8 133h0M536.9 123.7h0M533.5 128.5h0M513.1 150.3h0M526.2 81.6h0M520.8 116.6h0M504.6 129.5h0M525.3 125.3h0M530.9 114.7h0M515.6 130.2h0M510.2 164.8h0M506 87.2h0M501.4 122.3h0M530.5 123.7h0M528.5 134.3h0M507.5 119.4h0M503.7 106.9h0M518.7 152h0M525.7 123.4h0M518 76.7h0M503 105.1h0M519.7 127.6h0M515.7 146.4h0M512 130.6h0M512.5 125.5h0M516.5 114.1h0M501.4 99.6h0M512.9 129.9h0M502.6 150.8h0M508.2 138.6h0M531.2 150.9h0M520.6 101.2h0M512.3 120.7h0M504.7 133h0M532.4 77.3h0M504.5 133h0M528.1 116h0M507.4 127.2h0M502 88h0M523 120h0M523.9 146.5h0M515.1 124.8h0M516.3 127.6h0M508.2 104.2h0M501.4 135.7h0M510.2 116.8h0M503.5 149.1h0M528.9 150h0M516.9 91.1h0M508.4 152h0M513.3 122.2h0M544.3 123.1h0M514.3 165h0M513.8 128.7h0M515.7 166.6h0M503.1 146.1h0M504.6 115.6h0M513.5 122.9h0M513.1 104.5h0M531.1 107.7h0M502.2 87.6h0M509.3 151.7h0M503.4 80.8h0M509.6 138.2h0M528.7 134.5h0M520 112h0M519 132.4h0M513.3 139.1h0M503.5 152.3h0M512.9 112.8h0M515 132.3h0M505.3 166.5h0M503.1 96.2h0M502 99.9h0M502.6 121.7h0M512.6 84.4h0M525.3 81.8h0M537.6 96.2h0M505.3 93.3h0M505.1 128.4h0M532.1 125.6h0M510 100.9h0M508.1 111.9h0M532 129h0M507.2 104.7h0M524.9 93.5h0M506.7 83h0M514.6 130.9h0M503.8 90.5h0M504.5 151.3h0M513.3 129.1h0M505.5 101.8h0M516.9 125.7h0M511.9 89.9h0M511.7 122.4h0M503.1 149.3h0M509.6 111.7h0M505.4 142.5h0M530.4 144.3h0M506.5 141.8h0M508.7 95.1h0M512.2 160.6h0M534.9 106.7h0M505 109.8h0M507.4 124.5h0M527.4 107.2h0M523.1 156.1h0M518.9 105h0M502.9 88.7h0M503.3 133.4h0M504.4 121.9h0M504.4 160.7h0M508.9 93.8h0M509.4 76.7h0M533.2 137.6h0M505.7 116.7h0M520.7 118.4h0M504.9 82.6h0M504.6 123.5h0M504.7 132.9h0M503.5 120.9h0M503.6 115.5h0M502.8 116h0M510.3 93.5h0M525.8 94.3h0M543.7 117.2h0M502.5 76.6h0M502.9 154.1h0M516 95.9h0M526.5 139.1h0M502.2 121.5h0M521.3 125.9h0M524.1 123.2h0M517.4 123.6h0M512.6 86.3h0M515.4 128h0M535 130.3h0M505.1 83.5h0M507.7 130.3h0M524.2 102.9h0M506.2 121.3h0M501.9 141.6h0M536.7 77.4h0M503.3 84.1h0M514.7 84.5h0M535.9 150.2h0M532.3 92.9h0M517.7 144.5h0M532.4 124.1h0M501.5 146.7h0M503.9 165.8h0M524.2 125.8h0M516.2 82.6h0M531.3 124.8h0M532.2 161.6h0M505 157.4h0M504.4 113.5h0M504.2 118.6h0M535.3 121.7h0M505.7 96.2h0M514.5 115.4h0M503.2 133.5h0M510.8 90.8h0M524.6 109.2h0M537.2 101.9h0M508.5 132.8h0M508.8 91.7h0M530.5 120.2h0M522 146.7h0M525.7 150.6h0M528.5 121.3h0M501.7 151.9h0M506.4 156.6h0M502.4 138.6h0M502.3 115h0M506.1 135.6h0M532.1 114.7h0M504.8 124.1h0M516.1 84.7h0M529.9 134.3h0M528.9 116.9h0M507 102.6h0M505.1 83.7h0M531.5 151.3h0M508 141.4h0M512.7 114h0M523 123.2h0" stroke="#78C832" stroke-width="2.3" stroke-linecap="round" fill="none"/>
<path d="M554.8 79.3h0M567.9 82.4h0M574.2 84.8h0M580.8 84.8h0M563 88.9h0M570.1 92.2h0M583.8 91.6h0M549.5 95.7h0M564.8 97.7h0M581.8 96.7h0M555.6 101.2h0M571 102.2h0M581.8 102.4h0M580.8 103.8h0M585.5 108.9h0M571.6 111.6h0M547 112.6h0M556.6 114.7h0M583.8 116.1h0M587.5 116.1h0M547.5 117.1h0M571.6 117.7h0M575.2 119.2h0M557.7 120.2h0M545 120.2h0M553.2 121.2h0M548.1 122.2h0M579.7 122.8h0M546 123.9h0M558.9 123.9h0M582.8 120.6h0M585.9 123.2h0M585.5 124.7h0M573.6 129h0M552.2 129h0M554.6 130.4h0M559.3 131.4h0M546 133.1h0M578.7 132h0M567.5 134.5h0M552.8 136.5h0M560.3 138.2h0M564.8 139.6h0M581.8 138.2h0M550.1 141h0M555.6 141.6h0M564 141h0M564.8 142.7h0M583.8 141.6h0M546.6 144.7h0M555.2 144.7h0M569.1 144.7h0M580.2 143.7h0M581.8 144.7h0M583.4 145.3h0M548.1 146.7h0M560.3 146.7h0M556.2 148.8h0M574.6 153.3h0M554.6 152.5h0M556.2 153.3h0M546 155.9h0M566.1 157.4h0M581.8 157h0M583.4 157.4h0M548.1 160h0M576.1 158h0M550.1 160h0M571.6 161.1h0M580.8 161.1h0M583.8 162.7h0M587.3 162.7h0M558.9 163.1h0M558.9 165.1h0M563 165.1h0M566.1 164.1h0M568.5 164.1h0M548.7 166.2h0M581.8 166.2h0M584.9 165.8h0M581.8 168.2h0M550.3 142.8h0M570.5 93.6h0M582.6 133.5h0M549.6 160.9h0M571.4 130.8h0M556.9 101.4h0M571.4 129h0M550.2 121.1h0M552.7 122.8h0M560.3 84.7h0M559.9 166.9h0M550.4 140.9h0M559 97.4h0M576.4 148.7h0M567.6 91.1h0M559 117.8h0M580.4 116.7h0M565.1 109.2h0M547.4 151.9h0M567.1 81.8h0M583.2 156.2h0M557.1 150.6h0M567.8 157.5h0M583.8 162.7h0M560 120.9h0M563.7 144.6h0M579.9 92.2h0M546.4 122.4h0" stroke="#E60000" stroke-width="2.3" stroke-linecap="round" fill="none"/>
<path d="M594.5 79.3h0M602.2 87.1h0M597.7 90.5h0M607.7 91.2h0M596.7 94.6h0M614.1 101.8h0M616.9 105.5h0M593.4 108.5h0M592.4 123.2h0M593.4 123.7h0M601.2 121.8h0M606.3 122.2h0M610.8 120.6h0M610.4 124.3h0M605.9 125.9h0M603.9 126.9h0M613.1 126.9h0M626.3 128.8h0M628.4 130.4h0M631.5 129h0M630.8 131.4h0M592 132h0M597.7 133.5h0M610.4 132h0M597.7 135.5h0M599.8 140.2h0M602.6 141.6h0M606.9 140.2h0M612.4 141.6h0M626.7 148.8h0M608.4 151.2h0M630.2 158h0M616.9 158.6h0M613.5 161.5h0M607.3 163.1h0M605.3 165.1h0M601.8 165.1h0M591.6 164.5h0M593 164.5h0M590.4 167.6h0M597.7 168.2h0M599.2 167.8h0M601.6 167.2h0M618 165.1h0M621 167.8h0M624.7 167.6h0" stroke="#000000" stroke-width="2.3" stroke-linecap="round" fill="none"/>
<path d="M657 88.5h0M672.1 118.5h0M670.7 126.3h0M641.1 137.6h0M644.5 142.7h0M635.9 148.4h0M663.1 154.5h0M662.5 155.3h0M639 158h0M632.9 163.1h0M632.9 164.1h0M642.7 165.1h0M652.9 164.5h0M636.4 167.8h0M675.8 161.5h0" stroke="#FF00FF" stroke-width="2.3" stroke-linecap="round" fill="none"/>
<path d="M415.7 117.4h0M414.6 120.6h0M414.5 89.4h0M415.4 110h0M415.5 90.4h0M415.1 95h0M416.2 136.7h0M416.4 150.8h0M414.5 87.7h0M415.5 83h0M415.2 103.3h0M416.3 156.3h0M415.7 162.1h0M416.1 154.2h0M414.8 106.5h0M414.2 140.9h0M415.5 136.5h0M414.1 114.1h0M414 136h0M415.8 91.4h0M415.3 79.3h0M414.8 121.6h0M415.5 89.1h0M415.2 93h0M414.3 120.3h0M414.2 87.9h0M415.5 81.3h0M415.9 97.7h0M415 99.5h0M415.1 91.5h0M413.9 102.7h0M414.7 88.7h0M414 81.9h0M415.4 109.3h0M415.2 97.4h0M416.2 138.1h0M417.8 167.7h0M415.2 106.3h0M417 162.6h0M416.9 146.4h0M414.9 122h0M415.8 116.3h0M414.1 115.4h0M414.3 157.1h0M417 163.5h0M416.5 119.4h0M414.4 89.6h0M414.2 83.8h0M414 115.9h0M415.4 141.7h0M414.9 113.1h0M415.8 103.7h0M415.2 91.1h0M415.2 86.7h0M414.2 108.8h0M414.1 149h0M415.1 148.6h0M414 94.5h0M414.1 157.4h0M414.7 154.5h0M415.5 131.3h0M415.2 138.3h0M414.9 117.6h0M416 132h0M415.9 105.1h0M416.2 167h0M416.6 137.6h0M416.6 144.1h0M414.6 77.8h0M416.2 158.8h0M414.3 143.8h0M414.1 84.3h0M415.3 98.1h0M414.3 140.8h0M416.8 162.2h0M415.9 158.5h0M414.3 128.4h0M415.5 112.2h0M416.9 167h0M415.5 92.3h0M414.6 161.3h0M417.4 162.4h0M413.9 148.1h0M417.3 156.8h0M415.5 85h0M414.6 152.6h0M414.7 95.3h0M416.1 135.1h0M415.1 121.6h0M414 103.5h0M414.3 115.4h0M414.5 86.1h0M416.6 123h0M415.9 122.9h0M415 82h0M414.5 115.9h0M415.1 148.1h0M415.4 93.2h0M414.2 160.3h0M415.8 144.6h0M414.8 153.3h0M417 144.1h0M415.4 95.4h0M415.9 111.5h0M415.6 101.6h0M415.2 95.2h0M414.5 129.3h0M414.6 75.6h0M416.4 161.6h0M416.7 161.1h0M416.1 110h0M415.5 138.2h0M414.4 134.4h0M415.2 126.3h0M415.1 160h0M414.5 111.6h0M415.5 159.5h0M414.1 162.4h0M416.3 153.9h0M415.2 167.2h0M415.2 106.2h0M415.3 102.4h0M416 150.7h0M415.2 90.9h0M417.1 160.1h0M415.3 139.1h0M415 82.8h0M414 105.5h0M414.6 80.8h0M414.8 87.3h0M416.5 119.8h0M415.3 94.3h0M414 118.5h0M414.3 81.1h0M415.1 87.1h0M415.4 111h0M414.3 86.4h0M413.9 134.8h0M414.6 111h0M415.1 158.5h0M417.7 158.8h0M414.2 98.4h0M414.9 93.8h0M414.2 87.6h0M414 111.5h0M414 86.1h0M415.4 113.3h0M415.2 108.3h0M416 124.4h0M414.3 83.3h0M414.4 145.4h0M416.9 148.9h0M415.5 140.9h0M415.1 124.4h0M414.6 85.7h0M415.2 100.3h0M414.3 111.8h0M414.7 79.1h0M413.9 98.2h0M416.6 128.1h0M414 137.7h0M414.2 152h0M416 110.9h0M414.9 98.7h0M415.8 124.5h0M416.1 117h0M414.8 75.5h0M415.6 113.9h0M415.2 90.1h0M414.3 143h0M416.8 147.8h0M414.1 145h0M414.5 97.7h0M416.9 150.2h0M414.7 77.5h0M415.5 167.1h0M417 146.7h0M416.4 143.8h0M414.4 75.3h0M413.9 93.1h0M415.9 143h0M414.6 151.1h0M415.4 103.9h0M416.4 128h0M415.8 113.9h0M414.5 79.5h0M414.5 121.4h0M416.6 162.4h0M417.6 168.4h0M415.6 95.8h0M414.1 142.7h0M414 84.5h0M414.3 138.2h0M414.3 104.9h0M414.3 82.6h0M415.6 90h0M414.4 162.9h0M415.7 93.8h0M414.5 106.6h0M415.3 151.6h0M416.8 148.6h0M414.8 81.6h0M415.6 106.7h0M415.1 122.3h0M417.1 154.9h0M417.2 152.7h0M414.5 94.5h0M416 160.7h0M415.5 80.5h0M415 113.3h0M417.1 139.7h0M415.3 127.6h0M414.1 96.6h0M413.9 82.7h0M414.6 81.4h0M415.5 132.4h0M414.3 133h0M417.2 160.7h0M416.2 157.9h0M415.6 114.9h0M414.1 155h0M414 80.2h0M415 83.3h0M415 75.1h0M415.7 132.2h0M414.5 113.1h0M415.1 79.8h0M414.6 76.1h0M414.1 83.2h0M415.5 152.5h0M415.6 105h0M414.4 84.4h0M414.9 124.9h0M415.5 119.4h0M415.2 89.6h0M414.9 100.7h0M415 150.2h0M415.6 165.8h0M416.7 136.1h0M414 158.3h0M415.8 93.7h0M414.8 103.9h0M415.9 139.4h0M416.4 141.6h0M414.8 129.2h0M415.6 144.6h0M414.7 102.9h0M414.9 112.1h0M416.5 143.9h0M415.7 88.1h0M415.1 80.2h0M415.8 163.2h0M415 122.7h0M416.1 112.9h0M415.5 168.4h0M414.5 166.9h0M414.1 148.7h0M415 160.2h0M414.9 79.9h0M416.1 152.6h0M416.4 115.1h0M414.7 119.4h0M414.8 99.7h0M415.1 148.9h0M415.3 128.3h0M416.9 139h0M416.4 116.7h0M414.2 93.6h0M414 125.1h0M415.4 121.7h0M414.3 91.4h0M415.8 106.7h0M414 156.4h0M416.5 116.9h0M415.6 137.3h0M414.2 125.4h0M414.8 104.7h0M414.7 83h0M414.8 77.1h0M415.2 151.5h0M416.9 143.4h0M414.2 109.9h0M415.2 100.9h0M414.6 153.9h0M413.9 166.2h0M416.1 157.3h0M417 168.5h0M417.4 158.4h0M414.7 150.6h0M415.2 118.3h0M415.6 88.9h0M414.2 103.2h0M414.1 99.6h0M415.7 90.8h0M414.1 102.7h0M415.2 88.5h0M415.4 85.1h0M414.5 114.7h0M415 83.2h0M414.7 134.4h0M414 91.4h0M414.8 92.3h0M414 76.8h0M415.3 144.3h0M414.9 166.1h0M414.4 134.5h0M414.6 130.2h0M416 100h0M415 75.9h0M415.6 104.5h0M414.3 131.5h0M415.9 98.2h0M414.4 166.4h0M415.2 134.5h0M415.7 100.8h0M415.1 87.8h0M414.1 81.3h0M414 77.4h0M417 168.2h0M417.3 163.1h0M415.2 80.1h0M414.2 106.2h0M414.2 148.4h0M415.6 108.3h0M416.3 134.9h0M416.3 152.8h0M414.6 75.4h0M415.3 108.8h0M415.1 133.9h0M414.5 155.2h0M415.1 92.3h0M414.5 164.2h0M416.3 137h0M415.9 107.2h0M415.5 133.5h0M414.8 88.7h0M416.5 118.6h0M416 127.6h0M417.1 149.9h0M414.3 93.5h0M414.8 149.9h0M414 92.4h0M415.3 122.5h0M415.8 93.6h0M414.4 87.3h0M414.6 91.3h0M417.4 159.7h0M414.4 86.7h0M414.8 77.5h0M416.1 132h0M414.3 118.7h0M416 101.9h0M415.6 106.1h0M416.6 140.7h0M414.9 125h0M415 152.4h0M416.2 159.3h0M414.2 102.4h0M414.7 119.9h0M414 95.7h0M415.5 83.9h0M416.8 166.5h0M413.9 104.5h0M415.4 152.7h0M415.7 157h0M414.3 123.8h0M415.3 141h0M414.5 75.6h0M414.7 167.9h0M415.5 123.5h0M414.3 141h0M414.9 165.2h0M415.8 153.6h0M414.3 138.4h0M414.6 112.5h0M414 91.6h0M415.6 106.6h0M414.8 76.8h0M414.2 141h0M416.3 152h0M416.8 139.1h0M414.4 132.3h0M415.1 128.8h0M415.7 107h0M415 75.6h0M414.4 76.1h0M414.6 80.4h0M415.3 97h0M415.7 114.9h0M414.1 92.4h0M415.1 95.5h0M416.6 124.4h0M415.5 87.3h0M417.1 154.5h0M414.9 79.7h0M415.4 80.1h0M414.7 89h0M414.1 107.7h0M415.5 119.8h0M414 88.3h0M414.4 79.2h0M414.5 158.8h0M415.3 120.6h0M416.2 113.3h0M414.7 108.4h0M414.2 167.6h0M416 145h0M415.5 133.2h0M414.5 114h0M415 131h0M416.2 135.6h0M415.6 132.6h0M414.6 82h0M414.6 115.2h0M414.8 109.9h0M416 131h0M416.1 142.3h0M415.2 78.9h0M414.6 145.8h0M417.2 160.8h0M414 91.8h0M415.2 81.3h0M415.1 80h0M415.1 115.1h0M415.4 102.7h0M416.3 167.6h0M415.2 116.3h0M415.4 125.2h0M415.5 104.9h0M414.7 120h0M415.9 121.4h0M415.4 138.4h0M414.2 168.8h0M414.8 120.2h0M417.6 165.5h0M416.5 118.7h0M415.4 154h0M416.4 134h0M415.2 97.4h0M415.3 87.7h0M415 142h0M415.8 131.7h0M415.3 126.1h0M415.8 93.1h0M415.9 153.6h0M414.1 93.1h0M417.4 155.3h0M413.9 134.4h0M415.1 107.6h0M414 97h0M416.8 137.5h0M414.7 90.5h0M414.3 162.6h0M414 99h0M415.2 165.2h0M414.6 84.4h0M416.2 113.2h0M414.6 92.4h0M415.2 93.3h0M414.8 88.4h0M416.3 119.9h0M415.4 149.8h0M414.9 78.3h0M415.7 101.6h0M414.3 107.8h0M416.7 122.9h0M417.3 155.7h0M414.2 137.1h0M415.9 109.2h0M415.2 90.6h0M415.9 162.5h0M414.1 114.2h0M414.9 148.9h0M414.5 86.5h0M414 106.7h0M417.6 161h0M416 109.8h0M414.8 109.5h0M415.5 87h0M414.2 76.7h0M415.4 133.2h0M416.4 150.1h0M416.3 111.6h0M415.4 134h0M415 140.3h0M415.3 90.9h0M415.8 101h0M414.3 80.6h0M414.4 146.9h0M415.5 97.9h0M416.2 124.4h0M415.7 155.3h0M415.1 87.1h0M415.6 103.8h0M414.8 84.2h0M413.9 101.6h0M414.8 88.7h0M415.5 80.9h0M414.4 162.4h0M413.9 81.5h0M414.5 156.5h0M414.7 129h0M416.4 113.2h0M416.7 143.8h0M415.8 132.8h0M416.1 111.8h0M415.9 140.5h0M415.3 83.7h0M416.1 153.6h0M415.1 104h0M415.4 98.2h0M415.5 130h0M414.2 122.7h0M414.3 162.1h0M414.7 109.6h0M416.2 129.2h0M414.6 98.8h0M416.2 129.9h0M416.5 124.2h0M415.1 121.2h0M414.5 121.8h0M414.8 80h0M415.7 149.1h0M414.9 110.7h0M414.1 90h0M414.1 152.8h0M414.6 98.2h0M416.8 147.9h0M416.5 156h0M415.9 152.8h0M415.5 154.3h0M416.5 121.4h0M414.9 110.3h0M415 84.9h0M415.3 158.9h0M416.6 146.9h0M415.1 148.5h0M415 79h0M416.2 132.6h0M415.2 78.9h0M414.5 76.8h0M415 116.7h0M415.9 125.4h0M417.5 150.6h0M414.8 102h0M415.6 118.9h0M417 159.7h0M414.4 134.8h0M415.5 85.7h0M415.3 151h0M414.8 135.7h0M415.4 147.3h0M417.5 159.5h0M415.4 141.3h0M417.4 151.3h0M414.8 108.8h0M415.5 93.6h0M415.5 95.8h0M416.4 163.8h0M414.9 88.8h0M414.6 87.2h0M414.7 89.4h0M414.7 141.2h0M414.3 110.8h0M415.9 93.8h0M416.8 158.8h0M415 89.5h0M415.7 128.7h0M414.3 163.6h0M414.9 103h0M415.2 91.5h0M413.9 101.9h0M415 95.7h0M416.1 159.3h0M416.1 115.9h0M415.1 151.5h0M416.9 143.1h0M416.8 134h0M415.9 125.8h0M415.9 122h0M414.2 90.2h0M414.8 103.4h0M416.6 121.4h0M416.3 132.3h0M415.3 138.6h0M416.5 137h0M414.4 94.8h0M415 148.2h0M414.8 88.9h0M414.1 161.1h0M416.2 159.3h0M415.5 114.3h0M414.5 76.8h0M415.6 122.7h0M417.5 161.2h0M415.1 159.3h0M414.9 157.4h0M415.5 83.1h0M414.2 124.8h0M414.1 155.2h0M415.2 146.3h0M414.4 143.1h0M417.1 142.2h0M414.2 100h0M415.2 124.3h0M414.7 137h0M416.9 135.9h0M414 75.6h0M415.2 164h0M414.7 112.5h0M417 158.9h0M415.4 101.5h0M414.7 86.4h0M415.6 144.9h0M415.2 124.7h0M414 137.3h0M414.8 79.8h0M415.1 118.2h0M415.6 153.3h0M416.2 125.1h0M415.5 105.4h0M416.1 104.2h0M415.6 151.4h0M414.7 139.1h0M414.5 83.4h0M417.2 147.5h0M414.6 106.4h0M417.8 167.4h0M414.4 137.3h0M415.9 146.9h0M414.1 88h0M415.2 156.7h0M416.1 128.4h0M415.3 141.5h0M414.4 101.8h0M415.6 108.8h0M415.3 164.2h0M416 114.3h0M414 159.5h0M414.5 112.1h0M416.7 132.1h0M415.8 129.5h0M414.7 128.2h0M415.9 144.4h0M414.9 83.2h0M415.4 91.3h0M417 143.5h0M414 134.6h0M416.7 156.6h0M415.4 154.3h0M415.5 133.5h0M416.5 164.8h0M414 116.7h0M414.4 90.9h0M416.3 118h0M414.2 141.1h0M414.8 168.7h0M414.6 92.6h0M415.8 108.1h0M415.1 145.2h0M414.8 91.8h0M414 97.9h0M415.4 157.3h0M416.6 158.2h0M415.6 115.4h0M416.8 152h0M415.5 151.4h0M416.3 134.2h0M415.7 135h0M415.3 87.7h0M414.8 94.8h0M415.2 91.7h0M416 122.3h0M414.6 136.5h0M414.8 102.4h0M413.9 77h0M414.7 88.4h0M414.3 158.2h0M414.5 81.8h0M414 124.9h0M415.3 126.3h0M414.3 93.4h0M416 119.1h0M416.3 138h0M414 139.1h0M414 150.7h0M414.8 90.7h0M415.1 80h0M416.9 132.4h0M416.4 151.9h0M414.6 105.5h0M416 165.6h0M414.8 168.6h0M417 148.4h0M414.9 80.7h0M415.6 128.5h0M414.6 139.8h0M417.1 159.7h0M414.8 82.7h0M417.2 153.3h0M414.2 98.5h0M416 139.7h0M416.2 116.2h0M415.4 85.1h0M414.1 167.8h0M417.6 165.8h0M416.5 145.9h0M416.9 160.8h0M415.1 78.5h0M414.9 119.1h0M415.2 92h0M417.2 144.5h0M414.1 157.3h0M415.3 81h0M414.3 114h0M414 123.6h0M415.5 109.9h0M414.7 110.6h0M417.4 151.3h0M415.1 152.7h0M416.3 117.5h0M413.9 129.6h0M414.9 103.9h0M416 115.5h0M416.3 141.4h0M415.8 126.9h0M414.4 79.9h0M415.1 77.7h0M414.2 81.4h0M414.4 88.1h0M416.7 163.4h0M416.5 137.9h0M414.3 89.1h0M416.5 145.6h0M415 135.8h0M414.9 87.5h0M413.9 134.2h0M416.3 164.3h0M414.7 86h0M414.8 155.3h0M414 139.8h0M414.5 82.3h0M415.4 91.8h0M414.4 119.4h0M416.7 161.2h0M414.3 90.5h0M414.6 164.4h0M414.5 79.6h0M416.8 157.4h0M414.1 75.3h0M415.4 120.2h0M414.6 136.5h0M414.5 135.1h0M414.2 92.9h0M416.7 165h0M415.7 107h0M415.3 128.5h0M414.9 78.5h0M414.9 102.7h0M414.4 110.6h0M416.1 137.1h0M415.8 145h0M414.4 146h0M413.9 88.7h0M417.5 155.6h0M414.2 112h0M415.3 108.7h0M415.5 120.4h0M414.9 76.7h0M415.3 76.7h0M414.9 148.6h0M415.6 88h0M414.5 90.2h0M415.7 94h0M416.4 163.4h0M415.3 138.6h0M414.5 126.2h0M417.2 157.8h0M415.5 119.6h0M416.2 118.4h0M414 99.7h0M415.7 91.1h0M414 136.4h0M414.2 83.9h0M416.5 137.5h0M416.8 140.7h0M415.6 132.1h0M416.6 131.3h0M414.8 118.6h0M414.8 113h0M417.3 150.8h0M415 161.8h0M416 111h0M415.1 105.5h0M414 106.1h0M415.7 93.9h0M413.9 156.7h0M416.6 123.9h0M414.5 113.7h0M414.6 113h0M414.3 166.9h0M415.7 114.7h0M416.1 135.5h0M414.3 117h0M414.1 86.8h0M414.1 78h0M414.9 141.9h0M414.5 127.9h0M414.4 76h0M415.4 103.5h0M415.6 137.5h0M415.1 76.8h0M414.8 138.5h0M415 76.3h0M416 103.2h0M414.2 115.7h0M414 125.8h0M416 154.9h0M416.5 131.3h0M415.2 76.5h0M414.9 107.6h0M414.6 103.9h0M416 160.6h0M414.4 85h0M415.3 91h0M415.5 91.1h0M414.9 129.2h0M416.9 153.8h0M414.9 95.8h0M413.9 164.2h0M414.7 77h0M415.8 148.8h0M415.4 145.6h0M414.3 79.7h0M414.3 105.3h0M414.9 78.6h0M414.6 91.4h0M414.2 150.8h0M417.4 158.1h0M414.7 86.4h0M416.4 127.3h0M414 102.8h0M414.4 122.2h0M415.9 118.4h0M415.1 155.3h0M415.8 103.3h0M416.3 145h0M415 110.5h0M414.2 138.3h0M415.4 112.1h0M415.2 159.3h0M416.1 168.9h0M414.1 108.2h0M415.7 122.2h0M414.8 132.5h0M415.6 88.9h0M415.2 168.6h0M415.9 133.2h0M414.5 100.4h0M414.8 81.9h0M414.9 88.4h0M414.3 114.9h0M416.8 137.5h0M416 132.4h0M414.9 159.7h0M415 157.8h0M415.8 123.3h0M416.9 141.4h0M414.8 87.9h0M415 135.9h0M416.7 135h0M415.3 160.5h0M416.5 158.8h0M414.1 107.6h0M414.8 129.5h0M417.7 162h0M415.4 114.4h0M414.4 105.9h0M416.6 123.4h0M416.6 157.5h0M414.7 136.2h0M415.5 95.1h0M415.7 126.2h0M414.8 150.1h0M415.1 102.3h0M415.1 105.7h0M415.9 115.2h0M415 151.3h0M416.2 126.7h0M416.9 139.6h0M416.7 164.2h0M414.6 148.6h0M415.1 112.6h0M414.8 87.2h0M414.1 110.3h0M416 157.9h0M414.5 132.4h0M414.6 117.2h0M414.1 147.8h0M416.2 123.5h0" stroke="#E8961F" stroke-width="2.3" stroke-linecap="round" fill="none"/>
<polygon points="71.7,391.8 71.7,392.5 71.7,393.5 72.1,395 73.1,397.2 74.4,399.8 76,402.7 77.7,405.8 79.6,409.1 81.6,412.5 83.9,415.9 86.3,419.3 88.7,422.4 91,425 93.4,427.3 95.7,429.4 98,431.3 100.4,432.9 102.7,434.3 105,435.4 107.3,436.1 109.7,436.8 112.4,437.4 115.2,437.8 118.1,438.1 120.9,438.3 123.8,438.3 126.6,438.2 129.5,438 132.5,437.8 135,437.5 136.6,437.4 137.8,437.3 140,436.9 144,435.9 149,434.6 154,433.2 158.7,431.7 163.4,430.1 168.1,428.4 172.8,426.7 177.4,424.9 182.1,423.1 186.8,421.4 191.4,419.8 196.1,418.2 201,416.5 205.8,414.8 210.2,413.2 211.4,412.9 212.1,412.8 220,409.7 241.9,401 271.1,389.5 295,380 308.7,374.6 317.2,371.4 322.6,369.3 322.6,404.7 317.2,406.5 308.7,409.4 295,414.7 271.1,424.5 241.9,436.7 220,445.8 212.1,449 211.4,449.2 210.2,449.5 205.8,451.1 201,452.8 196.1,454.6 191.4,456.3 186.8,458.1 182.1,459.8 177.4,461.6 172.8,463.3 168.1,464.9 163.3,466.3 158.5,467.6 154,468.7 149.8,469.6 145.8,470.3 142,470.9 138.5,471.4 135.3,471.9 132.2,472.2 129.2,472.4 126.5,472.6 123.8,472.6 121.3,472.5 119,472.3 116.7,471.9 114.4,471.4 112,470.9 109.7,470.1 107.4,469.1 105.1,468 102.7,466.6 100.1,464.9 97.4,462.9 95,461 93.2,459.4 91.6,457.9 90.1,456.1 88.5,454 86.8,451.7 85.2,449 83.5,445.8 81.8,442.1 80.2,438.5 78.7,435.1 77.4,431.7 76,428 74.4,423.2 72.8,418 71.7,414.4" fill="#F9EC8E"/>
<polygon points="71.7,398.6 72.8,401.1 74.3,404.7 76,408.3 77.7,411.6 79.6,414.9 81.6,418.2 83.9,421.6 86.3,424.9 88.7,428 91,430.6 93.4,432.9 95.7,435 98,436.9 100.4,438.5 102.7,439.9 105,441 107.3,441.9 109.7,442.7 112.4,443.3 115.2,443.8 118.1,444.1 120.9,444.2 123.8,444.2 126.6,444.1 129.5,443.9 132.5,443.7 135,443.4 136.6,443.3 137.8,443.2 140,442.8 144,441.7 149,440.3 154,438.8 158.7,437.3 163.4,435.6 168.1,434 172.8,432.5 177.4,430.9 182.1,429.4 186.8,427.8 191.4,426.1 196.1,424.5 201,422.8 205.8,421.1 210.2,419.6 211.4,419.3 212.1,419.2 220,416.1 241.9,407.3 271.1,395.4 295,385.8 308.7,380.4 317.2,377.1 322.6,375.1 322.6,395.3 317.2,396.9 308.7,399.6 295,404.7 271.1,414.5 241.9,426.6 220,435.7 212.1,438.8 211.4,438.9 210.2,439.2 205.8,440.8 201,442.6 196.1,444.4 191.4,446.2 186.8,448 182.1,449.7 177.4,451.4 172.8,453 168.1,454.6 163.3,456.1 158.5,457.6 154,458.9 149.6,460.1 145.3,461.1 142,461.9 140.2,462.3 139.2,462.6 137.8,462.8 135.3,463.2 132.3,463.6 129.4,463.9 126.9,464.1 124.6,464.2 122.4,464.3 120.5,464.3 118.6,464.3 116.7,464.1 114.5,463.8 112.1,463.3 109.7,462.6 107.4,461.8 105.1,460.8 102.7,459.6 100.1,458.1 97.4,456.3 95,454.6 93.2,453.2 91.6,451.9 90.1,450.4 88.5,448.6 86.8,446.5 85.2,444.1 83.5,441.3 81.8,438.2 80.2,435 78.7,431.8 77.4,428.6 76,425.2 74.4,421.3 72.8,417.2 71.7,414.4" fill="#D2FBC8"/>
<polyline points="71.7,409.5 72.8,412.3 74.4,416.4 76,420.3 77.4,423.6 78.7,426.8 80.2,430.1 81.8,433.7 83.5,437.3 85.2,440.6 86.8,443.3 88.5,445.5 90.1,447.6 91.6,449.5 93.2,451.1 95,452.8 97.4,454.7 100.1,456.5 102.7,458.2 105.1,459.6 107.4,460.7 109.7,461.7 112.1,462.5 114.5,463 116.7,463.4 118.8,463.6 120.7,463.6 122.4,463.5 123.9,463.4 125.2,463.1 126.6,462.6 128.4,461.8 130.3,460.7 132.2,459.6 134.1,458.5 136,457.5 137.8,456.5 139,455.9 140.1,455.4 142,454.5 145.3,453 149.6,451 154,449 158.5,446.9 163.3,444.8 168.1,442.7 172.8,440.7 177.4,438.7 182.1,436.8 186.8,434.9 191.4,433.1 196.1,431.3 201,429.3 205.8,427.4 210.2,425.6 211.4,425.1 212.1,424.9 220,421.7 241.9,412.8 271.1,401 295,391.4 308.7,386.1 317.2,383 322.6,381" fill="none" stroke="#111" stroke-width="1.15" stroke-linejoin="round"/>
<polyline points="67.8,442.6 68.7,448.6 70.4,457.2 73.2,467.7 76.6,478.5 80.2,487.3 84.2,494.8 88.6,500.9 93,505.4 96.8,507.6 100.5,508.7 103.6,509.9 108,510.4 116.3,509.5 125.6,508.2 133.3,507.4 140.7,506.4 148.2,504.8 155.8,502.9 163.2,501.4 172.1,499.1 185.2,495.1 200,490 215,484.2 230,478 243.5,472.1 257.4,466.1 273.5,459.6 290,453 307.4,445.9 320.8,440.5" fill="none" stroke="#A0522D" stroke-width="1.6" stroke-linejoin="round"/>
<rect x="67.6" y="295.5" width="254.9" height="233.5" fill="none" stroke="#646464" stroke-width="0.95"/>
<path d="M67.6 529v2.2M67.6 295.5v-2.2M71.8 529v2.2M71.8 295.5v-2.2M100.4 529v2.2M100.4 295.5v-2.2M114.8 529v2.2M114.8 295.5v-2.2M125.1 529v2.2M125.1 295.5v-2.2M133.1 529v2.2M133.1 295.5v-2.2M139.6 529v2.2M139.6 295.5v-2.2M145.1 529v2.2M145.1 295.5v-2.2M149.9 529v2.2M149.9 295.5v-2.2M154.1 529v2.2M154.1 295.5v-2.2M182.7 529v2.2M182.7 295.5v-2.2M197.2 529v2.2M197.2 295.5v-2.2M207.4 529v2.2M207.4 295.5v-2.2M215.4 529v2.2M215.4 295.5v-2.2M221.9 529v2.2M221.9 295.5v-2.2M227.4 529v2.2M227.4 295.5v-2.2M232.2 529v2.2M232.2 295.5v-2.2M236.4 529v2.2M236.4 295.5v-2.2M265 529v2.2M265 295.5v-2.2M279.5 529v2.2M279.5 295.5v-2.2M289.7 529v2.2M289.7 295.5v-2.2M297.7 529v2.2M297.7 295.5v-2.2M304.2 529v2.2M304.2 295.5v-2.2M309.8 529v2.2M309.8 295.5v-2.2M314.5 529v2.2M314.5 295.5v-2.2M318.7 529v2.2M318.7 295.5v-2.2M71.8 529v2.2M71.8 295.5v-2.2" stroke="#505050" stroke-width="0.6" fill="none"/>
<path d="M75.6 529v4.4M75.6 295.5v-4.4M157.9 529v4.4M157.9 295.5v-4.4M240.2 529v4.4M240.2 295.5v-4.4M322.5 529v4.4M322.5 295.5v-4.4" stroke="#505050" stroke-width="0.7" fill="none"/>
<path d="M67.6 519h-2.2M322.5 519h2.2M67.6 513.1h-2.2M322.5 513.1h2.2M67.6 508.9h-2.2M322.5 508.9h2.2M67.6 505.7h-2.2M322.5 505.7h2.2M67.6 503h-2.2M322.5 503h2.2M67.6 500.8h-2.2M322.5 500.8h2.2M67.6 498.9h-2.2M322.5 498.9h2.2M67.6 497.2h-2.2M322.5 497.2h2.2M67.6 485.6h-2.2M322.5 485.6h2.2M67.6 479.7h-2.2M322.5 479.7h2.2M67.6 475.6h-2.2M322.5 475.6h2.2M67.6 472.3h-2.2M322.5 472.3h2.2M67.6 469.7h-2.2M322.5 469.7h2.2M67.6 467.5h-2.2M322.5 467.5h2.2M67.6 465.5h-2.2M322.5 465.5h2.2M67.6 463.8h-2.2M322.5 463.8h2.2M67.6 452.2h-2.2M322.5 452.2h2.2M67.6 446.4h-2.2M322.5 446.4h2.2M67.6 442.2h-2.2M322.5 442.2h2.2M67.6 439h-2.2M322.5 439h2.2M67.6 436.3h-2.2M322.5 436.3h2.2M67.6 434.1h-2.2M322.5 434.1h2.2M67.6 432.2h-2.2M322.5 432.2h2.2M67.6 430.5h-2.2M322.5 430.5h2.2M67.6 418.9h-2.2M322.5 418.9h2.2M67.6 413h-2.2M322.5 413h2.2M67.6 408.8h-2.2M322.5 408.8h2.2M67.6 405.6h-2.2M322.5 405.6h2.2M67.6 403h-2.2M322.5 403h2.2M67.6 400.7h-2.2M322.5 400.7h2.2M67.6 398.8h-2.2M322.5 398.8h2.2M67.6 397.1h-2.2M322.5 397.1h2.2M67.6 385.5h-2.2M322.5 385.5h2.2M67.6 379.7h-2.2M322.5 379.7h2.2M67.6 375.5h-2.2M322.5 375.5h2.2M67.6 372.3h-2.2M322.5 372.3h2.2M67.6 369.6h-2.2M322.5 369.6h2.2M67.6 367.4h-2.2M322.5 367.4h2.2M67.6 365.4h-2.2M322.5 365.4h2.2M67.6 363.7h-2.2M322.5 363.7h2.2M67.6 352.2h-2.2M322.5 352.2h2.2M67.6 346.3h-2.2M322.5 346.3h2.2M67.6 342.1h-2.2M322.5 342.1h2.2M67.6 338.9h-2.2M322.5 338.9h2.2M67.6 336.3h-2.2M322.5 336.3h2.2M67.6 334h-2.2M322.5 334h2.2M67.6 332.1h-2.2M322.5 332.1h2.2M67.6 330.4h-2.2M322.5 330.4h2.2M67.6 318.8h-2.2M322.5 318.8h2.2M67.6 312.9h-2.2M322.5 312.9h2.2M67.6 308.8h-2.2M322.5 308.8h2.2M67.6 305.5h-2.2M322.5 305.5h2.2M67.6 302.9h-2.2M322.5 302.9h2.2M67.6 300.7h-2.2M322.5 300.7h2.2M67.6 298.7h-2.2M322.5 298.7h2.2M67.6 297h-2.2M322.5 297h2.2" stroke="#505050" stroke-width="0.5" fill="none"/>
<path d="M67.6 529h-4.4M322.5 529h4.4M67.6 495.6h-4.4M322.5 495.6h4.4M67.6 462.3h-4.4M322.5 462.3h4.4M67.6 428.9h-4.4M322.5 428.9h4.4M67.6 395.6h-4.4M322.5 395.6h4.4M67.6 362.2h-4.4M322.5 362.2h4.4M67.6 328.9h-4.4M322.5 328.9h4.4M67.6 295.5h-4.4M322.5 295.5h4.4" stroke="#505050" stroke-width="0.7" fill="none"/>
<text x="60.3" y="535" text-anchor="end" font-size="12.6" fill="#000" stroke="#000" stroke-width="0.25">10<tspan font-size="10.100000000000001" dy="-5.9">-13</tspan></text>
<text x="60.3" y="501.6" text-anchor="end" font-size="12.6" fill="#000" stroke="#000" stroke-width="0.25">10<tspan font-size="10.100000000000001" dy="-5.9">-12</tspan></text>
<text x="60.3" y="468.3" text-anchor="end" font-size="12.6" fill="#000" stroke="#000" stroke-width="0.25">10<tspan font-size="10.100000000000001" dy="-5.9">-11</tspan></text>
<text x="60.3" y="434.9" text-anchor="end" font-size="12.6" fill="#000" stroke="#000" stroke-width="0.25">10<tspan font-size="10.100000000000001" dy="-5.9">-10</tspan></text>
<text x="60.3" y="401.6" text-anchor="end" font-size="12.6" fill="#000" stroke="#000" stroke-width="0.25">10<tspan font-size="10.100000000000001" dy="-5.9">-9</tspan></text>
<text x="60.3" y="368.2" text-anchor="end" font-size="12.6" fill="#000" stroke="#000" stroke-width="0.25">10<tspan font-size="10.100000000000001" dy="-5.9">-8</tspan></text>
<text x="60.3" y="334.9" text-anchor="end" font-size="12.6" fill="#000" stroke="#000" stroke-width="0.25">10<tspan font-size="10.100000000000001" dy="-5.9">-7</tspan></text>
<text x="60.3" y="301.5" text-anchor="end" font-size="12.6" fill="#000" stroke="#000" stroke-width="0.25">10<tspan font-size="10.100000000000001" dy="-5.9">-6</tspan></text>
<text x="75.9" y="546.8" text-anchor="middle" font-size="12.6" fill="#000" stroke="#000" stroke-width="0.25">10<tspan font-size="10.3" dy="-6.3">1</tspan></text>
<text x="158.2" y="546.8" text-anchor="middle" font-size="12.6" fill="#000" stroke="#000" stroke-width="0.25">10<tspan font-size="10.3" dy="-6.3">2</tspan></text>
<text x="240.5" y="546.8" text-anchor="middle" font-size="12.6" fill="#000" stroke="#000" stroke-width="0.25">10<tspan font-size="10.3" dy="-6.3">3</tspan></text>
<text x="322.8" y="546.8" text-anchor="middle" font-size="12.6" fill="#000" stroke="#000" stroke-width="0.25">10<tspan font-size="10.3" dy="-6.3">4</tspan></text>
<text x="195" y="563.9" text-anchor="middle" font-size="12.6" fill="#000" stroke="#000" stroke-width="0.25">m<tspan font-family='"Liberation Serif", serif' font-size="11.3" dy="3">χ</tspan><tspan dy="-3"> [GeV]</tspan></text>
<text x="0" y="0" text-anchor="middle" font-size="12.6" fill="#000" stroke="#000" stroke-width="0.25" transform="translate(14.3 412.6) rotate(-90)"><tspan font-size="13.5">σ</tspan><tspan font-size="9.8" dy="3">SI</tspan><tspan dy="-3"> [pb]</tspan></text>
<text x="0" y="0" text-anchor="middle" font-size="11.2" fill="#000" stroke="#000" stroke-width="0.25" transform="translate(273.8 413) rotate(-22)">LZ(2022)</text>
<text x="0" y="0" text-anchor="middle" font-size="15.4" fill="#A0522D" stroke="#A0522D" stroke-width="0.25" transform="translate(264 478.5) rotate(-20)"><tspan font-family='"Liberation Serif", serif' font-size="16">ν</tspan> fog</text>
<path d="M143.1 362.5h0M143.2 362.9h0M143.5 361.5h0M143.7 361h0M144.6 360.6h0M144.4 360.8h0M145.8 357.6h0M145.6 357.8h0M147.9 353.7h0M146.9 353.1h0M154 362.9h0M180 360.8h0M164 364.6h0M171.3 363.3h0M177.2 361.1h0M159.4 365.4h0M148.6 353.4h0M157.3 364h0M158.4 365.1h0M161.3 362.2h0M160.5 366.2h0M175.6 362.2h0M150.8 358.5h0M158 365.2h0M181.9 356.8h0M158.5 365.1h0M153 360.6h0M162.9 364.6h0M149.4 354.6h0M155.3 363h0M176.1 361.1h0M185.2 358.9h0M168.4 363.8h0M159.3 364.7h0M151.7 359.6h0M173.2 361.2h0M180.6 358.3h0M183.8 360.2h0M164.9 365.2h0M173.6 362.1h0M150.1 356.8h0M182.9 359.9h0M151.6 359.6h0M167.4 364.8h0M171.3 364.3h0M181.2 360.5h0M163.1 364.3h0M173.5 363.7h0M185.5 360.1h0M157.9 365.3h0M156.5 363.2h0M154 362.3h0M167.4 363.1h0M180.9 360h0M170.9 364.3h0M156.3 366.1h0M152.5 359.3h0M174 361.8h0M154 360.9h0M154.9 363h0M166.5 364h0M172 361.6h0M158.3 364.6h0M185 359.2h0M181.6 361h0M165.6 363.3h0M167.2 363.8h0M153.6 360.9h0M185.5 359.6h0M180.5 359.2h0M158.4 365.1h0M157.1 363.6h0M165.6 366.3h0M156 363.9h0M171.8 361.6h0M151 357.1h0M178.9 361.1h0M156.5 364.1h0M168.7 363h0M169.5 362.2h0M179.9 360.4h0M177.4 360.9h0M173 363.3h0M150.3 357.3h0M149.2 354.4h0M184.4 360.7h0M180.4 360.6h0M180.9 360h0M168.3 363.7h0M150.5 357.6h0M173.4 362.3h0M150.4 359h0M152.9 359.8h0M174.7 361.8h0M149.9 356.6h0M173.9 360.4h0M158.1 364.9h0M168.1 363.6h0M162.2 365.4h0M157.8 365.3h0M159.4 366.7h0M151.8 360.8h0M179.6 360.7h0M170.6 364.2h0M168 363.5h0M181.9 359.4h0M176 362.5h0M155.3 361.6h0M163 362.5h0M168.8 362.2h0M150.3 357.7h0M163.8 363.6h0M153.1 361.5h0M170.9 361h0M170.6 362.4h0M166.5 365.2h0M150.6 356.6h0M166.2 365.6h0M184.9 356.9h0M164 365.5h0M160.4 364h0M176.2 359.6h0M151.1 358.4h0M149.8 355.3h0M149.4 358.1h0M173.8 362h0M151.4 358h0M182.6 360.6h0M175.8 362.6h0M182.7 359.9h0M238.5 361.5h0M218.4 357.4h0M238.2 363.5h0M243.9 377.1h0M199.1 358.9h0M244.1 376.2h0M226.6 359.9h0M244.1 375.2h0M227.3 357.6h0M214.2 357.6h0M228.9 358.5h0M243.1 374.6h0M241.1 366.6h0M242.7 368.7h0M245.4 379.1h0M218.9 357h0M245.9 379.5h0M234.1 358.8h0M235.8 361.7h0M236 361h0M223 356.4h0M228.8 359.1h0M240.7 368.7h0M244.8 377.1h0M236 359.3h0M240.5 366.6h0M213.1 356.9h0M204.9 357.8h0M237.1 359.1h0M225 358.2h0M198.1 357.7h0M245 379.2h0M195.1 359.5h0M243.1 376.5h0M241.3 365.3h0M212.1 357.7h0M197.6 356.7h0M194.1 357.6h0M217.5 358.4h0M237.5 363.8h0M215.4 357.2h0M242.2 369.6h0M192.2 358.1h0M243.2 372.3h0M240.1 369.3h0M208 357.4h0M211.8 356.4h0M224.8 359.5h0M241.8 368.7h0M226.8 357.7h0M199.9 359h0M207.9 356.8h0M199.6 358h0M202.9 356.7h0M196.3 357.4h0M240 362h0M210.1 358h0M241.1 367.4h0M208.5 357.7h0M235.6 359.3h0M234.1 362.6h0M228.1 360.7h0M215.2 358.6h0M211.7 358.4h0M231.8 359.1h0M220.7 358.6h0M229.3 358.6h0M237.1 362.1h0M201.3 357h0M245 381.2h0M223.4 358.5h0M197 358.6h0M201.8 357.8h0M216.6 356.7h0M244 376.7h0M244.5 380.2h0M243.1 372.9h0M243.3 374.7h0M234.8 360h0M192.8 360.5h0M224.3 358.5h0M244 373.8h0M224.6 357.9h0M208.9 359.4h0M230.8 359.3h0M196.7 358.6h0M207.5 357.5h0M201.8 356.1h0M245 383.1h0M212.5 355.5h0M239.7 365.6h0M205.3 358.6h0M197.4 359h0M216.9 358.1h0M239.6 365.8h0M223.2 356.9h0M224.4 358.1h0M222.8 359.1h0M241.1 366.2h0M225.5 358.7h0M226.1 358.3h0M220.9 358.9h0M238.5 365.3h0M201.2 358.1h0M213.8 357.8h0M222.6 359.2h0M224.1 358.6h0M245.2 382.7h0M227.4 358h0M243.3 372.1h0M206.9 357.9h0M230 357.2h0M234.5 360.1h0M241.5 370.8h0M244.9 379.3h0M220.4 357.8h0M223.8 358.6h0M244.4 374.6h0M203.9 357.1h0M196.8 358.4h0M241.7 366.8h0M201.2 358.3h0M218.1 358.2h0M206.5 357.8h0M244.5 379.6h0M236.4 359.4h0M241.7 369.1h0M239.2 363h0M231.6 358.3h0M241.9 368.5h0M226.5 357.8h0M233.2 358.9h0M244.2 373.4h0M229.8 358.7h0M241 370.3h0M223.4 357.6h0M200.9 357.7h0M241.9 371.8h0M244.8 379.5h0M235.7 361.8h0M208.7 357.9h0M217 358.6h0M244.2 382.8h0M207.7 357.9h0M212 358.4h0M208.9 357.3h0M227.6 359h0M204.9 359.5h0M242.8 367.3h0M195.6 358.2h0M244.5 373.8h0M238.2 362.3h0M197.6 358.5h0M218.9 356h0M205.8 358.3h0M209.9 356.7h0M243.7 373.2h0M193.5 360.4h0M215.3 356.8h0M244.6 375.2h0M213.6 356.7h0M212.8 357.7h0M196.7 358.1h0M243.5 370.3h0M214.4 356.6h0M217.9 358.7h0M243.9 381.3h0M200.7 358.5h0M244.7 378.5h0M246 382.1h0M242.3 372h0M219 357.7h0M198.8 358.8h0M243.4 370.5h0M198.6 359.2h0M236.3 361.6h0M221.2 355.8h0M229.8 359.2h0M243.7 372.7h0M239.8 364.3h0M198.4 359.4h0M195.2 358.6h0M238.9 365.3h0M226.5 357.3h0M239.6 364.7h0M223.5 357.9h0M223.9 358.6h0M239.9 365.5h0M245 379h0M211.2 358.2h0M218.2 357.3h0M239.9 364.7h0M243.1 373.8h0M208.9 357.7h0M244 377.1h0M235.7 359.8h0M212.4 356.1h0M209.3 359.2h0M239.2 365.2h0M232.1 357.6h0M243.9 379.8h0M245 381.9h0M209.5 359.1h0M204.4 358.8h0M244 379.8h0M242.3 369.1h0M241.5 370.2h0M244.9 376.7h0M229.7 358.9h0M200.7 357.4h0M239.2 362h0M220.9 357.1h0M199.5 359.5h0M225 358.5h0M226.9 358.7h0M245.6 379.9h0M245.6 381.7h0M243.6 369.9h0M232.9 359.3h0M195.3 359.3h0M195.8 357.7h0M243.3 372.2h0M220.8 358h0M244.3 372.5h0M222.8 359.2h0M228.3 359.7h0M227.4 356.4h0M196.7 359.7h0M235.5 362.5h0M232.9 357.8h0M202.1 357.2h0M202.5 358.5h0M225 357.8h0M243.8 373.7h0M244.1 373.2h0M201.7 358.6h0M234.2 359.5h0M220.9 358.2h0M214.5 358.9h0M244.1 373.8h0M219 358h0M194.2 359.8h0M218.9 359.1h0M240.8 367.2h0M232.7 361h0M244.4 379.5h0M244.5 376.4h0M246.4 378.3h0M226 357.8h0M227.3 358.3h0M245.3 380.5h0M219.1 358h0M244.1 379.6h0M221.7 357.6h0M242.9 374.6h0M202.7 357.6h0M219.5 357.7h0M208.2 357.9h0M234.8 360.1h0M214.9 357.9h0M211 357.9h0M236.7 360.2h0M234.4 360.1h0M242.1 372.2h0M201.8 358.9h0M243.1 371.5h0M244.1 379.4h0M243.5 376.4h0M198.8 358.7h0M224.9 357h0M210.9 356.2h0M229.8 356.2h0M205.9 358.6h0M220.5 358.5h0M199.8 357.9h0M200.4 357.4h0M209.4 357.9h0M244.9 376.6h0M238.2 363.9h0M244 374.9h0M239.9 364.6h0M192 358.4h0M202.5 357.4h0M228.3 358.3h0M243.9 373.2h0M234.1 360.7h0M202 359h0M239.1 365.1h0M234.2 358.9h0M244.9 374.1h0M244.1 372.2h0M244 374h0M206.2 358.3h0M213.5 358.4h0M240.9 365.1h0M243.9 376.2h0M239.8 366.9h0M204.7 358.6h0M203.6 357.7h0M237 362.8h0M226.8 357.1h0M229.5 360.7h0M236.7 360.9h0M230.3 358.1h0M229.6 360.3h0M229.1 359.3h0M227.7 357.4h0M228.1 362.6h0M234.3 360.3h0M236.2 360.2h0M237.9 362.4h0M232.9 359.1h0M228.7 357.7h0M235.5 362.6h0M233.8 359.9h0M229.1 359.6h0M233.1 360.5h0M225.4 358.2h0M233.7 360.7h0M233.4 359.4h0M224 359.4h0M229.5 357.7h0M225 357.6h0M228.3 358.7h0M230.5 359.3h0M234.9 361h0M235.5 360.4h0M227.6 359.6h0M236.6 361.9h0M234.5 361h0M228 358.1h0M227.8 359.6h0M231.4 361.8h0M235.1 359h0M227.6 360.7h0M223.2 358.6h0M232 359.7h0M224.5 356.9h0M229.8 360.6h0M236.3 359.6h0M234.2 360.3h0M225.1 361.2h0M223.9 358.6h0M234.8 359.5h0M230 361.4h0M236.4 360.5h0M231.4 360h0M234.6 360.7h0M235 361.8h0M228.3 358.5h0M225 359.6h0M222.8 359.2h0M230 360h0M234.4 361.8h0M223.7 359.9h0M235.8 360.4h0M226.8 358.8h0M238 361.7h0M224.6 358.9h0M232.1 358.9h0M238.5 363h0M233.1 360.8h0M230 359.2h0M224.7 358.7h0M233.3 360.1h0M225.2 357.8h0M224 358.5h0M234.5 359.4h0M227.9 359h0M231.9 360.6h0M225.1 359.5h0M236.1 362.8h0M231.1 360.4h0M234.5 360.9h0M237.6 362.3h0M231.4 359.9h0M233 360.5h0M233.1 359.1h0M231.3 360.4h0M227.2 359.2h0M236.3 361.5h0M235.2 361.2h0M235 363h0M228.4 357.9h0M231.9 361.6h0M226 361h0M238.3 362.2h0M237.4 362.3h0M232.2 360.6h0M226.3 358.4h0M226.5 359.1h0M233.7 363.1h0M223 358.5h0M233.1 361.8h0M238.2 361.1h0M230.7 360.6h0M228 359h0M226.6 357.4h0M230.8 359.4h0M234 360.8h0M230.7 359.6h0M231.1 358.2h0M235.1 360.9h0M232.3 360.1h0M223.4 358.9h0M225.4 358.2h0M234.6 361.6h0M233 360.6h0M227.4 361.1h0M236.7 361.7h0M238.2 369.2h0M235.5 366.8h0M238.6 366h0M240.8 388.4h0M230.6 361.6h0M229.5 396.5h0M226.3 363.2h0M236 404.6h0M239.3 379.8h0M236.5 368.5h0M236 383.9h0M237.7 364.6h0M240 385.5h0M231.1 404.8h0M242 399.1h0M234.8 377h0M242.2 401.6h0M239.1 381.7h0M234.4 369.6h0M235.7 396.8h0M238 378.5h0M238 362.7h0M236.1 405.5h0M233 378.6h0M231.6 398.9h0M237.6 359.6h0M233.6 390.2h0M240 385.6h0M238.4 366.1h0M238.3 383h0M242.1 401.8h0M236.6 385.6h0M234.5 392.6h0M236.3 368.9h0M236.5 373.1h0M232.9 397.3h0M235 396.1h0M237.7 362h0M239.1 384.2h0M239.7 374.4h0M242.3 401.5h0M226.9 368.2h0M237.4 362.6h0M241.7 394.1h0M240.6 383.2h0M234 361.6h0M233.5 381h0M235.8 373.6h0M234.6 360.5h0M235.8 368.6h0M241.3 399.4h0M224.8 367.5h0M238 380.3h0M233 393.8h0M231.4 372.5h0M231.1 382.7h0M237.3 385.2h0M236.2 386.6h0M241.5 391.8h0M238.2 359.1h0M226.3 374.8h0M240.8 396h0M236.7 359.7h0M234.9 368h0M233.5 359.1h0M228.8 361h0M232.6 365.3h0M235.6 368.8h0M230.1 366.7h0M224.8 360.6h0M238.2 359.7h0M231 384.2h0M232 380.6h0M236.8 394.3h0M238.9 376.6h0M241.4 394h0M230.4 374.4h0M240.7 382.1h0M235.5 376.6h0M236 394h0M236.6 373.5h0M232.2 379.8h0M226.7 375.3h0M240.7 385h0M238.2 361.9h0M231.9 390.9h0M241.8 397.6h0M228.8 365.1h0M232.5 400.9h0M237.8 392.7h0M232.7 394.1h0M234 402.9h0M226.9 383.5h0M231.5 361.9h0M234.1 395.2h0M239.7 401.7h0M235.5 369.8h0M238.6 367.2h0M235.2 364.3h0M237 363.3h0M239.7 374.9h0M238 368.3h0M226.5 364.8h0M241.2 402h0M236.4 359.6h0M237.2 388.6h0M242.5 405.6h0M239.2 371.1h0M238.7 384.2h0M227.9 381.3h0M229.8 365.8h0M238.2 386.4h0M232.7 399.5h0M237.2 359.8h0M235.6 376.9h0M239.3 401.1h0M239.6 373.7h0M237.1 361.6h0M229.3 379h0M238.3 370.5h0M238.6 366.9h0M242.5 404h0M227.4 374.5h0M239.8 379.6h0M235.8 360.6h0M231.3 368.2h0M230.4 367.2h0M242.2 404.2h0M234.7 376.2h0M241.6 395.3h0M238.8 367.9h0M225.5 368.6h0M242.3 400.7h0M225.1 359.8h0M230.4 365.3h0M233 385.9h0M229.9 372h0M232.9 404.3h0M236.8 361.5h0M239.1 392.2h0M237.8 397.3h0M231.7 378.7h0M240 377.7h0M238.9 369.1h0M228.6 366.8h0M227.9 365.9h0M239.3 385.9h0M230.4 377.6h0M235.6 363.8h0M238.1 359.9h0M241.5 392.4h0M239.6 382h0M234.5 376.5h0M230.1 370.5h0M231.9 395.6h0M236.8 362h0M230.7 388.2h0M240.9 392.7h0M241.8 396.5h0M226.8 367h0M239.5 374.9h0M238.7 403.7h0M239.2 371.5h0M238.1 360.3h0M231.8 402.5h0M240.4 383.9h0M227.5 373h0M238 365.8h0M241.4 396.2h0M236.4 360.3h0M238.4 365.1h0M228.1 360.1h0M237.3 388.1h0M227.2 376.9h0M239.6 374.3h0M226.2 367.3h0M237.6 364h0M235.6 393.8h0M233.6 404.1h0M230 368.8h0M226.4 363.3h0M238.1 362.7h0M232 364.7h0M228.8 373.2h0M232.9 374.3h0M225.7 360.7h0M239.4 377.7h0M241.3 389h0M231.6 399.5h0M238.1 402.6h0M231.4 367.2h0M239.7 375.9h0M224.5 366.7h0M238.8 369.3h0M234.9 386.3h0M236 368.8h0M230 361.2h0M224 366.4h0M235.4 360.9h0M240.5 383.2h0M238.5 391.4h0M233.1 364.2h0M232.7 379.9h0M238.6 374.4h0M238.2 362.3h0M224.8 359.8h0M240.1 386.5h0M235.7 361h0M239.1 374.7h0M239.6 386.3h0M136.2 400h0M136.6 404.1h0M183 388h0M185 385h0M192 371h0M190.5 374.5h0M179 369h0" stroke="#0000F0" stroke-width="2.2" stroke-linecap="round" fill="none"/>
<path d="M148.3 352.7h0M147.7 352.8h0M148.6 351.7h0M149.6 351.7h0M209.3 360.4h0M211.4 359.7h0M214.4 358.1h0M210.2 357.9h0M202.9 361.2h0M218.9 356.3h0M203.9 363h0M218.7 359.3h0M217.6 360h0M205.3 361.1h0M211.6 362.1h0M209.1 361.9h0M206.9 361.3h0M214.3 358.4h0M210.4 360.4h0M218.6 359.6h0M210.9 360h0M215.3 355.7h0M220.5 361.3h0M208.2 359.1h0M217.8 361.3h0M218.4 361.6h0M217.3 359.4h0M219.5 359h0M208.2 361.9h0M209.5 359.8h0M211.1 362.4h0M204.6 362h0M208.7 359.4h0M217.5 359.4h0M214.6 359.1h0M218.8 361.9h0M206.7 361.7h0M206 362h0M211.5 360.5h0M207.9 358.8h0M214.7 360.6h0M214.7 363.1h0M213.6 357.2h0M207.4 360h0M212.2 360h0M216.9 360.7h0M207.4 359.2h0M212.3 361h0M222.2 356.4h0M216.9 357.5h0M209.1 361.7h0M209.9 361.7h0M206.1 358.9h0M211.7 359.5h0M214.1 361.8h0M217.8 361.1h0M211.5 360h0M218.3 360.2h0M209.8 360.5h0M218.1 358.5h0M204.6 361.4h0M212.3 357.4h0M209.4 361.7h0M206 360.1h0M220.6 357.8h0M218.2 359.3h0M214.9 359.9h0M214.6 358.2h0M209.9 358.1h0M217.4 359.9h0M210.8 358.6h0M209.5 361.4h0M215.4 358.9h0M217.2 359.3h0M219.8 361h0M213.4 359.4h0M215.5 360.5h0M216.8 358.4h0M209.1 360h0M215.1 360h0M212.5 358.9h0M209.4 359.1h0M215.9 359.4h0M207.4 359.6h0M218.8 359h0M205.8 362.7h0M207.4 359.1h0M217.1 361.3h0M211.1 361.8h0M210.2 379.1h0M208.9 393.8h0M209.9 390.1h0M210.7 366.9h0M211.5 394.2h0M214.1 377.5h0M211.1 392.6h0M212.6 364.8h0M211.5 393.9h0M211.8 396.1h0M214.3 379.8h0M210.2 400.1h0M209.6 391.8h0M213.1 373.8h0M212.4 372h0M213 374.2h0M213.9 362.1h0M211.7 391h0M212.3 375.1h0M213 392.1h0M210.6 393.8h0M211.7 377.1h0M210.7 379.9h0M211.5 399.6h0M210.5 393h0M211.4 381.6h0M208.3 391.8h0M210.8 381.9h0M211.7 365.1h0M208.1 390.1h0M212.7 393.8h0M213 375.5h0M208.7 374.5h0M211.3 377.1h0M214.5 359.5h0M212.9 362h0M213.8 391.7h0M215.6 386.2h0M214.1 370.6h0M212.9 387.6h0M212.1 369.4h0M209.9 390.8h0M212.2 378.1h0M212 370.8h0M210 394.2h0M212.7 379.7h0M211.1 373.2h0M212.1 372.4h0M213 381.7h0M212 383.6h0M213.8 378h0M212.2 393.2h0M212.9 365.6h0M213.8 378.6h0M210.5 369.9h0M177.5 348h0M201 381.5h0M204 385h0M220 371.5h0M157.5 361.5h0M163 362h0" stroke="#80FFFF" stroke-width="2.2" stroke-linecap="round" fill="none"/>
<path d="M147 355.6h0M146.7 356h0M209.8 362.3h0M206.6 365h0M207.4 362.3h0M206.3 362.2h0M204.9 362.5h0M203.4 363h0M205.2 362.9h0M203.8 362.7h0M202.9 365.7h0M207.1 366.1h0M206.6 365.1h0M207 363.3h0M205.4 359.8h0M209.4 363.3h0M207.2 366.7h0M202.8 361.8h0M202.2 361.9h0M203.8 364.2h0M203.5 361.6h0M202.5 361.1h0M204.9 361.1h0M205.4 362.3h0M203.2 361.8h0M206.1 363.4h0M207.8 363.4h0M201.4 360.3h0M203.9 363.2h0M207.8 361.9h0M202.8 362.7h0M204.9 361.4h0M200.6 362.7h0M205.8 364.9h0M203.9 361.6h0M203.3 358.3h0M207.2 362.2h0M208.4 358.8h0M206.5 363.3h0M207.1 360.3h0M205.4 363.4h0M206.3 362h0M206.9 367.6h0M203.8 365.1h0M207.4 361.2h0M203.6 363h0M203.9 363.6h0M205.9 363h0M204.6 362.4h0M207.6 359.9h0M206 359.2h0M210.4 362.2h0M202.5 360.1h0M208.1 363.1h0M205.2 363h0M207.2 361.4h0M206.5 361.9h0M201.2 359.9h0M210.4 365.6h0M205.3 362.3h0M203.7 361.3h0M205.8 363.7h0M204.8 363.2h0M209.8 362.5h0M203.8 361.9h0M206.1 362.5h0M206.6 360.1h0M206.8 360.1h0M207.2 366.4h0M207.5 361.2h0M206.7 359.9h0M208 363.1h0M206.1 361.9h0M201.5 361h0M205.3 359.9h0M207.2 363.6h0M208.8 365.7h0M205.5 361.8h0M202 365.4h0M204.4 363h0M205.9 361.5h0M205.1 361.2h0M209.6 365h0M204.6 361.8h0M204.4 362.6h0M202.7 362.6h0M205.5 362.6h0M205.8 362.7h0M203.2 361.4h0M205.4 361.9h0M205.9 360.7h0M204.3 362.9h0M194.5 384h0M206.7 389.8h0M195.1 403h0M150.5 348h0M173 353h0M178 353h0M173 357h0M187 356h0M199 364h0M202 371h0M205 375h0M206 379h0M196 383.5h0M198 368h0M200.5 370h0" stroke="#78C832" stroke-width="2.2" stroke-linecap="round" fill="none"/>
<path d="M170.4 361h0M179.6 359.6h0M177.2 359.7h0M169.3 359.2h0M179.3 360h0M177.7 359.9h0M177.5 359.4h0M177.1 359.3h0M171.4 360.8h0M168.3 359.3h0M174.9 359.6h0M173.5 360.8h0M170 361.4h0M167.9 361.5h0M167.1 361.6h0M167.4 360h0M171 359.7h0M170.7 361.9h0M174.4 360.6h0M177.7 359.3h0M167.8 360.6h0M168.4 361h0M169.7 359.3h0M178.4 360.1h0M173.5 361.8h0M173.2 360.4h0M166.4 361.8h0M179.8 358.9h0M171.7 360.7h0M166.7 361.1h0M175 360.2h0M167.9 360.6h0M185 367.2h0M178.1 365.2h0M178.7 364.1h0M180.8 367.2h0M181.8 368.3h0M178.8 366.1h0M180.4 365.7h0M178.3 366.4h0M181.3 366.8h0M180.8 366.6h0M178.3 363.2h0M183.9 368.9h0M178.8 365.8h0M179.5 365.6h0M183.6 367.8h0M181.7 369.2h0M180.7 367.7h0M177.4 366.6h0M179.3 366.3h0M178.8 365.7h0M184.4 367.8h0M183.1 368.4h0M187.3 370h0M179.9 367.6h0M181.2 369.4h0M177 363.6h0M184 369.3h0M176.7 365.7h0M177.8 375h0M181.5 374.4h0M185 374.4h0M185.8 383h0M186 379h0M188.5 370.5h0" stroke="#FF00FF" stroke-width="2.2" stroke-linecap="round" fill="none"/>
<path d="M142.1 364.5h0M142.7 364.7h0M143.2 363.5h0M142.6 363.6h0M196.3 365.5h0M193.6 365.3h0M191.6 365.6h0M196.7 365.8h0M195.5 364.8h0M186.4 366.6h0M196.9 364.6h0M189.7 367.3h0M187.7 366.2h0M197.9 362.1h0M188.4 367.2h0M191.3 366h0M198.3 364h0M198 364.3h0M193.7 365h0M190.2 366.7h0M192.4 365.4h0M199.1 364.8h0M194.2 364.8h0M193.7 366.5h0M192.7 365.3h0M188.9 368.1h0M195.6 364.3h0M191.7 366.1h0M192.1 365.7h0M198.9 363.1h0M193.1 366h0M195.6 364.7h0M194.1 364.6h0M192.2 364.9h0M189.5 365.7h0M190.3 364.8h0M189.5 366h0M194.5 365.8h0M191.3 364.8h0M193.3 365.9h0M198.9 364h0M197.7 364.1h0M192.7 366.2h0M187.3 367.6h0M199.7 365.1h0M190.5 365.5h0M198.5 364.6h0M188.9 367.3h0M193.3 365.7h0M194.2 364.5h0M189.2 365.4h0M189.7 365h0M194.9 365.6h0M191.9 365h0M197.6 364.4h0M193.7 366.4h0M187.4 365.4h0M193.2 365.7h0M196 364h0M191.4 366.4h0M189.1 366.1h0M191.2 364.7h0M192.2 366.6h0M189.3 366.9h0M158.7 354.4h0M160.8 356h0M177 358h0M195 372h0M203 374h0M196 376.5h0M188 372h0M192 362.5h0" stroke="#E60000" stroke-width="2.2" stroke-linecap="round" fill="none"/>
<path d="M144.3 359.6h0M144.4 359.2h0M145.2 358.6h0M144.9 358.8h0M146.1 356.6h0M145.6 356.6h0M147.2 354.7h0M146.4 354h0M190.2 366.3h0M187.8 365.6h0M189 367.6h0M188.9 366.6h0M183.5 365.3h0M183.6 367.6h0M184.5 366.8h0M190.3 364.3h0M184.2 365.8h0M186 366.5h0M185.3 367.2h0M185.2 367.1h0M185 366.9h0M181.7 366.3h0M188.8 366.1h0M191.6 364.3h0M186.8 367.2h0M189.2 365.1h0M186.7 365.7h0M181.9 366h0M183.6 369.6h0M186 365.3h0M189.6 366.6h0M188.1 366.5h0M182.5 366.9h0M183 366.5h0M190.5 365.5h0M188.4 365.8h0M182 366.1h0M184.3 365.3h0M185.8 365.9h0M182.9 366.8h0M184.7 365.5h0M189.6 365.7h0M184.2 367.7h0M188.5 367h0M189.9 366.5h0M184.5 365.5h0M189.8 366.5h0M185.1 365.4h0M185.6 366.9h0M189.3 366.3h0M182.8 344.6h0M183.2 355h0M187.5 373h0M186 362h0" stroke="#000000" stroke-width="2.2" stroke-linecap="round" fill="none"/>
<path d="M241.6 390.4h0M243.2 416.2h0M243.5 456.7h0M245 457.1h0M239.8 369.1h0M242.2 378.9h0M240.4 381.7h0M242.1 380.7h0M242.3 443.9h0M243.6 395.4h0M242.8 449.4h0M244.7 456.7h0M244.1 404.2h0M243.7 399.5h0M243.2 415.3h0M242.7 399.6h0M243.4 393.5h0M238.2 365.1h0M241.6 383.1h0M243.7 435.7h0M244 414.8h0M240.8 397.2h0M240.5 386.1h0M243.4 406.4h0M241.3 403.1h0M244.2 448.6h0M241.5 384.1h0M244.3 413.7h0M243.4 434.3h0M239.4 366.4h0M240.4 381.5h0M244.4 433.5h0M244.5 456.8h0M241.2 381.3h0M239.9 373h0M244.2 399h0M244.7 404.9h0M243 397.5h0M241.4 395.8h0M243.6 427.8h0M244.8 400.5h0M245.7 423.1h0M244.6 411.4h0M242 413h0M244.2 407.4h0M241.9 397.1h0M244.6 444.7h0M242.7 434.6h0M242.6 391.7h0M244.9 409.6h0M242.8 401.4h0M245.4 423.3h0M245.2 447.5h0M244.3 445.9h0M244.2 424.6h0M244.6 450.8h0M244.3 436h0M242 421.3h0M240.8 380.8h0M242 395h0M244.3 405.9h0M244.3 419.6h0M239.4 375.5h0M241.5 386.7h0M243.3 421.1h0M240.8 397h0M244.3 413.5h0M241.7 388.5h0M242.6 423.3h0M242.4 423.6h0M243.8 432.3h0M239.2 371.1h0M243 451.2h0M244.1 400.2h0M244.2 396.4h0M245.7 421h0M244.5 432.3h0M245.7 432.9h0M244 399.1h0M242.2 434.4h0M244.2 446.2h0M245.1 450.8h0M243.1 436.5h0M245.6 447.5h0M244.6 412.2h0M242.2 395.1h0M240.7 370.8h0M244.5 433.6h0M243.3 449.4h0M241 373.7h0M244.1 421.2h0M244.8 435h0M242.6 427.8h0M241.4 381.5h0M239.7 385.9h0M242.3 407.9h0M241.9 437.1h0M243.8 412h0M243.7 416.6h0M244.9 410.9h0M244.4 449.8h0M239.2 367.4h0M241.6 377.8h0M244.3 427.7h0M239.6 370.1h0M241.4 415.6h0M242.2 383.2h0M241.3 381h0M243.6 409.8h0M242 387.7h0M239.4 367.2h0M244.5 428h0M242.7 392.6h0M244.6 424.6h0M245.4 445.7h0M241.6 430.4h0M240.6 381.6h0M239.5 374.6h0M241 396.7h0M242.9 440.6h0M244.4 423.4h0M243.9 444.3h0M243.9 419.1h0M240 375.6h0M240.1 381.1h0M242.5 422.6h0M243.5 439.2h0M245 439.8h0M243.3 409.2h0M244.1 389.6h0M243.7 442.5h0M244.4 417.3h0M244.4 456.9h0M244.7 455.6h0M239.8 372.9h0M241.1 407h0M239.8 368h0M241.6 383.5h0M242.4 386.3h0M242.6 442h0M242.4 424.7h0M244.5 438.6h0M243.4 395.8h0M240.4 366.7h0M239.9 378.4h0M245.3 450.2h0M244.7 454.2h0M240 391.9h0M242.1 380h0M243.4 417.7h0M240.2 392.7h0M242.4 378.3h0M244.8 422.6h0M243.7 437.3h0M240.9 396.3h0M242.8 438.4h0M243.7 409.4h0M242.8 432.4h0M243.7 421.4h0M244.6 415h0M238.6 366.6h0M241.5 395h0M238.6 365.1h0M243.2 450.2h0M244.2 406.7h0M241.9 394.1h0M244.2 422.3h0M239.8 378.4h0M240.6 392.2h0M243.8 399.2h0M242.5 383.4h0M241.1 391.2h0M244.8 437.2h0M244.1 451.3h0M245.5 423.3h0M243 401.9h0M245.2 413.5h0M244.3 455.2h0M239.3 374h0M241.7 410h0M244.2 426h0M245.9 432.3h0M245.4 441.9h0M243.9 407.1h0M243.4 391.7h0M242.4 389.3h0M241.1 403.1h0M241.7 383.6h0M241.8 393.4h0M241 390.8h0M244.2 443.3h0M244.5 442.3h0M243.3 417h0M243.3 437.9h0M240.5 378.8h0M239 367.6h0M242 402.2h0M240.2 383.1h0M239.6 375.4h0M242.5 390h0M242.3 423.1h0M238.6 370.7h0M238.4 366.5h0M239.1 374.6h0M242.1 411.8h0M241.2 379.3h0M245.6 417.7h0M244.7 427.9h0M244.7 450.8h0M242.1 434.8h0M244.3 419.3h0M240 368h0M243.3 400.2h0M243.1 391.1h0M244.4 429.4h0M243.6 418.8h0M239.9 380.4h0M245.2 415.9h0M243.5 455.8h0M241.2 398.7h0M244.7 414h0M245.2 453h0M242 398.6h0M245.2 428.7h0M244.2 442.9h0M239.3 376.1h0M245 452.3h0M242.5 395.6h0M240.4 366.1h0M241.5 388.5h0M244.8 455.5h0M242 401.4h0M239.4 375.6h0M242.4 396.2h0M242.5 398.8h0M242.2 396.4h0M241.2 399.7h0M238.7 367.2h0M244.5 451.5h0M245 431.5h0M244.2 395.2h0M245.2 417h0M241.2 406.3h0M240.8 392.8h0M245.7 436.9h0M244.6 411.1h0M242.4 403.1h0M241.2 378h0M243.6 426.7h0M244.6 416h0M245.1 408.2h0M241.1 380.7h0M243.2 396.8h0M241.9 431.3h0M244.4 401.1h0M240.4 383.9h0M241.8 384.6h0M241.5 395.9h0M242.1 412.2h0M242 389.2h0M239.5 367.9h0M240.6 403.7h0M244.7 450.4h0M241.8 397.5h0M241.2 373.8h0M244.2 443h0M240.7 379.3h0M241 417.3h0M245.3 432.3h0M245 444.9h0M243.9 451.9h0M242.2 376.3h0M242.5 396h0M239.2 366h0M243.2 443.2h0M240.7 394.2h0M243.7 433.7h0M241.7 387.8h0M245.2 414.8h0M245.6 434.4h0M239 368.3h0M239.3 369.5h0M242.4 409.1h0M243.5 440.6h0M243.6 439h0M239.8 372.3h0M240.7 381.4h0M241.6 419.5h0M243.3 442.7h0M241.4 380.1h0M245.6 454.9h0M245.2 435.5h0M244.3 407.1h0M244.5 440.2h0M243.9 450.8h0M240.3 370.7h0M244.8 454h0M243.3 388.1h0M245.3 413.7h0M244.1 450.5h0M241.7 398.7h0M239.2 364.2h0M243.4 418h0M243 414.6h0M244.5 404.7h0M243.5 412.3h0M240.2 378h0M238.7 366.9h0M245.2 437h0M242.5 406.3h0M243.8 399.8h0M241.5 385.4h0M239.2 368h0M239.9 368h0M243.2 450.1h0M245 422.9h0M241.7 387.4h0M238.2 367.3h0M245 420.1h0M242.3 394.7h0M244.2 453.7h0M242.7 437.8h0M242.9 414h0M243 399.5h0M244.2 406.5h0M242.1 440.6h0M244 442.2h0M244.9 436.5h0M243.8 444.5h0M244.9 412.9h0M245.4 432.2h0M241.6 421.2h0M245.4 428.7h0M243.8 434.8h0M239.8 374.7h0M239.3 372.1h0M239.1 366.4h0M240 366.6h0M245.7 428.5h0M241.9 419.4h0M243.1 410.7h0M245.4 415.8h0M244 408.3h0M243.5 393.3h0M241.6 400.8h0M242.5 381h0M242.7 433.9h0M244.8 419.7h0M243.3 439.6h0M244 448.4h0M240.4 375h0M239.4 375h0M243.6 440.9h0M241.3 406.6h0M242.7 386.9h0M241.9 385.5h0M242.9 434.5h0M241.9 420.1h0M244.1 421.2h0M243.6 394.7h0M241.1 388.8h0M239.4 375.1h0M244.5 408.7h0M239.6 364.5h0M239 364.5h0M244.9 454.7h0M238.5 365.1h0M243.3 421.3h0M238.5 366.4h0M241.1 413.1h0M243.3 395.1h0M240.9 379.4h0M244 427h0M240.2 374.3h0M244.4 443.6h0M244.5 444.4h0M244.4 455.9h0M245.3 422.4h0M243.1 383.5h0M241.4 382.2h0M242.8 431.2h0M240 372.1h0M239.6 367.7h0M245.3 449.2h0M245.1 409.7h0M239 364.2h0M244.2 427.7h0M240.8 376.3h0M243.1 434.2h0M243.3 394.2h0M240.7 366.9h0M241.5 404.7h0M244.5 433.5h0M244.7 422.4h0M240.7 374.5h0M243.5 410h0M245.9 430.3h0M240.6 377.9h0M245.6 434h0M245.6 434.6h0M239 370.5h0M244 400.1h0M241.1 393.8h0M244.6 441.2h0M243.7 406.3h0M244.2 449.1h0M245.5 416.3h0M244.1 442.7h0M244.1 415h0M243.4 386.7h0M241.5 394.7h0M241.2 403.6h0M242.2 414.9h0M244.3 454.2h0M245.6 411.5h0M241.1 408.2h0M243.8 439.4h0M244.6 408.5h0M239.4 367.1h0M243.9 447h0M240.2 374.9h0M243.5 456.4h0M245.5 416.3h0M240 373.1h0M241.1 372.4h0M244.7 449.7h0M243 409.4h0M242.4 381h0M242.1 410.4h0M245.2 450.2h0M240.5 378.2h0M243.9 447.9h0M245 449.7h0M245.6 441.1h0M244.7 456.7h0M244.2 407h0M244.9 414.5h0M242.7 381.6h0M241.5 391.8h0M244.7 457h0M243.1 449.4h0M239.9 371.5h0M238.7 367h0M245.2 437.5h0M240.5 392.7h0M243.7 429.9h0M244.5 422.6h0M241.8 384.2h0M242 391.5h0M242.2 420.3h0M244.6 436.1h0M239.2 372h0M241 402.1h0M240.5 368h0M243.8 405.2h0M241 387.2h0M245.5 431.7h0M242.5 405.5h0M240.9 375.4h0M240.1 386.5h0M243.4 438.8h0M243.7 414.7h0M243.3 395.3h0M242.3 423.1h0M243.7 452.9h0M241.8 378.3h0M241.5 380.3h0M244 454.3h0M242.1 424.8h0M243.9 431.7h0M240.5 394h0M239.8 367.7h0M242.1 425.7h0M241.9 399.4h0M243.4 412.5h0M244.2 456.3h0M239.1 374.5h0M244 432.8h0M239.4 368.9h0M239.7 375.3h0M245.3 425h0M239.9 367.4h0M243.9 454.1h0M243.2 400.2h0M239.5 366h0M240.5 376.9h0M242.2 395.9h0M238.7 370.6h0M240.7 377.2h0M239.9 380.1h0M240.5 377h0M243.5 410.4h0M244.1 402.8h0M244.2 445.6h0M241.4 373.9h0M243.9 392.6h0M238.7 366.4h0M244.2 402.8h0M239.7 368.9h0M243.7 406.2h0M240.5 384.2h0M243.6 429h0M243.4 434.8h0M241 402.9h0M242.8 395.4h0M244.9 403.1h0M244.8 455.2h0M244.6 455.8h0M244.3 433h0M245.2 435.3h0M241.7 387h0M241.6 399.7h0M245.6 412.2h0M239.3 365.7h0M242.4 404.5h0M239.8 376.1h0M243.8 452.3h0M244.4 412.3h0M244.9 404.9h0M240.8 383.4h0M242.2 412.2h0M238.2 370.6h0M240 380.1h0M242.2 428.4h0M239.8 376h0M238.6 369h0M239.6 366.8h0M243.3 440h0M242.1 394.2h0M241.1 385.4h0M244.9 429.8h0M245.8 439.9h0M244.9 399.7h0M244 416.2h0M243.4 440.2h0M242.3 410.6h0M245.6 434.7h0M243.7 441.1h0M243.3 404h0M243.3 417h0M243.9 391.9h0M241.3 415.7h0M242.1 437.3h0M241.3 377.5h0M242.1 380.1h0M244 437.8h0M245.3 412.7h0M243.7 406.6h0M239.6 370.3h0M239.9 368.2h0M243.8 421.5h0M244.5 399.6h0M240.3 379.2h0M244.2 402.8h0M239.4 370.1h0M238.8 364.5h0M243.2 417.6h0M241.2 402.5h0M244.8 426.7h0M245 432.4h0M242.8 391.4h0M241.6 394.5h0M241.8 412.3h0M242.8 434.7h0M242.7 432.9h0M242.8 391.1h0M244.6 438.2h0M243.2 400.5h0M243.2 389.7h0M243 408.9h0M241.5 379.2h0M239.3 366.7h0M239.7 382.4h0M241.1 375.6h0M244.7 408h0M241.9 424.8h0M244.9 426.5h0M239.7 369.4h0M244 441.8h0M245.4 419h0M242.9 436.5h0M246.4 437.6h0M244.3 415.9h0M241 398.3h0M241.1 400.4h0M240 380.5h0M242.3 407.3h0M243.6 453.5h0M240.2 368.6h0M242.1 416.9h0M243.1 427.5h0M242.9 438.7h0M241.9 390.8h0M241.2 381.2h0M243.9 408.5h0M245.6 409.5h0M245.1 410.3h0M244.5 452.9h0M240.1 373.9h0M244.4 433.5h0M244.2 430.8h0M242.1 428.9h0M243.6 454.9h0M244.2 414.9h0M243.8 405.5h0M242.3 378.4h0M243.3 397.6h0M243.3 441h0M239.9 367.3h0M242.7 439.7h0M243.2 411.4h0M244.8 421.1h0M241.1 399.7h0M245.1 440.6h0M240.4 379.4h0M243.7 445.7h0M244.5 444.5h0M242 384.6h0M241.9 399.5h0M243.5 401.1h0M245.7 448.5h0M242.2 381.7h0M241.5 397.1h0M243.4 432.5h0M243.9 455.9h0M240.3 371.2h0M239.1 369.9h0M242.4 431.3h0M243.2 446.3h0M240.4 364.9h0M241.3 393.3h0M243.9 421.4h0M242.2 399.3h0M243 394.8h0M241.7 389.4h0M241.3 408.2h0M242.8 416h0M245.5 428.9h0M242.9 393.9h0M242.8 415.8h0M240 394.8h0M243.9 437.6h0M240.9 371.8h0M238.4 367.9h0M242.2 419.9h0M242.1 410.3h0M242.4 383.5h0M241.8 388h0M239.6 385.1h0M241.1 379.4h0M241.9 429.5h0M244.9 401.8h0M245.1 446.9h0M242.6 382.3h0M242.6 412.9h0M243.9 419.9h0M240.6 376.4h0M244.9 454.1h0M243.5 416.2h0M244.9 411.2h0M239.5 376h0M243.2 385.4h0M244.8 456h0M242.2 430.9h0M241.5 406.5h0M240.9 394.9h0M243 404.9h0M244.2 409.1h0M244.6 403h0M245.5 442.5h0M245.3 424.1h0M244.5 438.6h0M243 409h0M243 449.1h0M244.9 404.4h0M245.7 419h0M238.8 367h0M244.3 448.7h0M242.6 421.1h0M242.5 404.4h0M243.7 445.4h0M240 383.2h0M244 452.3h0M242.9 427.6h0M241.9 413.8h0M241.6 389.6h0M245.2 449.4h0M245.7 442.1h0M240.1 395.6h0M239.7 377.4h0M243.9 414.6h0M243.3 445h0M244.4 456.7h0M244.2 431.5h0M244.5 455.6h0M244.9 407h0M242.6 383.6h0M245 405.9h0M239.6 368.9h0M244.1 453h0M244 444.2h0M244.5 405.9h0M242.2 413.2h0M242.6 384h0M242.6 387.1h0M244.8 400h0M243.3 434.4h0M243.3 425.6h0M244.7 455.9h0M243.3 442.8h0M241.7 396.1h0M238.3 367.3h0M239.2 370.8h0M243.8 408.7h0M243.7 438.9h0M239.2 380.1h0M241.1 374.6h0M243.8 448.5h0M241.7 405.1h0M244.3 417.1h0M246 441.5h0M242.3 381.2h0M243.6 404.3h0M244.6 430.3h0M241.9 382h0M242.4 392.9h0M241.2 385.4h0M243.4 455.8h0M245.1 446.5h0M240.7 369.9h0M244 395.6h0M245.4 452.3h0M242.6 411h0M242.9 442.1h0M242.8 403.8h0M244.2 398.1h0M245.5 426.1h0M243.2 453.7h0M241.6 400.4h0M244.1 404h0M243.5 433.9h0M242.1 404.1h0M244.8 446.4h0M242 400.1h0M238.4 364.9h0M243.5 454.8h0M240.4 385.5h0M239.9 377.1h0M241.7 382.4h0M241.5 383.5h0M243.6 397.5h0M241.1 376.2h0M243.7 411.5h0M238.9 367.4h0M241.6 417.6h0M244.5 450.4h0M241.2 406.4h0M240.8 399.3h0M242.2 442.2h0M240.8 377.2h0M242.7 390.4h0M244.4 455.6h0M241.8 387h0M243.1 414.1h0M243.7 394.2h0M242 419.5h0M242.9 390.7h0M241.5 418h0M243.4 389.2h0M242.5 382.6h0M241.5 391.2h0M243.1 422.5h0M244.8 447.6h0M243.7 391.8h0M241 387h0M240.3 373h0M244 450.8h0M241.2 388.7h0M244.6 442.5h0M240 371.1h0M242.9 422.6h0M237.8 365.7h0M243.9 412.1h0M245.1 454.4h0M245.1 429.9h0M242.7 428.9h0M242.8 381.6h0M244.6 455h0M238.9 369h0M242 400.1h0M242.5 383.6h0M242.7 389.4h0M241.6 398.8h0M240.9 398.2h0M241.1 372.5h0M241.9 400h0M242.6 399.6h0M242.2 404.4h0M244 411.6h0M245.5 445.9h0M242.9 446h0M241.1 398.8h0M240 367.6h0M243 388h0M245.3 450.9h0M242.5 415.5h0M241.1 392h0M244.8 449.9h0M244.4 437.2h0M243.6 396.8h0M239.4 365h0M240.7 384.1h0M243 433.1h0M240.2 377.1h0M241.6 395.7h0M242.5 388.6h0M240 380.2h0M242.2 436.7h0M242.9 414.7h0M238.4 366.4h0M243.3 443.4h0M244.5 439.2h0M245.9 442.2h0M243.2 414.8h0M244.9 424.6h0M240.7 379.1h0M242.7 420.9h0M242.3 399.9h0M245.6 437.4h0M242.5 399.9h0M245 452.2h0M242.4 434.5h0M240.5 371.4h0M239 368.5h0M245.4 436.4h0M243.4 408.4h0M239 370.7h0M241.2 402.5h0M242.3 407.9h0M243 390.6h0M241.9 418.2h0M244.8 456.9h0M244.1 439.9h0M241.8 423.6h0M241.1 376h0M240 370.6h0M239.2 379.2h0M241.8 382.7h0M244.9 450.8h0M240.6 393.5h0M239.9 377.6h0M242.7 434.9h0M244.9 455.3h0M240.5 394.4h0M245.1 406.6h0M243.6 420h0M243.4 400.3h0M244.1 416.7h0M242.2 392.8h0M243.6 443.1h0M241.9 387.7h0M242.8 412.1h0M238.6 368.8h0M238.2 366.5h0M243 398.8h0M243 441.7h0M244.4 436h0M239.8 377h0M242.7 403.9h0M242 400.5h0M245.3 430.1h0M241.7 375.8h0M239.8 370.4h0M243.9 414h0M243.5 404.6h0M242.6 422.2h0M244.6 457.2h0M245.2 420.3h0M240.4 397.8h0M238.6 370.4h0M243.1 447.1h0M242.2 394.2h0M243.2 447.6h0M244.6 427h0M242 390.7h0M242 379.9h0M242.2 387.8h0M244.3 446.9h0M244 425.2h0M243.4 455h0M242.7 385.8h0M244 451.5h0M240.3 364.7h0M242.2 422.8h0M240.1 372.5h0M243.7 415.5h0M241.6 380.6h0M243.4 428.8h0M243.1 426h0M242.1 436.7h0M244.7 415.5h0M239.1 367.8h0M239.4 375.5h0M242 406.7h0M242.1 418.7h0M239.1 372.3h0M240 368.1h0M243.2 436h0M245.5 414.2h0M240.5 377.3h0M242.4 408.3h0M245.8 427.8h0M242.8 438.5h0M238.9 369.9h0M242.7 410.1h0M244 431.8h0M240.1 371h0M243.2 446.5h0M243.1 414.5h0M243.5 411.8h0M240.7 387.1h0M240.8 376.8h0M240.6 392.1h0M242.4 423.7h0M240.3 385.9h0M242.1 411.3h0M244.9 424h0M242.8 406.5h0M239.4 378.7h0M240.5 381h0M245.3 424.6h0M242.8 444.6h0M243.4 398.6h0M243 392.1h0M240.9 381.5h0M243.6 436.1h0M243.4 389.1h0M244.3 422.5h0M242 429.7h0M242.6 395.3h0M241.9 395.1h0M240.4 372.1h0M244.3 420.2h0M242.5 384.9h0M242.3 383.6h0M244 448.2h0M240.2 381.8h0M242.1 410.1h0M240.4 372.3h0M241.1 402.2h0M243.2 444.6h0M242 413h0M244.9 448.6h0M243.6 419.9h0M239.5 368h0M245.1 451.9h0M244.5 436.6h0M242.6 395.8h0M245.7 449h0M241.6 381.1h0M243.8 450.5h0M241.9 421.4h0M244.2 401.1h0M244.7 441.3h0M243.1 450.1h0M239.9 372.4h0M242.3 433.9h0M243 445.6h0M241.5 387.3h0M241.2 413.1h0M242.8 391.7h0M245.7 436.6h0M243.7 389.6h0M239.2 364.9h0M243.9 394.7h0M245.3 402.7h0M241.7 395.6h0M244.6 450.5h0M241.9 401h0M245.1 404.9h0M244.5 441.5h0M243 435.2h0M240.7 378h0M243.4 398.1h0M243.2 437.3h0M242.5 405.6h0M244.8 428.8h0M240.8 397.8h0M242 423.6h0M240.9 377.7h0M238.2 364.6h0M243 418.7h0M241.2 386.6h0M242.6 429.6h0M242.1 435.1h0M239.7 366.1h0M242.8 417.3h0M244.8 432.2h0M245.1 452.9h0M241.8 410.2h0M243.5 393.3h0M243.5 441.5h0M242.7 401.4h0M238.9 372.8h0M243.9 440.6h0M245.1 453.3h0M240.4 376.2h0M241.1 372.8h0M239.7 384.4h0M240.1 379.8h0M239.6 375.4h0M245.3 445h0M242.4 395.8h0M244.8 450.6h0M243.7 424.1h0M243.5 434.4h0M243.4 408.4h0M243.9 408.1h0M244.1 435.2h0M245.5 427.1h0M243.8 415.5h0M244.5 447.6h0M241.3 377.5h0M245.4 450.7h0M244.4 420.2h0M240.5 372.1h0M241 373.1h0M242.8 385.7h0M243.3 444.7h0M242.2 434.6h0M242.5 403.4h0M243.2 439.4h0M241.2 395.7h0M242.5 392.5h0M245.3 442.1h0M242.5 387.5h0M245 416.5h0M239 365.2h0M239.2 369.7h0M245.3 415.5h0M242.7 424.8h0M239.3 371.6h0M243.3 453h0M243.5 390.3h0M243.7 436.8h0M238.8 365.3h0M242.6 423.3h0M239.5 365.9h0M244 437.7h0M242.8 437.6h0M245.2 450.3h0M245.2 441.8h0M239.6 377.9h0M243.9 442.1h0M242.4 382.6h0M243.4 394.2h0M243.2 396.3h0M241.8 396.6h0M242.1 413.5h0M242.6 412h0M242.7 429h0M243.3 445.4h0M245 455.4h0M239.8 389.9h0M240.9 394.4h0M239.8 370h0M243.3 383.9h0M243.9 412.1h0M245.1 419.8h0M241.9 426.6h0M244.1 446.6h0M243.4 450.9h0M244 449.7h0M245.1 431h0M239.5 374.7h0M242.9 386.4h0M239.5 369.3h0M240.3 374.1h0M245.1 413.3h0M242.5 409.1h0M241.6 389.2h0M241.4 392.4h0M242 400.6h0M244.9 398.3h0M244.6 431h0M243.5 389.5h0M241.6 399.5h0M244.7 453.1h0M240.1 373.8h0M243 414.7h0M244.1 417.9h0M244.2 438.6h0M241.5 417.3h0M242.1 387.6h0M245.8 425.8h0M244.3 441.7h0M243.1 389.5h0M242.7 437h0M243.3 413.7h0M241.1 407.7h0M246.5 368h0M249 394h0M246.8 380h0M238.5 430h0M240 418h0M247 409h0" stroke="#E8961F" stroke-width="2.2" stroke-linecap="round" fill="none"/>
<polygon points="417.7,338.5 418.6,340.3 419.9,343 421.2,345.8 422.6,348.8 424.1,352 425.4,354.8 426.4,357 427.1,358.8 428,360.5 429,362.1 430,363.5 431.2,365 432.5,366.6 434,368.3 435.5,370 437.2,371.6 439,373.2 440.8,374.6 442.5,375.8 444.3,376.9 446.1,378 448,379.1 450,380.1 452.1,381 454.4,381.8 456.7,382.6 459.1,383.2 461.4,383.6 463.8,383.9 466.1,384.1 468.5,384.2 470.8,384.2 473.2,384.1 475.6,384 478,383.8 480.2,383.6 481.8,383.4 483.2,383.2 485,382.9 487.5,382.6 490.5,382.2 494,381.6 498.6,380.6 503.7,379.3 508.1,378.2 510.9,377.5 513,377 515,376.4 517,375.7 518.9,374.9 522.1,373.6 527.6,371.5 534.2,368.9 540,366.8 542.8,366.2 544.7,366.1 550,364.5 561.5,360.1 576.3,354.1 590,348.6 599.9,344.7 608.7,341.2 620,336.7 638,329.6 658.5,321.6 673.1,315.8 673.1,350.6 658.5,356.1 638,363.9 620,370.8 608.7,375.3 599.9,378.8 590,382.8 576.6,388.1 562.1,393.8 550,398.5 542.2,401.4 536.8,403.2 531.6,405 525.5,407.2 519.6,409.3 515,410.9 512.9,411.5 512.1,411.6 510.6,411.9 507.5,412.8 503.7,413.9 500,414.9 496.3,415.8 492.6,416.6 489.6,417.3 487.7,417.7 486.4,417.9 485,418.1 483.3,418.2 481.4,418.2 479,418.2 475.8,418.1 472,418 468.5,417.7 465.3,417.2 462.3,416.6 459.8,416 457.9,415.6 456.4,415.2 455,414.8 453.7,414.3 452.5,413.8 451.3,413.2 449.9,412.6 448.5,411.9 447.1,411.2 445.7,410.4 444.3,409.5 442.9,408.6 441.5,407.6 440,406.6 438.7,405.5 437.6,404.5 436.6,403.4 435.5,402.1 434.1,400.5 432.7,398.6 431.3,396.8 430.2,395.1 429.2,393.4 428.2,391.6 427.2,389.7 426.1,387.6 425,385 423.8,381.8 422.5,378.1 421.2,374.3 419.9,370.2 418.6,366 417.7,363.1" fill="#F9EC8E"/>
<polygon points="417.7,345.5 418.6,347.2 419.9,349.7 421.2,352.5 422.5,355.5 423.8,358.8 425.2,361.8 426.8,364.3 428.6,366.5 430.3,368.6 432,370.6 433.8,372.4 435.5,374.2 437.3,375.9 439,377.4 440.8,378.9 442.6,380.2 444.3,381.5 446.1,382.6 447.7,383.6 449.4,384.4 451.3,385.3 453.7,386.4 456.5,387.6 459.1,388.5 461.5,389.1 463.8,389.5 466.1,389.7 468.5,389.8 470.8,389.8 473.2,389.7 475.6,389.6 478,389.4 480.2,389.2 481.8,389.1 483.2,388.9 485,388.7 487.5,388.4 490.5,388 494,387.4 498.6,386.3 503.7,385 508.1,383.8 510.9,383.1 513,382.6 515,382 517,381.3 518.9,380.5 522.1,379.2 527.6,376.8 534.2,373.9 540,371.5 542.8,370.5 544.7,369.9 550,368 561.5,363.5 576.3,357.6 590,352.2 599.9,348.2 608.7,344.7 620,340.2 638,333.2 658.5,325.2 673.1,319.5 673.1,343.2 658.5,348.7 638,356.4 620,363.2 608.7,367.6 599.9,371.2 590,375 576.4,380 561.8,385.3 550,389.6 543.3,392 539.6,393.4 536.1,394.8 532.1,396.5 528.3,398.1 524.6,399.6 521,401 517.6,402.4 514.1,403.6 510.6,404.7 507.1,405.7 503.6,406.6 500.1,407.5 496.5,408.2 493,408.9 489.5,409.4 485.9,409.8 482.6,410.1 479.5,410.4 476.7,410.5 473.8,410.5 470.7,410.2 467.7,409.7 465,409.3 463,409 461.4,408.7 459.8,408.4 458.1,408 456.5,407.5 455,407 453.7,406.6 452.5,406.2 451.3,405.8 449.9,405.2 448.5,404.6 447.1,403.9 445.7,403.2 444.3,402.4 442.9,401.6 441.5,400.7 440,399.7 438.7,398.7 437.6,397.7 436.6,396.7 435.5,395.5 434.1,394 432.7,392.3 431.3,390.6 430.2,388.9 429.2,387.3 428.2,385.5 427.2,383.7 426.1,381.9 425,379.8 423.8,377.2 422.5,374.4 421.2,371.5 419.9,368.4 418.6,365.3 417.7,363.1" fill="#D2FBC8"/>
<polyline points="417.7,357.2 418.6,359.3 419.9,362.3 421.2,365.5 422.5,368.8 423.9,372.2 425.2,375.2 426.3,377.5 427.2,379.3 428.2,381.1 429.2,383 430.2,384.9 431.3,386.8 432.7,388.8 434.1,390.8 435.5,392.6 436.6,394 437.6,395.2 438.7,396.4 440,397.6 441.5,398.7 442.9,399.7 444.3,400.6 445.6,401.5 447.1,402.3 448.7,403.1 450.3,403.9 452.1,404.7 454,405.4 456,406.1 458,406.7 459.9,407.3 461.7,407.7 463.3,408 464.5,408 465.5,407.8 466.5,407.3 467.7,406.6 468.9,405.6 470.4,404.6 472.1,403.5 474,402.4 476,401.2 478.2,400 480.6,398.8 483,397.7 485.2,396.8 487.4,395.9 490,394.9 493.2,393.5 496.7,391.8 500,390.3 502.9,389 505.6,387.9 508.1,386.9 510.5,386.1 512.7,385.4 515,384.6 517.1,383.8 519.2,382.9 522.1,381.8 526.3,380.2 531.2,378.3 536.1,376.5 539.8,375.3 543.4,374.2 550,371.8 561.8,367.2 576.4,361.4 590,356 599.9,352.1 608.7,348.5 620,344 638,336.9 658.5,328.7 673.1,322.9" fill="none" stroke="#111" stroke-width="1.15" stroke-linejoin="round"/>
<polyline points="414.1,390.6 415.1,391.8 416.6,393.4 418.4,395.2 420.5,397 422.9,398.9 425,400.5 426.6,401.8 427.9,402.8 429.2,403.7 430.6,404.6 432,405.4 433.4,406.1 434.8,406.8 436.2,407.4 437.6,407.9 439,408.4 440.4,408.8 441.8,409.2 443.2,409.6 444.6,409.9 446.1,410.2 447.8,410.5 449.5,410.8 451.3,411.1 452.8,411.3 454.4,411.4 456.3,411.5 458.9,411.6 462,411.6 465,411.6 467.9,411.6 470.9,411.5 473.8,411.4 476.7,411.2 479.7,410.9 482.6,410.6 485.5,410.3 488.4,409.9 491.3,409.5 494.2,409 497.1,408.4 500,407.8 502.9,407.1 505.9,406.4 508.8,405.6 511.7,404.8 514.7,403.9 517.6,402.9 520.5,401.9 523.4,400.8 526.4,399.7 529.4,398.5 532.5,397.2 536.1,395.8 539.5,394.5 543.3,393.1 550,390.6 561.8,386.3 576.4,380.9 590,375.9 599.9,372 608.7,368.5 620,364 638,357 658.5,349.1 673.1,343.4" fill="none" stroke="#E81010" stroke-width="1.1" stroke-linejoin="round"/>
<rect x="413.6" y="295.5" width="262.8" height="233.5" fill="none" stroke="#646464" stroke-width="0.95"/>
<path d="M413.4 529v2.2M413.4 295.5v-2.2M417.7 529v2.2M417.7 295.5v-2.2M446.8 529v2.2M446.8 295.5v-2.2M461.5 529v2.2M461.5 295.5v-2.2M472 529v2.2M472 295.5v-2.2M480.1 529v2.2M480.1 295.5v-2.2M486.7 529v2.2M486.7 295.5v-2.2M492.3 529v2.2M492.3 295.5v-2.2M497.2 529v2.2M497.2 295.5v-2.2M501.4 529v2.2M501.4 295.5v-2.2M530.5 529v2.2M530.5 295.5v-2.2M545.2 529v2.2M545.2 295.5v-2.2M555.7 529v2.2M555.7 295.5v-2.2M563.8 529v2.2M563.8 295.5v-2.2M570.4 529v2.2M570.4 295.5v-2.2M576 529v2.2M576 295.5v-2.2M580.9 529v2.2M580.9 295.5v-2.2M585.2 529v2.2M585.2 295.5v-2.2M614.2 529v2.2M614.2 295.5v-2.2M628.9 529v2.2M628.9 295.5v-2.2M639.4 529v2.2M639.4 295.5v-2.2M647.5 529v2.2M647.5 295.5v-2.2M654.1 529v2.2M654.1 295.5v-2.2M659.7 529v2.2M659.7 295.5v-2.2M664.6 529v2.2M664.6 295.5v-2.2M668.9 529v2.2M668.9 295.5v-2.2M417.7 529v2.2M417.7 295.5v-2.2" stroke="#505050" stroke-width="0.6" fill="none"/>
<path d="M421.6 529v4.4M421.6 295.5v-4.4M505.3 529v4.4M505.3 295.5v-4.4M589 529v4.4M589 295.5v-4.4M672.7 529v4.4M672.7 295.5v-4.4" stroke="#505050" stroke-width="0.7" fill="none"/>
<path d="M413.6 519h-2.2M676.4 519h2.2M413.6 513.1h-2.2M676.4 513.1h2.2M413.6 508.9h-2.2M676.4 508.9h2.2M413.6 505.7h-2.2M676.4 505.7h2.2M413.6 503h-2.2M676.4 503h2.2M413.6 500.8h-2.2M676.4 500.8h2.2M413.6 498.9h-2.2M676.4 498.9h2.2M413.6 497.2h-2.2M676.4 497.2h2.2M413.6 485.6h-2.2M676.4 485.6h2.2M413.6 479.7h-2.2M676.4 479.7h2.2M413.6 475.6h-2.2M676.4 475.6h2.2M413.6 472.3h-2.2M676.4 472.3h2.2M413.6 469.7h-2.2M676.4 469.7h2.2M413.6 467.5h-2.2M676.4 467.5h2.2M413.6 465.5h-2.2M676.4 465.5h2.2M413.6 463.8h-2.2M676.4 463.8h2.2M413.6 452.2h-2.2M676.4 452.2h2.2M413.6 446.4h-2.2M676.4 446.4h2.2M413.6 442.2h-2.2M676.4 442.2h2.2M413.6 439h-2.2M676.4 439h2.2M413.6 436.3h-2.2M676.4 436.3h2.2M413.6 434.1h-2.2M676.4 434.1h2.2M413.6 432.2h-2.2M676.4 432.2h2.2M413.6 430.5h-2.2M676.4 430.5h2.2M413.6 418.9h-2.2M676.4 418.9h2.2M413.6 413h-2.2M676.4 413h2.2M413.6 408.8h-2.2M676.4 408.8h2.2M413.6 405.6h-2.2M676.4 405.6h2.2M413.6 403h-2.2M676.4 403h2.2M413.6 400.7h-2.2M676.4 400.7h2.2M413.6 398.8h-2.2M676.4 398.8h2.2M413.6 397.1h-2.2M676.4 397.1h2.2M413.6 385.5h-2.2M676.4 385.5h2.2M413.6 379.7h-2.2M676.4 379.7h2.2M413.6 375.5h-2.2M676.4 375.5h2.2M413.6 372.3h-2.2M676.4 372.3h2.2M413.6 369.6h-2.2M676.4 369.6h2.2M413.6 367.4h-2.2M676.4 367.4h2.2M413.6 365.4h-2.2M676.4 365.4h2.2M413.6 363.7h-2.2M676.4 363.7h2.2M413.6 352.2h-2.2M676.4 352.2h2.2M413.6 346.3h-2.2M676.4 346.3h2.2M413.6 342.1h-2.2M676.4 342.1h2.2M413.6 338.9h-2.2M676.4 338.9h2.2M413.6 336.3h-2.2M676.4 336.3h2.2M413.6 334h-2.2M676.4 334h2.2M413.6 332.1h-2.2M676.4 332.1h2.2M413.6 330.4h-2.2M676.4 330.4h2.2M413.6 318.8h-2.2M676.4 318.8h2.2M413.6 312.9h-2.2M676.4 312.9h2.2M413.6 308.8h-2.2M676.4 308.8h2.2M413.6 305.5h-2.2M676.4 305.5h2.2M413.6 302.9h-2.2M676.4 302.9h2.2M413.6 300.7h-2.2M676.4 300.7h2.2M413.6 298.7h-2.2M676.4 298.7h2.2M413.6 297h-2.2M676.4 297h2.2" stroke="#505050" stroke-width="0.5" fill="none"/>
<path d="M413.6 529h-4.4M676.4 529h4.4M413.6 495.6h-4.4M676.4 495.6h4.4M413.6 462.3h-4.4M676.4 462.3h4.4M413.6 428.9h-4.4M676.4 428.9h4.4M413.6 395.6h-4.4M676.4 395.6h4.4M413.6 362.2h-4.4M676.4 362.2h4.4M413.6 328.9h-4.4M676.4 328.9h4.4M413.6 295.5h-4.4M676.4 295.5h4.4" stroke="#505050" stroke-width="0.7" fill="none"/>
<text x="406.3" y="535" text-anchor="end" font-size="12.6" fill="#000" stroke="#000" stroke-width="0.25">10<tspan font-size="10.100000000000001" dy="-5.9">-8</tspan></text>
<text x="406.3" y="501.6" text-anchor="end" font-size="12.6" fill="#000" stroke="#000" stroke-width="0.25">10<tspan font-size="10.100000000000001" dy="-5.9">-7</tspan></text>
<text x="406.3" y="468.3" text-anchor="end" font-size="12.6" fill="#000" stroke="#000" stroke-width="0.25">10<tspan font-size="10.100000000000001" dy="-5.9">-6</tspan></text>
<text x="406.3" y="434.9" text-anchor="end" font-size="12.6" fill="#000" stroke="#000" stroke-width="0.25">10<tspan font-size="10.100000000000001" dy="-5.9">-5</tspan></text>
<text x="406.3" y="401.6" text-anchor="end" font-size="12.6" fill="#000" stroke="#000" stroke-width="0.25">10<tspan font-size="10.100000000000001" dy="-5.9">-4</tspan></text>
<text x="406.3" y="368.2" text-anchor="end" font-size="12.6" fill="#000" stroke="#000" stroke-width="0.25">10<tspan font-size="10.100000000000001" dy="-5.9">-3</tspan></text>
<text x="406.3" y="334.9" text-anchor="end" font-size="12.6" fill="#000" stroke="#000" stroke-width="0.25">10<tspan font-size="10.100000000000001" dy="-5.9">-2</tspan></text>
<text x="406.3" y="301.5" text-anchor="end" font-size="12.6" fill="#000" stroke="#000" stroke-width="0.25">10<tspan font-size="10.100000000000001" dy="-5.9">-1</tspan></text>
<text x="421.9" y="546.8" text-anchor="middle" font-size="12.6" fill="#000" stroke="#000" stroke-width="0.25">10<tspan font-size="10.3" dy="-6.3">1</tspan></text>
<text x="505.6" y="546.8" text-anchor="middle" font-size="12.6" fill="#000" stroke="#000" stroke-width="0.25">10<tspan font-size="10.3" dy="-6.3">2</tspan></text>
<text x="589.3" y="546.8" text-anchor="middle" font-size="12.6" fill="#000" stroke="#000" stroke-width="0.25">10<tspan font-size="10.3" dy="-6.3">3</tspan></text>
<text x="673" y="546.8" text-anchor="middle" font-size="12.6" fill="#000" stroke="#000" stroke-width="0.25">10<tspan font-size="10.3" dy="-6.3">4</tspan></text>
<text x="545" y="563.9" text-anchor="middle" font-size="12.6" fill="#000" stroke="#000" stroke-width="0.25">m<tspan font-family='"Liberation Serif", serif' font-size="11.3" dy="3">χ</tspan><tspan dy="-3"> [GeV]</tspan></text>
<text x="0" y="0" text-anchor="middle" font-size="12.6" fill="#000" stroke="#000" stroke-width="0.25" transform="translate(366.8 412.6) rotate(-90)"><tspan font-size="13.5">σ</tspan><tspan font-size="9.8" dy="3">SD</tspan><tspan dy="-3"> [pb]</tspan></text>
<text x="0" y="0" text-anchor="middle" font-size="11.2" fill="#000" stroke="#000" stroke-width="0.25" transform="translate(643 350) rotate(-22)">LZ(2022)</text>
<text x="0" y="0" text-anchor="middle" font-size="11.2" fill="#E81010" stroke="#E81010" stroke-width="0.25" transform="translate(637.8 373.4) rotate(-22)">PICO-60(2019)</text>
<path d="M490.9 360.2h0M491.2 359.3h0M492 358.3h0M492.7 355.5h0M494.7 351.7h0M502.2 363.8h0M503.3 367h0M502.9 365.7h0M507.8 370h0M507.4 370.3h0M503.4 367.5h0M508.8 372.4h0M501 364.4h0M506.6 370h0M503.6 367.8h0M502 364.3h0M508.8 372.4h0M500.7 363.5h0M504.6 368h0M502.2 365.2h0M502.5 365.6h0M502.6 365.6h0M500.1 363h0M507.7 370.6h0M504.7 368.2h0M506 370.2h0M502.9 366.6h0M503.2 367.1h0M499.8 364h0M499.9 362.3h0M503.4 366.6h0M508.2 370.5h0M504.1 368h0M498.3 359.7h0M499.8 361.4h0M508.4 370.9h0M502.9 367h0M506.7 369.7h0M501.3 366.6h0M502 364.3h0M501.8 364.2h0M508.6 371h0M500.4 362.6h0M506.3 368.4h0M503.5 367h0M506.7 369.5h0M506.8 370.9h0M504.6 368.4h0M503.5 367.4h0M507.4 369.4h0M507.5 370.4h0M507.9 370.1h0M499.2 360.7h0M504.7 368h0M508.8 370.8h0M498.5 359.3h0M501 361.9h0M500.9 363.5h0M502.2 365.4h0M507.3 369.3h0M511.3 374h0M521.1 381.2h0M513 376h0M519.4 378.6h0M516.8 376.4h0M516.9 375.2h0M509.4 371.8h0M520.8 379.1h0M523.7 383.6h0M513 374.5h0M522.1 381.3h0M524.1 385.2h0M518.4 376.9h0M523.8 382.4h0M520.2 381.1h0M525 386.2h0M525.1 387.1h0M513.3 373.5h0M513.8 374.2h0M523.6 384.3h0M508.5 371.4h0M517 378.7h0M517.5 378.5h0M511 373.2h0M528 387.9h0M524.8 386.5h0M520.7 379h0M515.1 376.3h0M512.9 373.5h0M525.5 383.8h0M508.8 371.8h0M521 380.2h0M524.2 384.6h0M514.1 376.5h0M520.6 378.9h0M521.5 380.5h0M522.5 381.8h0M514.7 376.3h0M518.5 380.1h0M518.2 378.3h0M525.7 388.1h0M522.8 381.4h0M524.9 385.6h0M510.8 371.3h0M526.6 387.9h0M587.3 443.3h0M573 417.7h0M579.2 427.8h0M589.1 445h0M576.3 419.5h0M588.1 448.3h0M586.1 437.4h0M584.7 435.4h0M575.2 414.1h0M569 409.5h0M578.7 418.1h0M569.9 413.8h0M585.5 434.8h0M586.1 445.9h0M568.3 412.8h0M569.9 412.7h0M583.2 427.6h0M577.6 419h0M575.4 414.7h0M587 446.8h0M569.5 411.7h0M585.8 448.4h0M572.5 411.5h0M567.2 410.2h0M578.7 419.2h0M586.7 460h0M576.3 421.3h0M580.7 424.3h0M583 425.8h0M585.5 431.5h0M572.7 413.4h0M581 426h0M572.2 413.1h0M581.1 420.8h0M587 460.3h0M572.3 418h0M587.8 445.8h0M581.1 423.1h0M580.6 423.6h0M587.3 442.4h0M578.6 422.5h0M577.5 438.4h0M584.6 428.8h0M585.5 444.2h0M569.4 413.2h0M565.4 410.4h0M587.7 459.8h0M566.9 410.4h0M572.3 414.3h0M573.2 415.4h0M580.2 426.1h0M571.5 413.8h0M586.3 457.3h0M582.3 424h0M566.9 409.3h0M576.5 417.4h0M580.4 421.5h0M578.4 428.2h0M579.5 442.3h0M581.5 423.7h0M573.3 418.6h0M588.4 457.2h0M569.3 419.5h0M578.9 442.7h0M570.3 408.3h0M579.2 426.6h0M587.9 443.7h0M587.7 446.8h0M571.1 411.3h0M581.8 428.2h0M582 430.9h0M581.7 422.8h0M581.9 422.7h0M588.8 451.4h0M583.4 428.4h0M587.2 438.1h0M571.4 417.2h0M585.5 440.1h0M568.2 406.9h0M580.3 430h0M584.9 451h0M567.9 412.3h0M571 411.8h0M580.1 422.5h0M586.5 442.9h0M584.4 449.5h0M583 436.5h0M587.7 450h0M577.8 424.9h0M582.5 441.1h0M585 427.2h0M583.3 427.5h0M586.6 453.5h0M574.9 414h0M587.7 448.2h0M571.2 415.7h0M565.8 408.7h0M572.3 417h0M589.3 447h0M567.6 411.8h0M588.2 445.3h0M583.5 422.9h0M567.2 408.8h0M580.1 423.2h0M577.9 421.5h0M586.1 456.2h0M568.9 410.6h0M587.6 445.3h0M581.7 428.5h0M571.8 414.5h0M565.3 407.2h0M575.4 418.9h0M567.6 410h0M585.4 439.7h0M584.2 456.9h0M581.6 432.9h0M586.8 458h0M568.2 410.6h0M565.6 406.8h0M586.8 430h0M568.5 409.1h0M581.2 447.2h0M587.6 447.5h0M581.4 423.4h0M579.7 422.4h0M588.6 460.2h0M583.6 432.2h0M573.2 416.2h0M588.2 457h0M574.3 414.9h0M574.4 418.8h0M582.8 427.4h0M585.5 461.5h0M587.4 436.7h0M586.5 456.2h0M586.8 431.3h0M571.7 415.3h0M582.7 440.5h0M588.6 450.5h0M577.6 420h0M573.7 418.2h0M571.2 410.7h0M587 439.8h0M581.5 430.4h0M588.3 459.9h0M581 418.6h0M565.3 410.9h0M570.2 412.4h0M580.5 428.6h0M576.5 425.4h0M587.3 440.4h0M577.5 417.7h0M582.1 433.1h0M576.5 418.7h0M568.8 410.7h0M583.8 428.7h0M588.6 444.5h0M577.3 420.2h0M576.3 421.6h0M575.3 415.7h0M584.2 438.1h0M567.1 407.2h0M585.9 433.5h0M585.8 431.6h0M587.5 435.9h0M575.7 419.2h0M581.3 423.5h0M575.3 417.6h0M574.5 416.2h0M586.1 437.8h0M588.9 450.7h0M588.3 441h0M582.8 436.6h0M579.7 425h0M586.3 443.7h0M574.1 422.6h0M571.3 414.5h0M581.3 447.9h0M586.8 461.2h0M586.8 459.9h0M577.8 421.6h0M584.1 429.7h0M587.8 460.3h0M573.4 424.1h0M567 408.3h0M584.1 445.4h0M583.2 424.2h0M588.2 453.3h0M578.3 428.5h0M581.4 425h0M577.3 417.6h0M585.9 442h0M580.1 421.6h0M568.9 409.5h0M577.9 418.4h0M584.1 435.4h0M574.4 415.9h0M566.7 409.4h0M586.9 457.2h0M585 451h0M570.2 414.9h0M567.9 412.4h0M583.4 428.4h0M576.1 417.4h0M583 431.8h0M587.1 443.1h0M580.6 437.5h0M570.6 415.8h0M588.1 460.4h0M587.8 437.1h0M566.5 410.8h0M586.2 434.3h0M584.3 425h0M587.3 459.1h0M579.8 428.9h0M587.3 447.8h0M587.1 450.8h0M580.5 427.5h0M577.4 423h0M569.1 412.9h0M567.9 410.6h0M571.9 418.7h0M573.9 415.1h0M583.2 432.3h0M567.8 412.6h0M584.8 442.7h0M586.7 429.1h0M585.4 430.6h0M583.4 428.7h0M588.1 436.7h0M572.8 412.2h0M582.6 440.9h0M582.3 421.8h0M582.9 439.9h0M585 441.8h0M571.3 415.9h0M570.4 410.6h0M582.4 435.2h0M577.2 446.2h0M577.2 418.5h0M588.8 445h0M565.8 409.9h0M588.6 452.5h0M587.1 460.8h0M585.7 433.2h0M567.8 414h0M586 451.4h0M578.7 427.9h0M578.2 423.8h0M586.2 436.7h0M588.7 458.1h0M575.8 422.6h0M580.5 427.1h0M585.1 447.7h0M583.5 429h0M574.6 418.1h0M588.3 448.4h0M584.4 428h0M578.8 421h0M584.4 448.6h0M574.7 415.9h0M579.8 430.4h0M583.3 432.8h0M578.9 423.5h0M573.3 413.9h0M571.4 415.4h0M576.2 433.1h0M586.6 432.2h0M588.3 455.1h0M576.1 417.4h0M579.6 421.1h0M584.2 453.6h0M588.3 438.6h0M574.6 417.2h0M588.9 441.9h0M576.7 421.3h0M577.4 419.3h0M589.1 442.2h0M585.5 440.5h0M576.3 421.5h0M575.6 424.1h0M570.1 407.1h0M575.9 418.9h0M579.4 423.2h0M577.6 421.5h0M579.5 421.2h0M586.4 435.9h0M572.1 414.4h0M567.6 410.2h0M579.4 442.9h0M582.9 443.5h0M584.6 440h0M573.9 411h0M566.3 409.8h0M578 419.2h0M588.2 442h0M582.1 421h0M567.1 410.5h0M577.1 430.1h0M588.2 456.6h0M581.7 422.2h0M568.4 412.7h0M583.1 455.9h0M588.6 443.8h0M579.6 433.2h0M588 455.9h0M567.4 408.6h0M588.3 461.6h0M575.9 416.2h0M587.7 456.1h0M571.6 414.4h0M572.5 416.8h0M585.6 429.6h0M574.1 414.6h0M570.6 411.8h0M585.6 461.4h0M570.1 414.2h0M574.1 415.6h0M588 443.4h0M573 419.1h0M583.3 426.1h0M580.9 430.3h0M586.8 457.1h0M567.8 414h0M568.4 412.4h0M574.7 418.2h0M571.1 414.4h0M564.8 409.1h0M588.3 458.1h0M586.8 447h0M587.6 448.4h0M587.2 458.8h0M576.3 417.8h0M585 456.9h0M582.8 458h0M585.2 441h0M575.8 420.5h0M569 412.3h0M575.8 415.9h0M567.5 407.3h0M571 414.1h0M568.2 411.4h0M588.8 452.9h0M569.1 410.3h0M568.6 408.5h0M566.9 410.7h0M566.1 407.8h0M574.1 414.2h0M583.6 440h0M584.1 428.9h0M577.3 418.8h0M585.5 444.9h0M587.6 452.4h0M575.8 416h0M573.6 418.8h0M566.4 406.6h0M584.2 452.2h0M589.1 444.8h0M586.6 452.2h0M585.3 459.4h0M585.8 450.4h0M584 446.9h0M583 442.4h0M581.8 424.9h0M589.3 447.3h0M586.1 429.7h0M585.5 443.8h0M581.3 424.9h0M586 448.6h0M583.6 426.3h0M572.7 413.6h0M579.3 421.2h0M583.1 431.3h0M586.4 454.6h0M578.4 418h0M572 411.8h0M588.4 440.9h0M571.9 415h0M588.2 447.6h0M588.5 441.8h0M570.4 414.1h0M577.7 419.2h0M582.3 427.8h0M579.6 421.9h0M571.7 420.6h0M586 434.5h0M567.1 407.4h0M575.8 419.1h0M587.7 435.4h0M577.3 422.5h0M578.6 427.6h0M572 417.5h0M577.4 419h0M571.5 413.3h0M584.4 437.5h0M583.4 437.7h0M580.8 425.2h0M570.5 416.4h0M585.1 449.6h0M569.1 410.1h0M587.9 457.2h0M582.6 426h0M580.8 426.7h0M572.5 413.7h0M587 456.6h0M581.2 442.6h0M588.7 442.4h0M573.6 417.6h0M580.4 420.3h0M586.8 453.3h0M570.7 412.9h0M587.2 435.1h0M567.7 414.1h0M587 439.7h0M575.9 417.5h0M585.7 438.1h0M575 418.1h0M567.3 406.6h0M569.1 415.3h0M585.1 427.6h0M576.7 421.5h0M572.7 416.6h0M582.7 426.5h0M580.4 426.1h0M587.7 441.1h0M573 422.1h0M571.6 420.3h0M583.9 431.2h0M580.1 432.5h0M571.5 415.2h0M568.8 409.8h0M575.9 417.8h0M567.4 411.4h0M588.8 452.2h0M575.4 418.6h0M583.1 424h0M577.2 419.5h0M587 452.4h0M567.3 409.6h0M572.1 412.2h0M574.3 416.5h0M585.5 429.4h0M584.4 459.2h0M580.9 436.2h0M573.9 419.3h0M585 461.8h0M570.6 413.7h0M582.5 440h0M584.5 432.4h0M575.2 415.3h0M568.1 409.4h0M566 408.6h0M586.6 442h0M584.2 430.6h0M588.7 454h0M588.4 462.4h0M586.4 440.4h0M572.3 414.8h0M580.5 426.8h0M574.9 420.8h0M582.1 426.2h0M581.3 422.9h0M586.7 438.5h0M565.8 410.5h0M569.7 415.1h0M575.9 418.2h0M584.8 430.1h0M576.3 417.1h0M587.1 457.8h0M573.8 416.5h0M567.6 406.9h0M575.6 418.3h0M586.2 459.4h0M584.2 452.8h0M575.9 416.8h0M586.5 433.4h0M584.7 434.6h0M586.9 451.9h0M587.2 432.1h0M588.6 452.4h0M576.6 419.1h0M577.6 418.6h0M581.1 429.3h0M587.8 444.7h0M580.6 422.4h0M579.4 421.1h0M586.5 441.4h0M584.1 430.7h0M567.6 410.4h0M581.8 449.3h0M585.7 435.3h0M564.4 408h0M588.1 460.6h0M587.8 447.6h0M584.1 424.8h0M587.6 456.9h0M587.7 445.9h0M568.9 415h0M586.2 450.4h0M566.6 407.4h0M587.1 444.4h0M585.3 440.7h0M583.1 425.6h0M575.5 427.4h0M584.4 428.1h0M572.9 418.3h0M579.7 428.4h0M589.2 446.3h0M586 444.4h0M588.3 446.2h0M587.2 460.7h0M587.3 457.5h0M567.5 412.3h0M566.3 407.5h0M573.3 413.5h0M568.9 410.5h0M569.4 413.1h0M587.6 459.7h0M570.7 414.3h0M577.7 421.7h0M581.3 420.4h0M583.7 426.5h0M580.2 419.4h0M590.6 440.3h0M582 422h0M571.8 412.1h0M589.9 440.4h0M585.7 429.4h0M567.5 406.8h0M584.7 424.3h0M574.2 414.8h0M587.3 430h0M581.1 421.2h0M584.9 423.4h0M589.1 435.6h0M590.1 439.5h0M592.2 441.8h0M589.7 433.9h0M589.1 435.1h0M578.8 421.1h0M581.9 422.9h0M591.7 441h0M588 433h0M584.7 423.3h0M586.4 429.1h0M579.3 420.4h0M571.5 412.5h0M587.2 427.9h0M571.1 411.6h0M581.9 422.7h0M589.3 436.4h0M574.9 415.7h0M585.6 423.4h0M585 426.1h0M570.9 413h0M587.3 435.6h0M589.1 435.7h0M589.8 434.3h0M586.9 428.4h0M591.4 439.4h0M579.6 418.6h0M589.4 440h0M590 434.5h0M576.5 415.4h0M573.6 413.7h0M571.7 410.2h0M582.4 423.3h0M580.8 419.7h0M588.6 433h0M570.2 412h0M574.8 413.8h0M581.2 423h0M569.5 411.5h0M589 431.3h0M579.7 419.7h0M585.1 424.3h0M577.1 415.1h0M571.8 411h0M576.6 416.4h0M568.5 410h0M582.4 424.4h0M569.1 409.9h0M578.4 415.7h0M577.3 417.5h0M575 415h0M573.9 413.6h0M586.3 426.5h0M571.7 412.2h0M589.9 440.2h0M588.1 430.8h0M580.6 420.3h0M583.7 426.6h0M589 432.6h0M568 409.2h0M590.7 436.4h0M573.3 414.1h0M590.1 439.7h0M592 436.8h0M577.6 415.2h0M573.1 413.8h0M589 433.4h0M567.5 408.5h0M589.4 437h0M588.3 431.8h0M588.1 433.9h0M590.9 440.1h0M588.9 436.9h0M568.5 407.5h0M587.6 427.7h0M570.2 410.4h0M570.2 412.7h0M578 420.3h0M588.8 436h0M571.2 411.9h0M569.1 408.6h0M576 415.3h0M589.6 434.5h0M582.5 424h0M586.8 427.9h0M585.4 426.6h0M578.4 418.9h0M584 422.3h0M581.8 421.1h0M587 435.1h0M579.5 421.2h0M590.3 433.9h0M585.4 426.1h0M573.9 414.1h0M587.9 429h0M571.1 411.1h0M576.8 417.9h0M574.1 414.7h0M573.4 413.3h0M579.6 420.6h0M586.4 428.2h0M567.7 408.8h0M578.2 416.7h0M592.4 437.9h0M576.7 416h0M569.3 411.1h0M573.1 417.6h0M577.5 418.9h0M581 421.6h0M583.6 425.8h0M585.4 422.7h0M588.5 435.8h0M588.8 432.4h0M572.3 413.7h0M577.1 418.5h0M586.9 429.7h0M582.7 424h0M585.8 429.4h0M570.6 410.9h0M572.9 412.7h0M588.8 429.9h0M581.2 421.8h0M571.4 411.9h0M571.5 412.6h0M568.7 410.6h0M574.6 414.2h0M584.8 424.4h0M574.2 414h0M582.2 424.5h0M589 437.3h0M591.3 440.3h0M591.8 439.3h0M567.5 406.5h0M583.4 428.8h0M568.6 407.9h0M589.5 436.9h0M590.3 440.9h0M579.6 419.4h0M591.4 436.2h0M568.1 407.5h0M569.4 406.8h0M571.8 412.7h0M574.8 416.8h0M583.6 426.5h0M575.6 415.3h0M591.2 440.8h0M576.3 417.4h0M579.6 420.5h0M584.2 425.4h0M585.7 427.3h0M588.7 434h0M578.7 418.7h0M586 426.5h0M589.6 437.8h0M589.2 435.1h0M576.8 414.5h0M585.4 428.2h0M570.9 412.5h0M576.1 417.8h0M585.7 430.3h0M588.1 434.6h0M577 417.8h0M578.5 416.9h0M574.8 414.2h0M582.5 419.6h0M588.5 433.2h0M569.4 410h0M582.1 424.6h0M582.8 424.1h0M575.5 416.5h0M588.9 437.8h0M566.5 407h0M569.8 410.1h0M570.8 411.8h0M582.4 420.9h0M584.7 426.7h0M585.8 429.3h0M581.3 421.1h0M592.1 440.9h0M573.5 411.9h0M575.1 415.7h0M587.7 431.3h0M588.2 437.1h0M591.1 435h0M588.6 432.2h0M582.7 426h0M586.7 446.6h0M587.5 445.1h0M586.7 442.3h0M588.4 461.5h0M586.7 442.5h0M585.9 438h0M589.4 460.7h0M588.9 456.7h0M587.8 454.6h0M589.7 461h0M587.5 465.2h0M586.7 445.9h0M582.8 448.4h0M586.8 445.5h0M588.6 456.1h0M586.6 439.9h0M585.7 461.2h0M586.3 456.3h0M587.3 443.1h0M582.8 448.6h0M586.6 455.8h0M585.4 443.1h0M588.1 464h0M584.9 456h0M590.1 465.5h0M589.6 459.7h0M590.2 465.6h0M587.9 455.5h0M588.2 464.6h0M587.2 437.9h0M588.3 464.3h0M584.4 440.1h0M589 459h0M588.1 453.5h0M583.9 436.9h0M588.8 455.8h0M587 451.6h0M585.8 449.4h0M588.4 461.4h0M584.4 437.7h0M588.2 456.2h0M586.3 456.2h0M585.3 442.2h0M586.9 461.4h0M589.7 461h0M587 453.3h0M587.3 452.9h0M586.9 447.7h0M587.6 445.9h0M589.2 461.3h0M589.9 462.9h0M586.6 454.2h0M588.8 462.9h0M586.8 463.5h0M585.4 443.9h0M586.4 440.1h0M587.1 448.6h0M586.8 443h0M588.5 454.6h0M586.3 439.9h0M589 456.7h0M586.6 438.8h0M586.1 436.7h0M588.4 448.4h0M587.7 450.1h0M582.9 436.5h0M585.7 445.5h0M587.6 452.6h0M587.3 445.5h0M584.3 441.5h0M585.5 436.3h0M585 448.5h0M588.8 459.6h0M590 465.7h0M587 453.7h0M587.8 463.4h0M587.4 455.6h0M589.2 459.9h0M589.7 459.8h0M589.7 465.1h0M587.6 449.5h0M588.9 453.2h0M584.3 438.6h0M586.6 450.7h0M588 459.6h0M589 464.5h0M586.4 454.6h0M587.4 458.2h0M587.5 461.6h0M584.8 438.4h0M586.1 458.2h0M587.3 455.2h0M587.5 441.7h0M586.6 436.2h0M587.2 439.9h0M587.7 447h0M590.3 465.6h0M586.5 448.6h0M587.9 444.2h0M589.1 458.4h0M587.6 452.6h0M585.7 449.2h0M588.2 453.2h0M588.9 459.7h0M585.7 448.3h0M587.1 438.2h0M586.7 445.6h0M580.4 437.4h0M589.4 461.7h0M589.3 464.4h0M585.8 447.8h0M585.6 450.6h0M583.9 448.4h0M589.1 462.5h0M585 443.1h0M585.9 448.4h0M587.1 448.6h0M588.8 465h0M587.7 461.9h0M587.4 445.4h0M586.5 438.9h0M590.2 464.6h0M586.6 449.8h0M586.8 447.2h0M588.2 466.2h0M587.5 456.4h0M586 438.6h0M587.9 458.3h0M586.8 457.9h0M586.3 458.2h0M586.7 449.7h0M589.2 462.6h0M586.8 459.6h0M587.2 457.2h0M584.6 438h0M586.8 462h0M587.3 437.7h0M587.9 449.6h0M587.3 455.6h0M585.2 446.2h0M589.7 461.2h0M588.1 446h0M589.4 461h0M587.3 450.8h0M583 436.7h0M586.8 458.8h0M587.5 451.2h0M588.2 453.5h0M587.7 465h0M586.1 437.9h0M594.2 443.4h0M594.5 442.2h0M592.2 432.6h0M594.1 442.7h0M594.5 438.3h0M592.7 433.4h0M595.3 444.1h0M593.3 438.1h0M593.7 435.2h0M591.5 428.9h0M593.7 439.7h0M595.2 435.5h0M592.5 436.3h0M594.1 433.5h0M591.7 430.5h0M596 442.5h0M594.3 442.5h0M595.8 445.9h0M593.4 438.1h0M592.1 431.7h0M592.2 433.7h0M593.9 434.2h0M591.2 429.9h0M594.6 440.3h0M595.5 442.8h0M595.5 438.6h0M596.2 444.6h0M591.4 431.2h0M593.2 437.4h0M596.6 446.1h0M590.9 428.8h0M594.5 441.6h0M591.2 428.4h0M592.5 435.9h0M592 432.8h0M483 395.2h0M483.8 400.7h0M531.8 404.4h0M538.6 406.4h0M558 412.6h0" stroke="#0000F0" stroke-width="2.2" stroke-linecap="round" fill="none"/>
<path d="M495.2 350.7h0M496.4 349.8h0M512.1 373.9h0M505.2 369.3h0M506.7 369.7h0M508.1 371.3h0M505.6 369.8h0M511.2 372.7h0M508.8 372.2h0M505.8 368.7h0M567.7 410.4h0M569.5 411.7h0M564.7 408h0M567.3 411.7h0M563.9 408.5h0M558.6 404h0M557.2 405.8h0M560.8 404.8h0M565.1 410.4h0M559.6 406.8h0M558.9 405.9h0M557.3 404h0M565.3 412.6h0M557.2 406.3h0M566.2 407.8h0M562.1 407.6h0M560.6 406.2h0M563.4 407.4h0M560 406.1h0M566.9 411.9h0M556.8 404.4h0M564.8 410.4h0M561.1 405.8h0M563.7 406.4h0M558.9 406h0M559 403.8h0M559.5 403.2h0M558.8 408.3h0M557 403.3h0M560.3 406.2h0M567.8 410.5h0M564.3 407h0M567.5 412.1h0M558.6 405.1h0M561.9 408.4h0M556.9 405.1h0M562 407.5h0M564.4 408.6h0M566.4 408h0M569.7 410.8h0M556.4 404.3h0M561.4 406.2h0M566.2 410.2h0M567.8 410.8h0M559.3 405.2h0M557.5 403.3h0M559.5 407.8h0M556.1 403.8h0M566.6 410.6h0M558.7 406.3h0M564.1 408.6h0M557.6 405.6h0M567.2 408.9h0M565.6 409.2h0M565.8 408.1h0M558.2 440.2h0M560.2 423.1h0M563.6 417.9h0M558.8 429.5h0M559.2 435.2h0M558.6 434.6h0M558.2 425.3h0M557.6 429.4h0M560.5 431.6h0M558.8 442h0M560.5 437.6h0M560.5 442.9h0M560.8 425h0M558.3 435.4h0M556.8 414.6h0M558.7 426h0M561.2 418.6h0M560.5 426h0M562.4 425.7h0M558.7 439.8h0M559.7 421h0M559.6 423.4h0M558.5 433.5h0M558.1 440.8h0M557.3 446.3h0M560.3 444.4h0M559.6 429.1h0M559.8 420.8h0M560.9 435.7h0M559.1 425h0M560.8 417.2h0M563.2 417.6h0M561.8 439.8h0M558.6 425.7h0M558.6 418.2h0M560.5 441.4h0M559.9 442h0M558.8 415.3h0M571.3 422.8h0M549.8 428.3h0M548.4 418.3h0M567.2 422.8h0" stroke="#80FFFF" stroke-width="2.2" stroke-linecap="round" fill="none"/>
<path d="M493.5 353.6h0M497.6 354h0M512.1 374h0M513.3 376h0M511.9 374h0M521.5 378.5h0M521.1 380.8h0M512.7 374.6h0M515.8 375.7h0M522.4 379.9h0M520.4 379.8h0M510 372.6h0M509.5 372.8h0M509.7 372.7h0M558.1 403.9h0M549.7 399.4h0M547.9 401.1h0M551.4 399.7h0M556.2 398.2h0M554.5 401h0M555.3 404.2h0M550.3 400.7h0M561.2 403.5h0M555 403.8h0M554.8 403.8h0M551.8 400.8h0M554.1 400.7h0M552 400.5h0M556.1 403h0M557.4 404h0M548.6 401.6h0M550.7 399.9h0M550.9 399.6h0M550.7 399.8h0M551.9 401.8h0M559.3 403h0M549.4 401h0M553.6 401.2h0M555.9 403.1h0M556.6 399h0M558.7 406.4h0M557.4 403.6h0M550.7 398.2h0M555.9 404.8h0M555.5 401h0M550.4 396.4h0M558.5 402.7h0M557.9 405.9h0M551.4 399.8h0M552.3 403.5h0M555.7 405h0M547.6 399.5h0M557.7 403.4h0M559.4 405.4h0M560 403h0M555.8 399.9h0M556.9 404.7h0M554.6 402.7h0M553.4 402h0M554.4 402.7h0M555.2 404.1h0M552.9 400.6h0M559.1 403.9h0M559 404.1h0M550 402.5h0M551.6 399.7h0M551.3 403.1h0M557.5 403.4h0M556.8 401.3h0M551.3 401.6h0M564 405.1h0M552.4 400.4h0M555 399.5h0M556.6 401.3h0M553.5 401.1h0M555 400.6h0M554.2 402h0M557.3 402h0M558.2 404.7h0M550 398.5h0M554.8 401.8h0M557.8 403.7h0M553.4 401.6h0M555.8 401.2h0M551.3 398.4h0M557.6 404.5h0M551.3 396.2h0M551.8 400.2h0M554.8 401.7h0M558.4 402.9h0M558.1 402.9h0M557.5 400.4h0M549.9 398.5h0M549 401.4h0M547.1 405.1h0M557.6 411.1h0M554.6 405h0M553.2 406.7h0M559.1 407.4h0M559.7 408.3h0M556.3 408.1h0M556.1 402.3h0M553.1 399.1h0M556.2 405.1h0M557.7 410.8h0M555 409.6h0M553.5 402.6h0M557.2 407.2h0M550.9 403.6h0M551.8 405h0M558.3 407.5h0M561.1 409.7h0M557.1 404.5h0M555.7 402.9h0M550.3 403.5h0M553.3 407.1h0M553 405.3h0M558.6 414.3h0M551 403h0M531.4 426.9h0M536.5 421.7h0M543.7 422.8h0M554.9 434h0M546.7 409.5h0M553.3 418.1h0M552.9 422.4h0M547.8 411.5h0M537.6 410.5h0M543 487.4h0" stroke="#78C832" stroke-width="2.2" stroke-linecap="round" fill="none"/>
<path d="M524 381.2h0M526 388.4h0M520 380.6h0M524.1 383.9h0M524.8 385.8h0M531.2 392.5h0M527.2 389h0M535 395.9h0M520 380h0M531.2 393h0M529.6 391.3h0M534.1 394.3h0M526.1 383.3h0M529.7 391h0M534.5 396h0M530.6 393.8h0M536.4 397.6h0M535.8 396.4h0M520.4 380.6h0M525 385.6h0M530.3 389.3h0M524.6 385.9h0M528.3 389.9h0M522.8 381.4h0M531.4 393.8h0M526.1 387h0M524.1 383.3h0M527.6 390.1h0M535.9 396.2h0M530.8 392.6h0M532 393.7h0M528.4 390.8h0M522.9 381.9h0M527.5 391.1h0M529.7 389h0M531.6 392.4h0M516.9 377.4h0M533.3 394.5h0M519.8 378.5h0M525.9 387.1h0M532.3 392.6h0M519.6 378.8h0M525.8 386.5h0M533 396.1h0M532.5 394.4h0M525.8 387.1h0M523.5 383.2h0M534.9 396.4h0M524.2 385.3h0M531 392.1h0M532.2 393.5h0M530 392.4h0M532.3 393.2h0M526.9 384.5h0M529.3 390.4h0M530.1 391.7h0M522.8 380h0M526.5 387.7h0M533.6 393.8h0M518.3 379.2h0M533 394.1h0M525.1 384.4h0M528.6 389.2h0M529.4 390.5h0M523.7 381.5h0M525.3 386.2h0M521.6 380.4h0M532.8 393.8h0M522.8 381h0M524.6 385.1h0M527.8 388.1h0M536.5 396.9h0M533.3 394.2h0M530.4 392.8h0M533.3 393.6h0M528.5 390.9h0M527.6 390.5h0M527.7 390h0M529.9 392.9h0M535.9 396.3h0M532.3 393.7h0M529.3 392.3h0M528.5 391.6h0M535.9 395.6h0M531 392.3h0M531.7 392.7h0M529.7 394.1h0M528.9 391h0M535.5 398.4h0M527.4 389.6h0M533.5 393.6h0M529.8 390.7h0M528.3 390h0M530.7 392.2h0M534.4 394.4h0M525.3 404.4h0M528.4 410.5h0M533.5 412.6h0M534.5 406.4h0M537.6 401.3h0" stroke="#FF00FF" stroke-width="2.2" stroke-linecap="round" fill="none"/>
<path d="M490.6 362.1h0M490.2 361.2h0M510.9 374.2h0M513 373.7h0M515.2 377.2h0M514.5 375.5h0M512.5 373.4h0M512 373.8h0M514 375.6h0M512.8 373.9h0M510.2 372.8h0M512.8 375.5h0M514 375.1h0M514.3 376.4h0M513.7 375.8h0M512.1 374.2h0M544.5 397.9h0M546 399.4h0M547 400.7h0M542.6 398.9h0M542.9 398.3h0M543.9 397.8h0M541.9 397h0M545.2 398.6h0M542 397.6h0M543.4 398.4h0M543.4 398.9h0M543.1 398.9h0M543.8 398.3h0M546.4 399.3h0M547.5 400.1h0M544.5 399h0M545.4 399.3h0M545.8 401.1h0M546.1 399.8h0M542.2 398.3h0M545.2 398.2h0M545.1 400.3h0M544.6 399.7h0M543.3 399.3h0M544.8 397.4h0M542.5 398.6h0M540.8 398.4h0M543.5 398.8h0M546.1 399.9h0M546.5 398.8h0M547.3 399.7h0M543.2 397.3h0M544.2 397.4h0M541.9 397.7h0M542.5 398.6h0M546.6 398.7h0M546.6 400.7h0M544 398.7h0M548.6 402h0M542.2 398.2h0M545.4 399.2h0M544.8 397.6h0M542.2 398h0M545.2 399.4h0M545.4 397.4h0M542.8 398.3h0M546.6 398.4h0M546 399.1h0M542.7 399.3h0M547.9 400.6h0M538.6 405.4h0M542.7 409.5h0M549.8 412.6h0" stroke="#E60000" stroke-width="2.2" stroke-linecap="round" fill="none"/>
<path d="M491.8 357.4h0M492.3 356.4h0M493.1 354.5h0M494.3 352.6h0M534.2 395.3h0M533 395.4h0M534.9 396.5h0M534 396.2h0M535.8 396.7h0M534 395.8h0M534.6 395.9h0M534.6 396.3h0M538.6 397.5h0M537.4 400.5h0M540.8 399h0M536.3 397.2h0M534.1 399.2h0M539.1 396.4h0M539.7 397.7h0M540.4 395.7h0M540.1 396.3h0M538.4 396h0M538.2 398.3h0M539.7 398.2h0M540.6 398.2h0M536.6 398.3h0M540 396.3h0M535.5 397h0M538 396.9h0M542.9 396.8h0M541.1 398.4h0M540.9 398.1h0M542.6 395.2h0M541.7 396h0M536.6 398.4h0M538.4 397.5h0M541.1 399.7h0M536.9 397.3h0M539.9 396.1h0M539.1 397.9h0M538 395.1h0M539.4 396.1h0M538.8 398.8h0M539.3 399.1h0M538.4 396.5h0M538.4 397.8h0M538.4 398.8h0M535.9 399.5h0M538.9 398.3h0M537.6 398.6h0M536.8 398.5h0M539.5 398.1h0M539.3 396.5h0M536.9 401h0M538.9 395.9h0M534.4 397.5h0M537.7 397.3h0M538.8 399.6h0M535.2 396.6h0M535.8 396.9h0M541.4 394.8h0M539.1 399.9h0M537.4 397h0M539.5 398.6h0M539.5 397.5h0M535.5 397.3h0M537.2 398.3h0M539.6 397.4h0M538.8 400.1h0M540.4 397.7h0M538.1 398.8h0M540.7 396.9h0" stroke="#000000" stroke-width="2.2" stroke-linecap="round" fill="none"/>
<path d="M592.4 502.6h0M590.8 464.8h0M588.5 444.8h0M589.9 503.3h0M593.1 477h0M589.1 456.5h0M590.3 496.2h0M588.3 441.4h0M590.1 481.1h0M588.6 437.1h0M592.6 513.7h0M588.8 439.5h0M592.4 505.3h0M588.5 457h0M590.7 482.8h0M592.2 507.2h0M589.6 476.3h0M589.6 451h0M590 503.4h0M590.2 479.8h0M589.6 482h0M592.9 507.2h0M591.8 517.6h0M590.5 497.9h0M591.8 487.3h0M590 463.8h0M590 463.1h0M592.5 503.8h0M590 478.5h0M589.8 464.9h0M592.5 512.1h0M587.6 481.8h0M589.3 440.8h0M590 471.8h0M589.7 468.3h0M589.2 452.4h0M592.4 503.8h0M589.9 499.8h0M589.7 481.7h0M589.7 476h0M591.6 512.1h0M588.5 439.3h0M592.2 517.3h0M590.6 499.7h0M593.9 495.7h0M591.5 491.2h0M592.8 488.2h0M591.6 521.6h0M590.9 491.6h0M592.8 517.6h0M592.5 479.4h0M588.9 460.6h0M587 437.9h0M592.6 510.6h0M593 506.7h0M591.2 480h0M590.9 461.2h0M590.1 489.1h0M588.7 460.4h0M593.2 510.4h0M590.2 470.1h0M587.9 445.6h0M592.6 517.3h0M591.9 506.3h0M590.8 485.1h0M592.3 504.3h0M592.2 471.8h0M592.7 510.6h0M587.4 431.9h0M590 464.3h0M587.2 438.8h0M590.8 469.3h0M592 523.3h0M588.3 443.5h0M589.8 476.4h0M590 465h0M590.4 469.7h0M590 480.1h0M588.7 472.7h0M590.8 490.2h0M592.7 521.6h0M592.6 526.1h0M589.7 467h0M590.4 467.8h0M588.4 438.1h0M591.4 518.2h0M592.1 519.1h0M590.7 474.4h0M588.1 447.4h0M592.6 502.1h0M588.4 441h0M592.2 497.2h0M586.6 432.5h0M589.7 472h0M588.2 451.6h0M587.2 440.9h0M592.8 510.1h0M592.2 515.7h0M592.6 493.9h0M592.6 522.9h0M588.4 469.4h0M586.2 431.1h0M591.7 464.4h0M590.6 481.8h0M587.4 433.2h0M592.1 514.8h0M590.1 459.5h0M591.9 502.2h0M589.7 466.6h0M592.9 477.2h0M592.5 470.2h0M592.5 516.6h0M592.8 512.7h0M589.4 462.7h0M592.7 490.6h0M591.3 492.4h0M591.1 503.1h0M589.6 487.5h0M588.2 437.2h0M592.2 493.7h0M590.5 468.8h0M589.3 474.9h0M587.8 441h0M590.7 480.4h0M587.6 438.4h0M588.9 451.8h0M588.6 447.9h0M592.5 523.9h0M588.8 455.3h0M588.3 438.8h0M588 444.1h0M588.1 449.5h0M592.2 505.8h0M590.2 499.8h0M592.6 520.4h0M594.6 489h0M591.7 515.7h0M590.5 481.6h0M590.5 475.5h0M591.2 466.5h0M591 496.9h0M590.1 482.2h0M588.8 464.1h0M592.4 502.5h0M592.1 521.4h0M592 508.5h0M592.9 502.7h0M588.1 480.8h0M590.4 484.7h0M588.7 441.9h0M587.8 444.2h0M591.7 485h0M592.3 487.1h0M588.7 444.8h0M587.7 436h0M590.4 513.3h0M588.2 441.5h0M588.3 444.7h0M590.4 456.2h0M592.1 521.4h0M589.3 473.8h0M592.4 520h0M588.1 443.1h0M591.9 516.9h0M591.8 475h0M591.5 504.6h0M591.5 468h0M591.6 499.7h0M592.6 514.1h0M587.7 433.6h0M588.9 447.5h0M589.4 450.9h0M589.6 482.8h0M589.9 485.9h0M592.8 514.6h0M588.6 445.4h0M591.2 514.6h0M588.2 437.7h0M591.8 519.6h0M589.3 459.9h0M592.1 482.1h0M589 456.6h0M586.6 431.2h0M590.4 469h0M591.6 508.2h0M591.5 497.5h0M587.8 438.9h0M591.9 513.4h0M590.1 476.5h0M592.7 503.9h0M590.7 475.2h0M589.6 494h0M589.1 446.4h0M590 482.5h0M592.2 515.5h0M590.5 475.5h0M588.7 449.4h0M589.9 468.4h0M592.1 512.5h0M589.3 483.7h0M589.3 479.1h0M589.8 461.5h0M592.6 523.1h0M587.5 441.3h0M590.7 475.2h0M587.2 433.4h0M587.9 444.2h0M591.6 507.6h0M591.4 492.3h0M592.9 501.9h0M588.1 440.4h0M590.8 509h0M592.4 524.6h0M592.2 469h0M592.5 518.8h0M592.8 525.8h0M590.4 483.3h0M590.5 507.6h0M592.4 482.6h0M592.4 521.9h0M591.9 503.4h0M589.7 492h0M593.6 485.8h0M592 511.8h0M589 446.9h0M590.2 474.2h0M586.5 430.6h0M590.9 505.7h0M588.5 476.3h0M593.1 508.9h0M589.9 515.2h0M588.7 437.8h0M590 459.2h0M589.4 456.8h0M589.2 462h0M589.3 458.6h0M591.8 509.3h0M588.9 446.2h0M589.7 462.4h0M590.1 469.3h0M591 484.2h0M590.4 485h0M587.6 436.1h0M593 526h0M589.3 454.8h0M590.7 457.6h0M591.5 496.7h0M589.9 488.5h0M587.1 434.7h0M590.1 471.6h0M593.1 521.2h0M588.9 451.5h0M590.2 458.1h0M588.9 453.5h0M587.4 438h0M588.9 449.1h0M588.1 451.9h0M590.8 460h0M589.2 459h0M590.6 468.2h0M588 451.6h0M589.1 472.4h0M588.7 486.8h0M587.3 434.9h0M589.8 471.9h0M588.5 452.2h0M589.3 449h0M590.2 482.1h0M591.8 516.7h0M590.4 496.8h0M592.1 487h0M589.8 481.9h0M593 492.2h0M587.6 431.7h0M588.8 456.2h0M590.3 477.6h0M588.4 437h0M591 487.4h0M588.5 484.5h0M592.7 522.9h0M587.9 435.9h0M587.6 436.8h0M590.5 498.5h0M590.8 517.2h0M593 504.4h0M590.5 470.3h0M588.7 445.3h0M592.9 504.3h0M589.5 478h0M586.5 430.6h0M588 441.2h0M588.8 447.8h0M590.3 470h0M590.7 486.5h0M589.1 454.3h0M591.5 509.8h0M589.2 461.3h0M592.2 515.3h0M591.1 502.6h0M586.5 432.9h0M592.6 516.2h0M589.4 466.6h0M590.2 472.2h0M592.9 493.7h0M588.8 459.3h0M592 487.3h0M589.3 483.9h0M591.1 463.9h0M587.8 440.6h0M591.7 489.6h0M589.1 456.5h0M589 457.7h0M593.8 513.7h0M593 504.9h0M588.2 453.3h0M591 475.7h0M592.8 520.8h0M591.9 510.5h0M592.5 524.2h0M589.3 446.1h0M589.9 459.9h0M588.8 445.8h0M592.1 522.1h0M589.7 462.2h0M588 437.4h0M590.3 473.7h0M588.2 446.1h0M589.9 497h0M592.4 513.3h0M588.1 462.2h0M592.9 512.8h0M592.8 508.1h0M588.6 442.3h0M592.1 495.8h0M590.5 451h0M590.1 481.9h0M592.4 521.8h0M588.7 453.4h0M590.1 493.8h0M588.7 447.4h0M589.8 468.9h0M588.9 460.1h0M590.1 457.6h0M593.6 500.7h0M591.9 476.3h0M592.1 507.1h0M594.5 489.2h0M589.3 454.6h0M588.7 446.4h0M591.1 494.1h0M586.4 430.4h0M590.9 481.7h0M590.3 460.1h0M591.4 505.9h0M589.5 470.9h0M588.6 443.3h0M594.2 504.5h0M588.8 454.5h0M592.1 515.5h0M591.2 496.1h0M593.1 523h0M590.9 479.4h0M591.5 480.8h0M591.5 469.1h0M593.1 505.1h0M588.3 442.9h0M588.9 447.5h0M589.6 447.4h0M588.5 456.4h0M587.1 435.5h0M590.5 483.6h0M587.8 437.9h0M588.4 443.2h0M588.8 458.7h0M592.2 482.8h0M587.7 433.8h0M590.1 482.7h0M589.8 470.3h0M592.7 505h0M589.1 447.5h0M588.2 442.8h0M588.2 452.7h0M592 520.7h0M589.5 478.2h0M588.4 451.1h0M589 449.2h0M588.5 438.9h0M586.6 434.1h0M593 522.4h0M592.2 526.1h0M590.4 470.1h0M589.2 452h0M587.7 433.8h0M588.4 443.4h0M590.2 486.1h0M593.3 520.2h0M587.2 436.1h0M591.2 474.8h0M593.4 501.7h0M592.3 510.1h0M588.4 440h0M588.8 462.2h0M592.6 519h0M588.3 439.8h0M591 503.6h0M591.3 517.2h0M591 482.1h0M587.8 437.1h0M593.2 521.3h0M591.3 495.8h0M591.6 508.1h0M590.2 487.6h0M588.7 442.3h0M592.7 522.5h0M590.1 459.9h0M590.2 461.3h0M594.2 497.1h0M591.8 484.1h0M591.6 513.6h0M589.3 474.6h0M590.5 516h0M590.9 516h0M590.6 458.8h0M590.5 480.8h0M593.3 482.8h0M586.2 430.2h0M592.4 516.5h0M588.9 462.8h0M592.2 493.4h0M591.6 514.8h0M590.3 500.8h0M594.2 481.7h0M589.7 470.7h0M592.7 515.5h0M592.4 522.6h0M590.1 462.1h0M592.2 508.3h0M592.1 503.7h0M590.6 478h0M593.1 474.1h0M588.3 442.7h0M592.7 524.7h0M588.7 445h0M588.9 467.5h0M589.6 486.3h0M591.9 491.5h0M590.8 503.6h0M589.8 485.1h0M590.2 491.8h0M591.6 507.5h0M591.6 510.4h0M588.9 455.8h0M590.5 459.4h0M588.2 442.6h0M587.2 433.5h0M591 482.2h0M592.6 507.2h0M590.9 473.4h0M590.9 498.5h0M593.1 481.3h0M591.2 487.8h0M590.3 492h0M589 457.9h0M588 443h0M587.5 436.1h0M593.2 513.9h0M593 502.2h0M590.2 472.1h0M592.6 516.6h0M589.5 474.4h0M591.5 486.2h0M588 446.6h0M590.1 462.9h0M589.4 448.2h0M590.7 467h0M588.6 443.8h0M587.1 432.4h0M591.8 484.7h0M590.8 496h0M589 452h0M592.2 484h0M592.5 521.5h0M589.4 464.8h0M591 501.9h0M591.4 493.9h0M592.4 497.3h0M587.6 439.7h0M588.1 454.3h0M590.1 482.5h0M590.3 471.8h0M588.9 492h0M592.9 509.8h0M592.5 520.5h0M589.8 473.9h0M591.5 523.3h0M589.6 496.7h0M591.3 511.7h0M590.6 486.5h0M589.5 468.8h0M588.3 442.2h0M589.5 457.3h0M592.8 503.6h0M588.5 444.5h0M591 473h0M588.1 487.1h0M588.4 448.4h0M592.2 516.4h0M588.8 445.7h0M589 448.1h0M591.3 482h0M591.1 490.3h0M591.7 492.8h0M592.2 520.8h0M591.3 497.5h0M587.9 440.2h0M589.2 443.7h0M590.8 465.3h0M587.5 435.8h0M589.8 463.9h0M587.8 435.4h0M591.9 520.1h0M593.5 474.1h0M592.3 524.7h0M592.3 520.7h0M588.5 456.8h0M590.5 468.9h0M589.7 450.1h0M589.8 466.2h0M590.6 463.1h0M591.8 486.3h0M590.5 468.2h0M589.3 454.4h0M593.9 484.7h0M591 501.8h0M590.8 503.2h0M591.3 473h0M589.6 452.7h0M592.8 499.8h0M591.1 490.6h0M590.3 473.8h0M587.2 431.7h0M588.7 444.1h0M592.3 522.7h0M590.4 473.7h0M588.7 447.4h0M588.7 455.8h0M589.2 465.9h0M592.8 515.5h0M591.1 505.4h0M589.9 470.2h0M588.6 490h0M591.6 508.1h0M592.7 501.3h0M587.4 435.1h0M590.4 459.4h0M589.6 463.9h0M589.1 500.7h0M589.1 450.1h0M592.6 517.3h0M592.3 502.3h0M591.1 472.9h0M591.8 523.4h0M591.5 485.5h0M591.7 513.1h0M589.9 459.4h0M588.6 441.6h0M589.9 503.4h0M589 484.2h0M591.9 509.3h0M587.9 439.5h0M592.2 521h0M590.2 462.8h0M590.1 508.3h0M587.5 434h0M588.6 442.6h0M588.6 463.8h0M591.6 507.9h0M589.4 490.7h0M588.1 440.6h0M593.7 479.3h0M589.5 472.5h0M591.9 505.1h0M590.5 495.6h0M588.8 456.6h0M592.6 508.9h0M591.9 524.9h0M589.9 485h0M590.9 499.7h0M593 494.6h0M587.8 446.6h0M591.3 506.4h0M587.5 437.3h0M589.5 499.8h0M589.3 446.8h0M591.9 493.9h0M587.2 431.7h0M587.5 441.9h0M594.3 496.7h0M589 479.7h0M589.3 474h0M590.2 485h0M590.6 480.1h0M591.7 486.9h0M589.4 482.3h0M589.5 453.5h0M590 474h0M590.8 484.7h0M588.1 439.5h0M591 479.2h0M589.2 452.7h0M591.7 478.2h0M593 501.2h0M588.5 446.3h0M591.3 481.8h0M591.6 511.5h0M588.9 459.9h0M591.9 475.1h0M587.3 431h0M591 504.7h0M587.5 439.6h0M592.9 511.4h0M589.6 467.9h0M592 474.5h0M588.8 447.4h0M591.9 525.4h0M588 442.1h0M591 470.4h0M589.4 451.9h0M590.6 495.8h0M590.1 460.3h0M591.1 507.7h0M593.4 486.4h0M591.3 504.2h0M588.2 473.2h0M591.5 505.6h0M590.4 476.8h0M591.6 481.9h0M592.2 511.2h0M589.8 495.7h0M591.2 505.6h0M588 443.3h0M592.9 505.2h0M590.9 463.7h0M588.8 472.1h0M589.6 465.3h0M589 450.7h0M591.4 517.3h0M590.1 462h0M589.2 450.2h0M591.4 511.4h0M591.8 481.7h0M592.6 524.4h0M592.3 497.4h0M588.2 460h0M589.4 463.4h0M587.6 439.9h0M590.1 463.3h0M591.2 480.6h0M591.8 508.9h0M591.7 517.2h0M590.9 476.6h0M591.2 471.5h0M591.4 475.1h0M592.6 515.9h0M589.7 460.3h0M592.7 513.9h0M592.9 504.2h0M587.9 441.9h0M593.7 508.5h0M591 493.3h0M589.6 458.3h0M592.6 512.2h0M594 499.3h0M588.9 459.7h0M592.5 522h0M588.4 442.6h0M590.7 507.2h0M590.3 483.9h0M589.6 448.1h0M591.2 472.4h0M589.4 487.9h0M588.4 440.7h0M593.2 486.3h0M589.7 487.9h0M593 516.5h0M589.5 453.9h0M589.3 456.7h0M589 484.2h0M589.6 474.3h0M591.4 502.6h0M589.3 478h0M592.1 521.6h0M588 487.5h0M588.3 437.8h0M588 442.2h0M588.3 440.6h0M588.5 452.7h0M591.8 496.5h0M588.5 447.1h0M588.8 434.7h0M592.5 495.4h0M592.5 523.7h0M591 498.9h0M590.1 499h0M592.7 506.3h0M592.4 502.6h0M590.9 496.1h0M591.6 499.2h0M588.2 443.5h0M591.1 470.9h0M590.3 477.7h0M592.1 499.7h0M588 441.3h0M591.6 524.6h0M589.8 476.9h0M587.1 433.6h0M587.5 440.8h0M586.9 433.3h0M587.2 439.1h0M591 508.6h0M591 481.5h0M591.2 488.9h0M587.3 431.5h0M591 496.7h0M590.4 460.3h0M591.8 472.9h0M592 486.9h0M592.9 507.6h0M592 516.4h0M591.5 483.4h0M589.5 491.8h0M588.3 437.5h0M590.8 462.4h0M589.2 455.1h0M590.2 457.8h0M591.7 512.8h0M592.6 496.9h0M587.4 447.1h0M590.1 473.3h0M592.7 503.5h0M590.4 493.8h0M587.5 433.8h0M588.2 489.9h0M592.5 495.5h0M590.6 472.3h0M591.6 525.8h0M593.1 517.3h0M589.9 492.7h0M590.9 500.7h0M588.6 478.9h0M589.3 479h0M589.1 464.4h0M591.6 508.1h0M590.5 469.7h0M590.4 471.3h0M590.5 514.4h0M590.7 508.5h0M590.5 495.5h0M592.1 500.8h0M590.1 500.9h0M586.7 431.4h0M593.1 519.4h0M590.4 494h0M589.7 472.6h0M593.9 494.3h0M587.5 438h0M588.8 489.3h0M589.5 462h0M589.4 458.7h0M593.4 513.2h0M590.3 490.3h0M592.6 502.9h0M591 507.1h0M590.2 460.2h0M591.7 517.8h0M588.9 453.3h0M593.5 515.8h0M589.1 457.3h0M591.9 493.5h0M590.4 481.1h0M591.4 475.6h0M592.3 486.2h0M592 504.7h0M593.4 511h0M592 511.4h0M589.9 453.2h0M592.2 497.7h0M591.8 500.8h0M590.3 488.8h0M593.7 510.3h0M589.5 448.5h0M589.2 455.9h0M587.4 434.2h0M591.9 478.6h0M589.5 457.5h0M590.3 465.9h0M591.1 499.3h0M591.6 503.3h0M588.6 495.4h0M592.2 513.1h0M587.3 437h0M587.4 435.7h0M588.6 490.4h0M589.7 469.2h0M587.3 443.3h0M590.1 485.6h0M589.1 449h0M589.5 460.6h0M588 469.8h0M588 435.8h0M591.6 522.4h0M592.5 514.4h0M589.1 449.3h0M588.9 456.9h0M587.5 441h0M591 473.6h0M589.1 470.5h0M590.3 466h0M592.7 516.6h0M591.6 504h0M592.2 515.5h0M591.4 473.1h0M592.7 481.3h0M588 443.9h0M593.5 525.5h0M589.9 481.2h0M588 437h0M591.8 502.3h0M588.2 447.5h0M589.9 462.3h0M590.1 488.2h0M590.8 471.5h0M592.4 497.3h0M589.6 461.4h0M591.9 511.6h0M591.7 519h0M590.2 490.9h0M592.1 513.4h0M588.3 440.9h0M587.2 437.3h0M592.1 507.7h0M590.1 492.1h0M593 499.7h0M589 451.6h0M589.7 497.5h0M589.4 448.9h0M593 514.9h0M592.2 525.4h0M591.7 503.5h0M591.5 524.5h0M590.4 476.2h0M587.7 436.3h0M587.7 433.9h0M588.8 455.7h0M591 471.6h0M588.3 463.8h0M590.4 499.6h0M590.4 496.6h0M591.4 507.2h0M589.6 493.2h0M588.2 475.2h0M592.9 505h0M592.9 514.7h0M590.4 475.8h0M590.7 480.5h0M592.4 513.9h0M590.4 468.7h0M592.5 523.3h0M588.6 443.5h0M591.6 516.9h0M587.6 435.7h0M590.4 479h0M588 441.8h0M592.7 500.9h0M587.3 439.3h0M592.9 486.3h0M586.9 435.8h0M592.5 503.7h0M589.6 457.5h0M591.1 477.7h0M589.2 468.2h0M592.5 524.7h0M587.9 438.6h0M587.3 435.3h0M588.1 443.2h0M592 510.4h0M590.1 498.5h0M591.3 502.7h0M590.6 494.5h0M592 493.2h0M592.9 501.5h0M592.5 512.5h0M592.3 521h0M587.4 433.9h0M589.8 472.7h0M589.5 460.6h0M591.9 525.3h0M587.9 436.8h0M588.8 447.7h0M592.2 522.7h0M589.2 454.2h0M590.5 475.7h0M586.5 431.4h0M590.9 471h0M589.5 454.9h0M589.8 505.2h0M591.2 483.4h0M588.6 444.9h0M590 464.2h0M592 500.9h0M589.9 457.6h0M592.6 506.3h0M587.5 441.2h0M592.4 525.3h0M593.2 519.2h0M591.9 519.2h0M591.6 497.5h0M591.1 469.1h0M590 490.9h0M589.6 455.8h0M592.6 525h0M589.6 485.8h0M589.7 463h0M591.7 510.1h0M588.3 439h0M588 448.5h0M591.4 470.5h0M590.2 501.8h0M587.5 438.8h0M589.7 489.5h0M591 470.7h0M588.2 444.1h0M587.2 434.4h0M592.5 520.6h0M590.6 463.6h0M588.1 438.1h0M590.5 500.9h0M589 470.3h0M591.3 508.5h0M591.2 514.9h0M589.9 475.5h0M590.6 483.4h0M591.1 494.6h0M592.1 497.4h0M590.6 504.2h0M591.7 501.4h0M589.9 463.8h0M592.8 522.2h0M589.4 454.2h0M591.9 496.6h0M588.8 445.5h0M589.2 467.2h0M589.9 451.2h0M590.7 511.2h0M590.3 481.1h0M589 450.6h0M592.2 501.2h0M587.6 437.1h0M590.1 468.8h0M590.2 485.7h0M591.5 499.9h0M589.2 462.3h0M589.9 461.1h0M588.6 454.1h0M587.9 438.2h0M592.4 500.9h0M594 500.6h0M588.1 439.6h0M590.8 469.3h0M588.4 444.7h0M592.3 485.9h0M592.6 518.5h0M592.1 486.8h0M588.5 442.5h0M589.7 482.5h0M590.2 481.5h0M591.5 492.4h0M589.8 451.9h0M590.9 503.6h0M590.2 486.8h0M588.7 485.2h0M590.1 506.7h0M589.3 459h0M588.2 445.1h0M590.2 473.2h0M590.6 505.4h0M593.1 523.3h0M590.1 462.9h0M592.7 492.2h0M587.6 439.5h0M591.5 478.1h0M589.7 463.3h0M587.2 440.3h0M588.8 446h0M592.2 515h0M590.7 469.3h0M589.4 497.1h0M592.2 510.1h0M590 458.1h0M591.9 473.7h0M587.7 440.2h0M592.1 506h0M588.9 437.7h0M590.8 491.1h0M588.7 445.1h0M592.2 522.2h0M589.1 442.1h0M589.5 462.6h0M591.2 515.7h0M587.7 438.7h0M589 467.1h0M590.3 461.2h0M592.2 511.2h0M588.5 441.5h0M589.3 442.9h0M590.2 471.3h0M591.3 516.7h0M592.6 504.7h0M588.4 442.5h0M587.6 435.8h0M589.8 491h0M592.3 522.8h0M587.7 450.4h0M590 468h0M587.9 444.3h0M587.3 438h0M588.8 438.4h0M588.9 452.9h0M589.5 477.8h0M589.9 471.2h0M591.8 471.6h0M588.4 447.5h0M589.7 463.9h0M588.1 441.3h0M592.8 489.9h0M589.6 470.2h0M590.1 486.6h0M591.3 503.1h0M589.4 462.6h0M591.8 491.8h0M592.8 525.6h0M588.4 438.9h0M588.7 449.5h0M592 519.7h0M587.8 434.1h0M588.2 445.6h0M589.4 463.4h0M591.8 511.6h0M593.7 490.1h0M589.5 471.7h0M590.8 509.7h0M592.2 500.6h0M589 465.5h0M587.8 437.2h0M592.8 521.3h0M589 443.2h0M588 437.7h0M587.9 445.2h0M587.3 432.7h0M590.2 482.1h0M589.1 452.3h0M592.6 521.5h0M590 463.1h0M592.9 526.1h0M589.3 453.6h0M587.8 439.5h0M591.3 494.6h0M590.4 511.6h0M591 497.4h0M590.6 490.4h0M590.7 512.7h0M591.4 481.2h0M591.4 508.9h0M590.1 466.8h0M587.1 440.7h0M590.6 495.6h0M592.1 519.3h0M593.2 511.5h0M592.7 493h0M589.8 499.7h0M592.6 524h0M589.3 459.1h0M589.2 452.1h0M590.1 466.8h0M592.3 526h0M587.8 436.8h0M590.4 461h0M589.7 506.4h0M589.8 461.6h0M589.3 480.5h0M590.5 511.3h0M590.3 460.1h0M592.4 520.7h0M589 460.8h0M586.7 431.5h0M589 450.2h0M588.6 444.5h0M588.5 481.5h0M592.2 484.1h0M587.9 439.3h0M598 469.5h0M595.5 442.5h0M586.5 495h0M595.5 455h0" stroke="#E8961F" stroke-width="2.2" stroke-linecap="round" fill="none"/>
</svg></body></html>
